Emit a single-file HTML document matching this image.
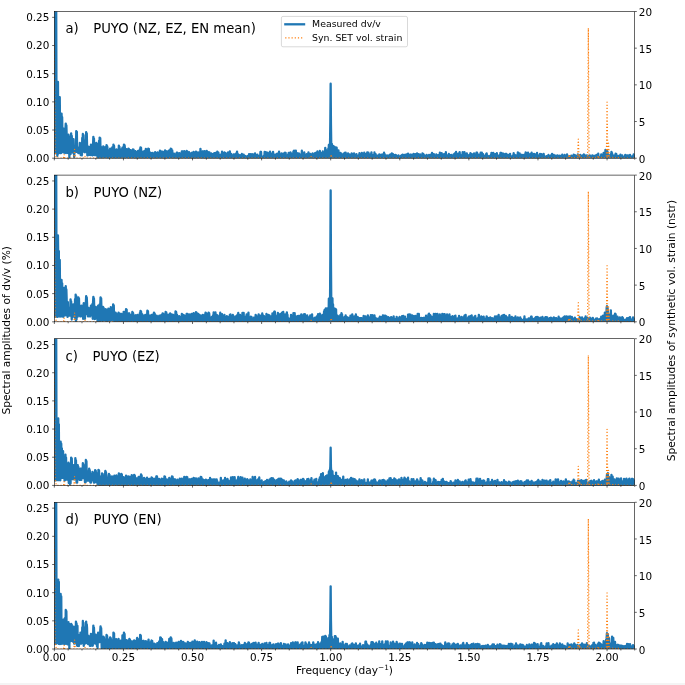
<!DOCTYPE html>
<html lang="en"><head><meta charset="utf-8"><title>PUYO dv/v spectra</title>
<style>html,body{margin:0;padding:0;background:#fff}body{width:685px;height:685px;overflow:hidden}svg{display:block}</style>
</head><body>
<svg width="685" height="685" viewBox="0 0 685 685" font-family="'DejaVu Sans', 'Liberation Sans', sans-serif" fill="#000">
<rect width="685" height="685" fill="#fff"/>
<rect x="0" y="683" width="685" height="2" fill="#f4f4f4"/>
<defs>
<clipPath id="c0"><rect x="54.35" y="11.5" width="580.35" height="146.7"/></clipPath>
<clipPath id="c1"><rect x="54.35" y="175.1" width="580.35" height="146.7"/></clipPath>
<clipPath id="c2"><rect x="54.35" y="338.7" width="580.35" height="146.7"/></clipPath>
<clipPath id="c3"><rect x="54.35" y="502.3" width="580.35" height="146.7"/></clipPath>
</defs>
<g id="panel0">
<path clip-path="url(#c0)" d="M54.35 -8.5L54.65 153.2L54.95 -8.5L55.25 118.2L55.55 -8.5L55.85 153.2L56.15 -8.5L56.45 98.2L56.75 133.4L57.05 95.7L57.35 155.9L57.65 95.4L57.95 82L58.25 127.9L58.55 153.6L58.85 97.8L59.15 153.1L59.45 126.9L59.75 97.2L60.05 130.1L60.35 153.1L60.65 139L60.95 153.2L61.25 132.2L61.55 113.6L61.85 124.4L62.15 117.2L62.45 139.7L62.75 152.2L63.05 139.1L63.35 152.4L63.65 128.7L63.95 152.6L64.25 137.2L64.55 152L64.85 130L65.15 153L65.45 129.9L65.75 123.6L66.05 141.4L66.35 125.3L66.65 134.6L66.95 153L67.25 139.3L67.55 152.9L67.85 145.9L68.15 153L68.45 134.6L68.75 153L69.05 136.3L69.35 157.4L69.65 149.1L69.95 153.8L70.25 147.3L70.55 154.1L70.85 144.1L71.15 133.4L71.45 146.8L71.75 135.9L72.05 143.6L72.35 152.5L72.65 145.8L72.95 152L73.25 149.1L73.55 139.2L73.85 149.6L74.15 157.1L74.45 149.2L74.75 151.8L75.05 146.3L75.35 152.1L75.65 146.3L75.95 151.9L76.25 131.1L76.55 151.5L76.85 131.8L77.15 151.8L77.45 147.5L77.75 152.3L78.05 148.6L78.35 153.1L78.65 151.4L78.95 153.1L79.25 147.5L79.55 153.1L79.85 142.8L80.15 153.1L80.45 143.6L80.75 155.2L81.05 151.4L81.35 155.1L81.65 147.1L81.95 155.4L82.25 137.9L82.55 151.4L82.85 133.9L83.15 151.8L83.45 135.1L83.75 151.7L84.05 148.3L84.35 140.4L84.65 149.8L84.95 152.3L85.25 146.5L85.55 151.6L85.85 144.4L86.15 132.2L86.45 144.8L86.75 133.3L87.05 145.5L87.35 155.4L87.65 150.2L87.95 155.3L88.25 147L88.55 146.6L88.85 147.2L89.15 147.4L89.45 148.4L89.75 154.9L90.05 152.3L90.35 155L90.65 150.9L90.95 144.6L91.25 149.9L91.55 144.9L91.85 150.6L92.15 155.3L92.45 149.8L92.75 155.3L93.05 145.6L93.35 136.9L93.65 140.5L93.95 138.6L94.25 147.8L94.55 155L94.85 150.1L95.15 155.2L95.45 147.6L95.75 155.1L96.05 146.1L96.35 142.8L96.65 150.6L96.95 143.8L97.25 148.2L97.55 157.6L97.85 152.4L98.15 156.3L98.45 151L98.75 158L99.05 140.8L99.35 156.3L99.65 137.6L99.95 157L100.25 138.2L100.55 156.9L100.85 146.6L101.15 157.8L101.45 153L101.75 157.8L102.05 148.4L102.35 156.8L102.65 149.8L102.95 157.2L103.25 146.3L103.55 157.5L103.85 147.2L104.15 156.9L104.45 148.8L104.75 157.2L105.05 147.5L105.35 156.7L105.65 150.3L105.95 157L106.25 149.6L106.55 145.1L106.85 151.5L107.15 146.2L107.45 147.8L107.75 158.2L108.05 150.1L108.35 157.9L108.65 154.1L108.95 158L109.25 150.6L109.55 157.6L109.85 153.2L110.15 148.6L110.45 152.2L110.75 149.4L111.05 153.1L111.35 157.4L111.65 154.3L111.95 157L112.25 147.4L112.55 157.4L112.85 150.5L113.15 158L113.45 144.6L113.75 157L114.05 145.8L114.35 157.2L114.65 153.1L114.95 158L115.25 154.2L115.55 157.2L115.85 154.9L116.15 158L116.45 149.3L116.75 157.5L117.05 150L117.35 157.8L117.65 154.9L117.95 157.5L118.25 152.7L118.55 157.6L118.85 145.6L119.15 157.9L119.45 146.8L119.75 157.1L120.05 150.8L120.35 157.8L120.65 154.6L120.95 157.6L121.25 149.3L121.55 157.2L121.85 150.2L122.15 157.3L122.45 147.6L122.75 157.4L123.05 150.9L123.35 157.4L123.65 149.8L123.95 144.6L124.25 152.4L124.55 145.2L124.85 147.3L125.15 157.8L125.45 153.5L125.75 157.2L126.05 151.7L126.35 149.1L126.65 151.8L126.95 149.5L127.25 150.9L127.55 157.4L127.85 153.9L128.15 158L128.45 148.6L128.75 157.8L129.05 149.2L129.35 157.7L129.65 153L129.95 158.2L130.25 151.4L130.55 150.2L130.85 153.6L131.15 150.5L131.45 152.3L131.75 157.4L132.05 152.8L132.35 157.7L132.65 151.6L132.95 149.3L133.25 152.7L133.55 149.7L133.85 153.5L134.15 157.4L134.45 154L134.75 158.1L135.05 152.1L135.35 151.3L135.65 152.9L135.95 151.5L136.25 152.7L136.55 158.1L136.85 155.2L137.15 158L137.45 154.1L137.75 157.8L138.05 150.9L138.35 158.2L138.65 151.3L138.95 157.6L139.25 152.1L139.55 157.5L139.85 149.4L140.15 157L140.45 147.4L140.75 158.1L141.05 147.7L141.35 157.2L141.65 155L141.95 158.1L142.25 152.8L142.55 157.7L142.85 152.8L143.15 151.6L143.45 155.3L143.75 152L144.05 152.8L144.35 158.1L144.65 151L144.95 158L145.25 150.7L145.55 158.1L145.85 148.9L146.15 157.7L146.45 149.3L146.75 157.2L147.05 153L147.35 157.7L147.65 151.4L147.95 157.5L148.25 148.6L148.55 157.4L148.85 148.8L149.15 157.2L149.45 155.1L149.75 157.9L150.05 155L150.35 152.6L150.65 156L150.95 152.8L151.25 155.1L151.55 158L151.85 155.3L152.15 157.6L152.45 154.9L152.75 153L153.05 154.8L153.35 157.7L153.65 155.1L153.95 157.6L154.25 155.4L154.55 158L154.85 155.2L155.15 152.1L155.45 153.8L155.75 157.9L156.05 155.7L156.35 157.8L156.65 154.6L156.95 157.8L157.25 153.9L157.55 152.3L157.85 154.6L158.15 152.7L158.45 153.1L158.75 157.6L159.05 154.8L159.35 157.3L159.65 154.8L159.95 150.7L160.25 155.3L160.55 151L160.85 152.7L161.15 158.1L161.45 152.5L161.75 157.8L162.05 152.4L162.35 158L162.65 151.7L162.95 157.5L163.25 151.9L163.55 157.8L163.85 155.2L164.15 157.5L164.45 154.1L164.75 157.5L165.05 150.5L165.35 158L165.65 151L165.95 157.8L166.25 154L166.55 157.6L166.85 151.7L167.15 157.6L167.45 154.6L167.75 151.3L168.05 155.1L168.35 151.5L168.65 155.2L168.95 158.1L169.25 150.3L169.55 158L169.85 153.2L170.15 157.1L170.45 152.3L170.75 148.6L171.05 153.5L171.35 148.8L171.65 154.1L171.95 157.8L172.25 150.5L172.55 157.4L172.85 154.9L173.15 157.9L173.45 154.1L173.75 157.9L174.05 153.6L174.35 157.8L174.65 154.6L174.95 157.9L175.25 154.5L175.55 158.1L175.85 154.1L176.15 158.1L176.45 153.9L176.75 152.6L177.05 153.6L177.35 152.8L177.65 154.4L177.95 158.2L178.25 155.4L178.55 158.1L178.85 154.3L179.15 158.1L179.45 153.2L179.75 158L180.05 153.5L180.35 157.6L180.65 155.5L180.95 158.1L181.25 154.2L181.55 158L181.85 151.3L182.15 157.7L182.45 151.4L182.75 157.5L183.05 154.5L183.35 157.4L183.65 154.7L183.95 157.5L184.25 151.2L184.55 157.4L184.85 151.9L185.15 157.8L185.45 154.2L185.75 157.9L186.05 155.1L186.35 157.6L186.65 150.9L186.95 157.4L187.25 151.5L187.55 157.8L187.85 153.5L188.15 157.6L188.45 153.3L188.75 157.8L189.05 152.2L189.35 157.6L189.65 154.3L189.95 157.8L190.25 154.7L190.55 157.6L190.85 155.4L191.15 157.6L191.45 152.8L191.75 157.9L192.05 152.8L192.35 157.4L192.65 152.7L192.95 158.1L193.25 154.3L193.55 151.9L193.85 155.9L194.15 158L194.45 154.4L194.75 158L195.05 154L195.35 157.8L195.65 153.1L195.95 151.6L196.25 153.4L196.55 152.1L196.85 152.7L197.15 157.5L197.45 155.8L197.75 157.9L198.05 155.1L198.35 152.5L198.65 152.6L198.95 152.9L199.25 155.7L199.55 157.4L199.85 154L200.15 157.7L200.45 148.8L200.75 157.2L201.05 153.3L201.35 157.5L201.65 155.5L201.95 158.1L202.25 154.1L202.55 151.3L202.85 154.6L203.15 151.5L203.45 154.5L203.75 158L204.05 153.1L204.35 157.6L204.65 151.2L204.95 158.1L205.25 151.9L205.55 157.5L205.85 154.6L206.15 157.4L206.45 153.6L206.75 150.9L207.05 155.6L207.35 157.7L207.65 152.5L207.95 157.3L208.25 154.3L208.55 158.1L208.85 152.1L209.15 157.8L209.45 152.5L209.75 157.8L210.05 154.1L210.35 158.2L210.65 157.1L210.95 157.7L211.25 153.3L211.55 158L211.85 157L212.15 157.8L212.45 154.2L212.75 158L213.05 154.4L213.35 158.1L213.65 154.7L213.95 157.7L214.25 153.1L214.55 158L214.85 156.1L215.15 157.9L215.45 152.9L215.75 158.2L216.05 156.2L216.35 157.6L216.65 157L216.95 158L217.25 151.7L217.55 157.9L217.85 155.4L218.15 157.7L218.45 152.7L218.75 158L219.05 156.1L219.35 157.8L219.65 155.4L219.95 158L220.25 154.8L220.55 158.2L220.85 155.4L221.15 157.7L221.45 154.3L221.75 157.8L222.05 151.6L222.35 158L222.65 153.1L222.95 157.9L223.25 156.3L223.55 157.7L223.85 152.9L224.15 158L224.45 152.5L224.75 157.8L225.05 156L225.35 157.8L225.65 153.1L225.95 158.2L226.25 154.7L226.55 158L226.85 156.9L227.15 157.8L227.45 154.4L227.75 157.6L228.05 152.5L228.35 157.9L228.65 154L228.95 158.2L229.25 156.6L229.55 157.8L229.85 151.5L230.15 158L230.45 154.2L230.75 157.7L231.05 153.8L231.35 158L231.65 155.6L231.95 157.8L232.25 155.9L232.55 158.1L232.85 156.7L233.15 158.1L233.45 154.5L233.75 157.7L234.05 154.6L234.35 157.6L234.65 154.3L234.95 157.8L235.25 155.7L235.55 158L235.85 154.2L236.15 158L236.45 153.1L236.75 158.1L237.05 151.6L237.35 157.6L237.65 155.5L237.95 158L238.25 154.3L238.55 157.8L238.85 154.8L239.15 157.7L239.45 155.2L239.75 158.1L240.05 155.3L240.35 157.8L240.65 156.3L240.95 157.6L241.25 154.9L241.55 157.8L241.85 154L242.15 158L242.45 157.4L242.75 158L243.05 157.6L243.35 158.1L243.65 154.6L243.95 158L244.25 156.2L244.55 157.7L244.85 156L245.15 158L245.45 156.6L245.75 157.8L246.05 156.3L246.35 157.8L246.65 156.7L246.95 157.7L247.25 156.8L247.55 157.9L247.85 155.9L248.15 158L248.45 155.6L248.75 158.1L249.05 154.2L249.35 157.9L249.65 154.8L249.95 157.7L250.25 154.1L250.55 157.9L250.85 155.3L251.15 158L251.45 156.5L251.75 157.8L252.05 154.2L252.35 157.9L252.65 156.3L252.95 157.9L253.25 156.4L253.55 158.2L253.85 154.5L254.15 158.2L254.45 155.8L254.75 157.8L255.05 153.3L255.35 157.9L255.65 156.1L255.95 158.1L256.25 155.4L256.55 158L256.85 155.6L257.15 158L257.45 154.7L257.75 157.9L258.05 155.9L258.35 158L258.65 157.1L258.95 157.7L259.25 156.1L259.55 157.6L259.85 155.7L260.15 157.8L260.45 152L260.75 157.9L261.05 152L261.35 158.1L261.65 157L261.95 158.1L262.25 157.1L262.55 157.6L262.85 156.6L263.15 157.8L263.45 157.1L263.75 157.8L264.05 155.6L264.35 157.8L264.65 151.9L264.95 157.8L265.25 155.5L265.55 157.7L265.85 152.2L266.15 157.6L266.45 153.2L266.75 157.9L267.05 157.4L267.35 158.1L267.65 152.7L267.95 157.6L268.25 156.7L268.55 157.8L268.85 155.8L269.15 157.6L269.45 153.2L269.75 158L270.05 151.7L270.35 157.9L270.65 156.8L270.95 157.9L271.25 153.6L271.55 157.8L271.85 156.8L272.15 158L272.45 155.4L272.75 158.1L273.05 151.8L273.35 158.2L273.65 155L273.95 158.1L274.25 154.6L274.55 157.6L274.85 157.5L275.15 158L275.45 156.1L275.75 157.7L276.05 154.5L276.35 157.6L276.65 157.4L276.95 157.6L277.25 153.6L277.55 157.8L277.85 156.6L278.15 157.6L278.45 154L278.75 158.1L279.05 151.7L279.35 158.1L279.65 157.4L279.95 157.8L280.25 155.8L280.55 158.1L280.85 155.5L281.15 157.9L281.45 153.5L281.75 157.9L282.05 155L282.35 158.2L282.65 153.8L282.95 157.8L283.25 155.1L283.55 157.7L283.85 154.3L284.15 157.8L284.45 152.9L284.75 157.7L285.05 153L285.35 157.8L285.65 152.8L285.95 157.8L286.25 156.3L286.55 158.1L286.85 156.9L287.15 157.5L287.45 156.8L287.75 157.9L288.05 154.6L288.35 157.8L288.65 153L288.95 157.7L289.25 155.6L289.55 157.7L289.85 154.4L290.15 157.9L290.45 152.3L290.75 157.9L291.05 154.5L291.35 157.5L291.65 153.7L291.95 158L292.25 154.6L292.55 158.2L292.85 154.7L293.15 157.9L293.45 151.3L293.75 158L294.05 150.7L294.35 157.5L294.65 156.1L294.95 157.7L295.25 155.3L295.55 158.1L295.85 150.7L296.15 158L296.45 154.2L296.75 158L297.05 153.2L297.35 157.8L297.65 155.7L297.95 157.5L298.25 156.4L298.55 157.8L298.85 153.5L299.15 158L299.45 154.1L299.75 157.8L300.05 156L300.35 157.6L300.65 155.4L300.95 157.7L301.25 155L301.55 157.7L301.85 150.7L302.15 157.7L302.45 154.9L302.75 158.2L303.05 156L303.35 158.1L303.65 156.2L303.95 158L304.25 152.3L304.55 157.9L304.85 158L305.15 158L305.45 157L305.75 157.9L306.05 155.1L306.35 157.8L306.65 154.1L306.95 158.1L307.25 155.2L307.55 157.8L307.85 156.5L308.15 157.7L308.45 152.4L308.75 157.5L309.05 154.5L309.35 157.7L309.65 156.9L309.95 158.1L310.25 154L310.55 158L310.85 156.7L311.15 157.6L311.45 154.6L311.75 158.2L312.05 155.9L312.35 157.5L312.65 153.4L312.95 157.8L313.25 157.4L313.55 158L313.85 156.5L314.15 157.9L314.45 154.1L314.75 157.7L315.05 153.1L315.35 158L315.65 153.7L315.95 158.2L316.25 152.6L316.55 157.9L316.85 154.2L317.15 157.7L317.45 151.5L317.75 157.6L318.05 153.7L318.35 157.8L318.65 155.1L318.95 158L319.25 155.4L319.55 158L319.85 151L320.15 157.8L320.45 155.5L320.75 157.9L321.05 154.5L321.35 158.2L321.65 152.8L321.95 157.8L322.25 156.5L322.55 157.6L322.85 151.5L323.15 157.8L323.45 155.1L323.75 158.1L324.05 153.4L324.35 158.1L324.65 153.9L324.95 158L325.25 147.9L325.55 157.3L325.85 149.7L326.15 158.2L326.45 152L326.75 157.6L327.05 154.1L327.35 157.2L327.65 153.7L327.95 158.1L328.25 148.7L328.55 157.7L328.85 145L329.15 158L329.45 144.5L329.75 157.4L330.05 143.9L330.35 120.5L330.65 83.7L330.95 124.2L331.25 144.9L331.55 157.8L331.85 143.8L332.15 157.7L332.45 145.8L332.75 157.2L333.05 146L333.35 158L333.65 155.3L333.95 157.6L334.25 146.6L334.55 157.8L334.85 151.1L335.15 157.5L335.45 147.7L335.75 158.1L336.05 147.7L336.35 157.6L336.65 147.7L336.95 157.7L337.25 154L337.55 158.1L337.85 154.8L338.15 157.7L338.45 150.4L338.75 158L339.05 156.5L339.35 157.9L339.65 155.6L339.95 157.9L340.25 152.9L340.55 158L340.85 154.8L341.15 158L341.45 153.6L341.75 157.7L342.05 154.4L342.35 157.9L342.65 155.9L342.95 158.2L343.25 156.1L343.55 158L343.85 153.8L344.15 157.8L344.45 153L344.75 157.9L345.05 154L345.35 157.9L345.65 152.6L345.95 157.6L346.25 155.3L346.55 157.9L346.85 154.9L347.15 157.7L347.45 156.3L347.75 157.8L348.05 153.4L348.35 157.9L348.65 157.4L348.95 157.8L349.25 154.3L349.55 157.9L349.85 156L350.15 157.6L350.45 155.9L350.75 158.2L351.05 154.6L351.35 157.8L351.65 153.3L351.95 157.8L352.25 155.1L352.55 158L352.85 154.5L353.15 158.1L353.45 154L353.75 157.9L354.05 153.3L354.35 158.1L354.65 155.4L354.95 158.2L355.25 155.4L355.55 158L355.85 155.8L356.15 158.2L356.45 154.1L356.75 158.1L357.05 156.4L357.35 158.1L357.65 156.1L357.95 157.8L358.25 157L358.55 158.2L358.85 155.1L359.15 158L359.45 153.2L359.75 157.9L360.05 154.4L360.35 158.1L360.65 154.3L360.95 157.8L361.25 155.9L361.55 158L361.85 152.8L362.15 158.2L362.45 155.2L362.75 157.8L363.05 153.9L363.35 157.9L363.65 155.6L363.95 158.1L364.25 152.6L364.55 158.1L364.85 156L365.15 158L365.45 154.1L365.75 157.9L366.05 156.8L366.35 157.7L366.65 154.9L366.95 158.1L367.25 152.4L367.55 158L367.85 155.6L368.15 157.8L368.45 152.7L368.75 157.7L369.05 156.3L369.35 158L369.65 156.4L369.95 157.7L370.25 154.3L370.55 157.7L370.85 155L371.15 158L371.45 152.4L371.75 157.7L372.05 156L372.35 157.9L372.65 157.2L372.95 157.9L373.25 155.2L373.55 157.8L373.85 157.1L374.15 158.2L374.45 152.5L374.75 158.1L375.05 154.3L375.35 157.7L375.65 154.1L375.95 158L376.25 156.3L376.55 158L376.85 157.8L377.15 157.9L377.45 155.6L377.75 158L378.05 157.1L378.35 158.1L378.65 155.4L378.95 157.7L379.25 154.5L379.55 158L379.85 154.6L380.15 157.7L380.45 155.7L380.75 158L381.05 155L381.35 158.1L381.65 154.6L381.95 157.8L382.25 156.8L382.55 158L382.85 158L383.15 158L383.45 154L383.75 158L384.05 152.7L384.35 158L384.65 154.2L384.95 157.7L385.25 155.4L385.55 157.9L385.85 156.6L386.15 157.9L386.45 156L386.75 158.1L387.05 155.5L387.35 157.9L387.65 155.9L387.95 157.9L388.25 157.1L388.55 157.8L388.85 157.4L389.15 157.7L389.45 155L389.75 157.9L390.05 156.4L390.35 158.2L390.65 154.5L390.95 158.1L391.25 156.1L391.55 158L391.85 153.3L392.15 157.7L392.45 154L392.75 157.9L393.05 154.2L393.35 157.8L393.65 154.9L393.95 158L394.25 155.7L394.55 157.8L394.85 155.4L395.15 158.1L395.45 154.9L395.75 158.1L396.05 155.1L396.35 157.9L396.65 156L396.95 157.7L397.25 156.9L397.55 158.1L397.85 156.1L398.15 158L398.45 155.3L398.75 157.9L399.05 157.3L399.35 158L399.65 156.6L399.95 157.8L400.25 156.5L400.55 157.8L400.85 155.8L401.15 158.2L401.45 155.5L401.75 158L402.05 156.5L402.35 157.9L402.65 154.6L402.95 157.7L403.25 155.9L403.55 158.1L403.85 156.2L404.15 158L404.45 154.9L404.75 158.1L405.05 157L405.35 157.7L405.65 157.1L405.95 157.8L406.25 154.5L406.55 158L406.85 155.5L407.15 158L407.45 154.7L407.75 158.2L408.05 153.6L408.35 158.2L408.65 157.4L408.95 157.8L409.25 154.9L409.55 158.1L409.85 157.9L410.15 157.8L410.45 154.6L410.75 157.9L411.05 154.6L411.35 158L411.65 154.8L411.95 158L412.25 157.3L412.55 157.8L412.85 155.3L413.15 158.2L413.45 153.9L413.75 158.1L414.05 157.2L414.35 157.9L414.65 156.5L414.95 158L415.25 154.1L415.55 158.2L415.85 156.6L416.15 157.8L416.45 157.7L416.75 157.8L417.05 153.5L417.35 158.2L417.65 156.5L417.95 158.1L418.25 154.2L418.55 158.1L418.85 157.1L419.15 158L419.45 154.9L419.75 157.8L420.05 154.5L420.35 158.2L420.65 156.8L420.95 158L421.25 156.5L421.55 157.8L421.85 156.4L422.15 157.7L422.45 153.3L422.75 158.2L423.05 153.9L423.35 158L423.65 154.4L423.95 157.8L424.25 155.5L424.55 157.9L424.85 156.9L425.15 158.2L425.45 155.9L425.75 157.7L426.05 155.6L426.35 157.8L426.65 154.9L426.95 157.7L427.25 156.3L427.55 157.9L427.85 156.4L428.15 158.1L428.45 155.6L428.75 157.9L429.05 154.8L429.35 157.9L429.65 156.6L429.95 158.1L430.25 156.5L430.55 157.9L430.85 154.8L431.15 158L431.45 154.2L431.75 158L432.05 152.9L432.35 158.1L432.65 157.2L432.95 157.7L433.25 156.4L433.55 158.2L433.85 154.1L434.15 157.9L434.45 155.8L434.75 158.1L435.05 156.4L435.35 157.7L435.65 156.2L435.95 158.1L436.25 154.5L436.55 158L436.85 155.8L437.15 158.1L437.45 155.4L437.75 157.7L438.05 155.2L438.35 157.9L438.65 155.3L438.95 158.2L439.25 155.6L439.55 157.7L439.85 152.7L440.15 158.1L440.45 155.2L440.75 157.9L441.05 157L441.35 157.9L441.65 153.2L441.95 157.7L442.25 156.2L442.55 157.7L442.85 155.6L443.15 158.1L443.45 154.3L443.75 158L444.05 154.2L444.35 158.1L444.65 154.7L444.95 158.1L445.25 155.4L445.55 158L445.85 152.2L446.15 157.7L446.45 154.8L446.75 158L447.05 157.1L447.35 157.9L447.65 156.7L447.95 157.9L448.25 156.4L448.55 158L448.85 154L449.15 157.7L449.45 154.8L449.75 158.1L450.05 156.1L450.35 158L450.65 156.2L450.95 157.9L451.25 155L451.55 157.7L451.85 155.3L452.15 158.2L452.45 156.8L452.75 157.8L453.05 155.5L453.35 157.7L453.65 154.4L453.95 157.9L454.25 155.3L454.55 158L454.85 153.3L455.15 157.8L455.45 156.6L455.75 157.7L456.05 152L456.35 158.1L456.65 153.7L456.95 158.2L457.25 155.8L457.55 157.6L457.85 156.8L458.15 158.2L458.45 153.6L458.75 157.9L459.05 154.7L459.35 157.8L459.65 152.1L459.95 157.9L460.25 154.6L460.55 158.1L460.85 155.8L461.15 157.9L461.45 157.2L461.75 158.1L462.05 157L462.35 157.8L462.65 152.1L462.95 157.7L463.25 152.8L463.55 157.7L463.85 157.4L464.15 157.9L464.45 152.2L464.75 158.2L465.05 154L465.35 158.1L465.65 154L465.95 157.9L466.25 155.8L466.55 158L466.85 153.5L467.15 158L467.45 158L467.75 157.9L468.05 155.6L468.35 158.1L468.65 156.8L468.95 158.1L469.25 154.8L469.55 157.9L469.85 156.8L470.15 158L470.45 153.1L470.75 157.8L471.05 155.5L471.35 157.8L471.65 154.2L471.95 157.6L472.25 155.4L472.55 158.2L472.85 156.2L473.15 157.9L473.45 154.1L473.75 158.1L474.05 153.5L474.35 157.9L474.65 155.5L474.95 157.8L475.25 157.1L475.55 157.7L475.85 154.9L476.15 157.9L476.45 152.6L476.75 158L477.05 152.6L477.35 158L477.65 157.2L477.95 157.8L478.25 155.9L478.55 157.7L478.85 154.7L479.15 157.7L479.45 155L479.75 158.2L480.05 154.7L480.35 157.9L480.65 152.7L480.95 157.9L481.25 156.6L481.55 157.7L481.85 152.7L482.15 157.9L482.45 156.8L482.75 158L483.05 154.2L483.35 158L483.65 157.5L483.95 158L484.25 156.5L484.55 157.8L484.85 156L485.15 158.1L485.45 155.8L485.75 158.1L486.05 154.1L486.35 157.8L486.65 153.4L486.95 157.7L487.25 155.3L487.55 157.7L487.85 156.5L488.15 158.1L488.45 156.4L488.75 158.2L489.05 156.1L489.35 157.7L489.65 157.7L489.95 158.2L490.25 156.3L490.55 158L490.85 154.9L491.15 157.8L491.45 152.8L491.75 157.7L492.05 155.9L492.35 158.1L492.65 156L492.95 158.1L493.25 152.8L493.55 158.1L493.85 153.9L494.15 157.8L494.45 154.3L494.75 157.7L495.05 154.5L495.35 157.8L495.65 154.2L495.95 157.7L496.25 155.1L496.55 157.8L496.85 153.2L497.15 157.9L497.45 156.2L497.75 158.1L498.05 156.7L498.35 157.9L498.65 155.7L498.95 158L499.25 155.4L499.55 158L499.85 155.6L500.15 157.9L500.45 152.8L500.75 157.7L501.05 153L501.35 157.9L501.65 157.6L501.95 157.7L502.25 154.7L502.55 158.2L502.85 153.3L503.15 158.1L503.45 155.1L503.75 157.7L504.05 156.7L504.35 157.7L504.65 154.1L504.95 158.1L505.25 153.9L505.55 157.7L505.85 155.1L506.15 157.7L506.45 154L506.75 157.8L507.05 155L507.35 158.1L507.65 156.2L507.95 157.7L508.25 154.8L508.55 158.1L508.85 157.6L509.15 157.9L509.45 156.4L509.75 158L510.05 153.9L510.35 157.8L510.65 156.7L510.95 157.8L511.25 156.5L511.55 158.1L511.85 156.5L512.15 158L512.45 156.5L512.75 157.9L513.05 155.4L513.35 158.1L513.65 153.2L513.95 158.1L514.25 156.7L514.55 157.7L514.85 154.8L515.15 157.7L515.45 156.5L515.75 157.8L516.05 156.7L516.35 157.9L516.65 155.3L516.95 158L517.25 157.1L517.55 158.1L517.85 152.4L518.15 157.8L518.45 154.6L518.75 157.7L519.05 154.2L519.35 157.9L519.65 153.4L519.95 157.8L520.25 155.5L520.55 157.8L520.85 156.2L521.15 158.1L521.45 155L521.75 157.9L522.05 154.9L522.35 157.6L522.65 157L522.95 157.7L523.25 155.5L523.55 157.8L523.85 156.6L524.15 158L524.45 154.7L524.75 158.1L525.05 156L525.35 157.9L525.65 152.5L525.95 157.8L526.25 153.3L526.55 157.8L526.85 153.3L527.15 157.7L527.45 153.5L527.75 157.8L528.05 152.6L528.35 158L528.65 157.2L528.95 158L529.25 156.5L529.55 157.8L529.85 154.3L530.15 157.8L530.45 153.9L530.75 158L531.05 155.1L531.35 157.8L531.65 152.7L531.95 157.7L532.25 154.1L532.55 157.8L532.85 155.5L533.15 157.9L533.45 154.6L533.75 157.9L534.05 153.8L534.35 157.8L534.65 155.2L534.95 158.1L535.25 154.4L535.55 158L535.85 155L536.15 157.8L536.45 156.3L536.75 158.2L537.05 153L537.35 158L537.65 155.2L537.95 158.2L538.25 156.3L538.55 158L538.85 157.4L539.15 158.1L539.45 155.5L539.75 158.2L540.05 153.8L540.35 157.8L540.65 156.3L540.95 157.9L541.25 154.1L541.55 158L541.85 156.6L542.15 157.9L542.45 154.8L542.75 158L543.05 155.7L543.35 158.2L543.65 153.8L543.95 158.1L544.25 155.7L544.55 157.8L544.85 157.8L545.15 157.7L545.45 157.2L545.75 157.7L546.05 157.7L546.35 157.8L546.65 156.2L546.95 158.2L547.25 156.9L547.55 158.2L547.85 157.1L548.15 158.1L548.45 155L548.75 158L549.05 155.9L549.35 158.1L549.65 156.7L549.95 158L550.25 157.4L550.55 157.9L550.85 155.5L551.15 157.9L551.45 155.2L551.75 157.9L552.05 153.9L552.35 158.1L552.65 157.1L552.95 157.9L553.25 156.6L553.55 158.1L553.85 155L554.15 157.9L554.45 155.8L554.75 158.1L555.05 155.8L555.35 158.1L555.65 155.7L555.95 157.8L556.25 156.7L556.55 158.2L556.85 156.9L557.15 158.1L557.45 155.4L557.75 157.9L558.05 155.7L558.35 158.2L558.65 157.3L558.95 158.1L559.25 156.1L559.55 158L559.85 155.6L560.15 158L560.45 155.8L560.75 158L561.05 157.2L561.35 158L561.65 156.5L561.95 157.8L562.25 154.6L562.55 158.1L562.85 157L563.15 158.1L563.45 156.2L563.75 157.9L564.05 155.8L564.35 157.9L564.65 155L564.95 158L565.25 155.6L565.55 158L565.85 157.4L566.15 158L566.45 157.7L566.75 158L567.05 154.3L567.35 157.8L567.65 157L567.95 158.2L568.25 156.7L568.55 158.1L568.85 156.5L569.15 158.2L569.45 157L569.75 158.1L570.05 156.2L570.35 158L570.65 156.1L570.95 157.9L571.25 155.6L571.55 157.8L571.85 157.8L572.15 158L572.45 156.4L572.75 157.8L573.05 156.4L573.35 157.8L573.65 154.6L573.95 157.9L574.25 156.2L574.55 158L574.85 155.1L575.15 157.9L575.45 156.7L575.75 157.8L576.05 155.8L576.35 157.8L576.65 157.1L576.95 157.9L577.25 156.4L577.55 157.8L577.85 154.5L578.15 158L578.45 155.8L578.75 158L579.05 155.6L579.35 158L579.65 155.2L579.95 158L580.25 154.9L580.55 157.8L580.85 155.9L581.15 158L581.45 156.3L581.75 157.9L582.05 155.7L582.35 157.9L582.65 155.5L582.95 158.1L583.25 155.7L583.55 157.8L583.85 154.5L584.15 158.1L584.45 156.3L584.75 157.9L585.05 155.4L585.35 158L585.65 158L585.95 158.1L586.25 158.1L586.55 158.1L586.85 155.4L587.15 158.1L587.45 157.5L587.75 157.8L588.05 155.9L588.35 157.8L588.65 157.4L588.95 157.8L589.25 157.6L589.55 158L589.85 155.5L590.15 157.9L590.45 156.4L590.75 157.9L591.05 157.5L591.35 158.2L591.65 157.7L591.95 157.9L592.25 155.4L592.55 158L592.85 156.9L593.15 158.1L593.45 155.9L593.75 158L594.05 157.1L594.35 158.1L594.65 155.8L594.95 158L595.25 156L595.55 158.1L595.85 156.5L596.15 157.9L596.45 154.8L596.75 157.9L597.05 157.1L597.35 158L597.65 155.7L597.95 158L598.25 153.7L598.55 157.9L598.85 156.6L599.15 157.8L599.45 158L599.75 157.9L600.05 157.9L600.35 158L600.65 156.8L600.95 158L601.25 154.4L601.55 157.7L601.85 157.7L602.15 157.8L602.45 155.6L602.75 158L603.05 154.6L603.35 158L603.65 152.9L603.95 158.2L604.25 156L604.55 157.7L604.85 154.2L605.15 158.1L605.45 149.8L605.75 157.9L606.05 153.2L606.35 158.1L606.65 152.8L606.95 150.8L607.25 153.1L607.55 151.7L607.85 156.4L608.15 158.1L608.45 155.1L608.75 158.1L609.05 156.2L609.35 157.5L609.65 155.4L609.95 157.7L610.25 156.3L610.55 158L610.85 154.2L611.15 157.6L611.45 151.8L611.75 158L612.05 153.1L612.35 157.9L612.65 155L612.95 158.1L613.25 156.8L613.55 158L613.85 156.2L614.15 158.1L614.45 155.6L614.75 157.7L615.05 155.1L615.35 158.1L615.65 153.7L615.95 158L616.25 154L616.55 158.1L616.85 156.1L617.15 158.1L617.45 156.2L617.75 157.7L618.05 155.8L618.35 157.7L618.65 156.2L618.95 158L619.25 155.8L619.55 158L619.85 156.7L620.15 158.1L620.45 154.6L620.75 158.1L621.05 155.4L621.35 158L621.65 155.8L621.95 158.1L622.25 155.4L622.55 158.1L622.85 157.5L623.15 157.8L623.45 156.8L623.75 158.1L624.05 157.8L624.35 157.9L624.65 157.5L624.95 158.1L625.25 154.9L625.55 157.8L625.85 155.1L626.15 157.8L626.45 157.5L626.75 158.2L627.05 157.5L627.35 158.1L627.65 155.3L627.95 158.1L628.25 156.1L628.55 157.8L628.85 157.3L629.15 157.9L629.45 155.1L629.75 157.8L630.05 154.8L630.35 157.8L630.65 156.8L630.95 157.8L631.25 156.5L631.55 158.2L631.85 157L632.15 157.9L632.45 156.5L632.75 157.9L633.05 155.9L633.35 157.8L633.65 154.4L633.95 157.9L634.25 156.3L634.55 158" fill="none" stroke="#1f77b4" stroke-width="2.3" stroke-linejoin="round" stroke-linecap="butt"/>
<path d="M54.35 158.2v2.2M68.17 158.2v1.5M81.99 158.2v1.5M95.8 158.2v1.5M109.62 158.2v1.5M123.44 158.2v2.2M137.26 158.2v1.5M151.08 158.2v1.5M164.89 158.2v1.5M178.71 158.2v1.5M192.53 158.2v2.2M206.35 158.2v1.5M220.16 158.2v1.5M233.98 158.2v1.5M247.8 158.2v1.5M261.62 158.2v2.2M275.44 158.2v1.5M289.25 158.2v1.5M303.07 158.2v1.5M316.89 158.2v1.5M330.71 158.2v2.2M344.53 158.2v1.5M358.34 158.2v1.5M372.16 158.2v1.5M385.98 158.2v1.5M399.8 158.2v2.2M413.61 158.2v1.5M427.43 158.2v1.5M441.25 158.2v1.5M455.07 158.2v1.5M468.89 158.2v2.2M482.7 158.2v1.5M496.52 158.2v1.5M510.34 158.2v1.5M524.16 158.2v1.5M537.98 158.2v2.2M551.79 158.2v1.5M565.61 158.2v1.5M579.43 158.2v1.5M593.25 158.2v1.5M607.06 158.2v2.2M620.88 158.2v1.5M634.7 158.2v1.5M54.35 158.2h-2.2M54.35 130.03h-2.2M54.35 101.86h-2.2M54.35 73.69h-2.2M54.35 45.52h-2.2M54.35 17.35h-2.2M634.7 158.2h2.1M634.7 121.52h2.1M634.7 84.85h2.1M634.7 48.17h2.1M634.7 11.5h2.1" stroke="#000" stroke-width="0.6" fill="none"/>
<text x="49.35" y="162.15" font-size="10.4" text-anchor="end">0.00</text>
<text x="49.35" y="133.98" font-size="10.4" text-anchor="end">0.05</text>
<text x="49.35" y="105.81" font-size="10.4" text-anchor="end">0.10</text>
<text x="49.35" y="77.64" font-size="10.4" text-anchor="end">0.15</text>
<text x="49.35" y="49.47" font-size="10.4" text-anchor="end">0.20</text>
<text x="49.35" y="21.3" font-size="10.4" text-anchor="end">0.25</text>
<text x="638.8" y="162.8" font-size="10.4">0</text>
<text x="638.8" y="126.12" font-size="10.4">5</text>
<text x="638.8" y="89.45" font-size="10.4">10</text>
<text x="638.8" y="52.77" font-size="10.4">15</text>
<text x="638.8" y="16.1" font-size="10.4">20</text>
<path clip-path="url(#c0)" d="M54.35 45.2L55 151.6L55.65 153.8L56.3 158.2L56.95 158.2L57.6 158.2L58.25 158.2L58.9 158.2L59.55 158.2L60.2 158.2L60.85 158.2L61.5 158.2L62.15 158.2L62.8 158.2L63.45 158.2L64.1 154.5L64.75 158.2L65.4 158.2L66.05 158.2L66.7 158.2L67.35 158.2L68 158.2L68.65 158.2L69.3 158.2L69.95 158.2L70.6 158.2L71.25 158.2L71.9 158.2L72.55 158.2L73.2 158.2L73.85 158.2L74.5 158.2L75.15 158.2L75.8 158.2L76.45 158.2L77.1 158.2L77.75 158.2L78.4 158.2L79.05 158.2L79.7 158.2L80.35 158.2L81 158.2L81.65 158.2L82.3 158.2L82.95 158.2L83.6 158.2L84.25 158.2L84.9 156.4L85.55 158.2L86.2 158.2L86.85 158.2L87.5 158.2L88.15 158.2L88.8 158.2L89.45 158.2L90.1 158.2L90.75 158.2L91.4 158.2L92.05 158.2L92.7 158.2L93.35 158.2L94 158.2L94.65 158.2L95.3 158.2L95.95 158.2L96.6 158.2L97.25 158.2L97.9 158.2L98.55 158.2L99.2 158.2L99.85 158.2L100.5 158.2L101.15 158.2L101.8 158.2L102.45 158.2L103.1 158.2L103.75 158.2L104.4 158.2L105.05 158.2L105.7 158.2L106.35 158.2L107 158.2L107.65 158.2L108.3 158.2L108.95 158.2L109.6 158.2L110.25 158.2L110.9 158.2L111.55 158.2L112.2 158.2L112.85 158.2L113.5 158.2L114.15 158.2L114.8 158.2L115.45 158.2L116.1 158.2L116.75 158.2L117.4 158.2L118.05 158.2L118.7 158.2L119.35 158.2L120 158.2L120.65 158.2L121.3 158.2L121.95 158.2L122.6 158.2L123.25 158.2L123.9 158.2L124.55 158.2L125.2 158.2L125.85 158.2L126.5 158.2L127.15 158.2L127.8 158.2L128.45 158.2L129.1 158.2L129.75 158.2L130.4 158.2L131.05 158.2L131.7 158.2L132.35 158.2L133 158.2L133.65 158.2L134.3 158.2L134.95 158.2L135.6 158.2L136.25 158.2L136.9 158.2L137.55 158.2L138.2 158.2L138.85 158.2L139.5 158.2L140.15 158.2L140.8 158.2L141.45 158.2L142.1 158.2L142.75 158.2L143.4 158.2L144.05 158.2L144.7 158.2L145.35 158.2L146 158.2L146.65 158.2L147.3 158.2L147.95 158.2L148.6 158.2L149.25 158.2L149.9 158.2L150.55 158.2L151.2 158.2L151.85 158.2L152.5 158.2L153.15 158.2L153.8 158.2L154.45 158.2L155.1 158.2L155.75 158.2L156.4 158.2L157.05 158.2L157.7 158.2L158.35 158.2L159 158.2L159.65 158.2L160.3 158.2L160.95 158.2L161.6 158.2L162.25 158.2L162.9 158.2L163.55 158.2L164.2 158.2L164.85 158.2L165.5 158.2L166.15 158.2L166.8 158.2L167.45 158.2L168.1 158.2L168.75 158.2L169.4 158.2L170.05 158.2L170.7 158.2L171.35 158.2L172 158.2L172.65 158.2L173.3 158.2L173.95 158.2L174.6 158.2L175.25 158.2L175.9 158.2L176.55 158.2L177.2 158.2L177.85 158.2L178.5 158.2L179.15 158.2L179.8 158.2L180.45 158.2L181.1 158.2L181.75 158.2L182.4 158.2L183.05 158.2L183.7 158.2L184.35 158.2L185 158.2L185.65 158.2L186.3 158.2L186.95 158.2L187.6 158.2L188.25 158.2L188.9 158.2L189.55 158.2L190.2 158.2L190.85 158.2L191.5 158.2L192.15 158.2L192.8 158.2L193.45 158.2L194.1 158.2L194.75 158.2L195.4 158.2L196.05 158.2L196.7 158.2L197.35 158.2L198 158.2L198.65 158.2L199.3 158.2L199.95 158.2L200.6 158.2L201.25 158.2L201.9 158.2L202.55 158.2L203.2 158.2L203.85 158.2L204.5 158.2L205.15 158.2L205.8 158.2L206.45 158.2L207.1 158.2L207.75 158.2L208.4 158.2L209.05 158.2L209.7 158.2L210.35 158.2L211 158.2L211.65 158.2L212.3 158.2L212.95 158.2L213.6 158.2L214.25 158.2L214.9 158.2L215.55 158.2L216.2 158.2L216.85 158.2L217.5 158.2L218.15 158.2L218.8 158.2L219.45 158.2L220.1 158.2L220.75 158.2L221.4 158.2L222.05 158.2L222.7 158.2L223.35 158.2L224 158.2L224.65 158.2L225.3 158.2L225.95 158.2L226.6 158.2L227.25 158.2L227.9 158.2L228.55 158.2L229.2 158.2L229.85 158.2L230.5 158.2L231.15 158.2L231.8 158.2L232.45 158.2L233.1 158.2L233.75 158.2L234.4 158.2L235.05 158.2L235.7 158.2L236.35 158.2L237 158.2L237.65 158.2L238.3 158.2L238.95 158.2L239.6 158.2L240.25 158.2L240.9 158.2L241.55 158.2L242.2 158.2L242.85 158.2L243.5 158.2L244.15 158.2L244.8 158.2L245.45 158.2L246.1 158.2L246.75 158.2L247.4 158.2L248.05 158.2L248.7 158.2L249.35 158.2L250 158.2L250.65 158.2L251.3 158.2L251.95 158.2L252.6 158.2L253.25 158.2L253.9 158.2L254.55 158.2L255.2 158.2L255.85 158.2L256.5 158.2L257.15 158.2L257.8 158.2L258.45 158.2L259.1 158.2L259.75 158.2L260.4 158.2L261.05 158.2L261.7 158.2L262.35 158.2L263 158.2L263.65 158.2L264.3 158.2L264.95 158.2L265.6 158.2L266.25 158.2L266.9 158.2L267.55 158.2L268.2 158.2L268.85 158.2L269.5 158.2L270.15 158.2L270.8 158.2L271.45 158.2L272.1 158.2L272.75 158.2L273.4 158.2L274.05 158.2L274.7 158.2L275.35 158.2L276 158.2L276.65 158.2L277.3 158.2L277.95 158.2L278.6 158.2L279.25 158.2L279.9 158.2L280.55 158.2L281.2 158.2L281.85 158.2L282.5 158.2L283.15 158.2L283.8 158.2L284.45 158.2L285.1 158.2L285.75 158.2L286.4 158.2L287.05 158.2L287.7 158.2L288.35 158.2L289 158.2L289.65 158.2L290.3 158.2L290.95 158.2L291.6 158.2L292.25 158.2L292.9 158.2L293.55 158.2L294.2 158.2L294.85 158.2L295.5 158.2L296.15 158.2L296.8 158.2L297.45 158.2L298.1 158.2L298.75 158.2L299.4 158.2L300.05 158.2L300.7 158.2L301.35 158.2L302 158.2L302.65 158.2L303.3 158.2L303.95 158.2L304.6 158.2L305.25 158.2L305.9 158.2L306.55 158.2L307.2 158.2L307.85 158.2L308.5 158.2L309.15 158.2L309.8 158.2L310.45 158.2L311.1 156.6L311.75 158.2L312.4 158.2L313.05 158.2L313.7 158.2L314.35 158.2L315 158.2L315.65 158.2L316.3 158.2L316.95 158.2L317.6 158.2L318.25 158.2L318.9 158.2L319.55 158.2L320.2 158.2L320.85 158.2L321.5 158.2L322.15 158.2L322.8 158.2L323.45 158.2L324.1 158.2L324.75 158.2L325.4 158.2L326.05 158.2L326.7 158.2L327.35 158.2L328 158.2L328.65 158.2L329.3 158.2L329.95 158.2L330.6 157.1L331.25 154.5L331.9 158.2L332.55 158.2L333.2 158.2L333.85 158.2L334.5 158.2L335.15 158.2L335.8 158.2L336.45 158.2L337.1 158.2L337.75 158.2L338.4 158.2L339.05 158.2L339.7 158.2L340.35 158.2L341 158.2L341.65 158.2L342.3 158.2L342.95 158.2L343.6 158.2L344.25 158.2L344.9 158.2L345.55 158.2L346.2 158.2L346.85 158.2L347.5 158.2L348.15 158.2L348.8 158.2L349.45 158.2L350.1 158.2L350.75 158.2L351.4 158.2L352.05 158.2L352.7 158.2L353.35 158.2L354 158.2L354.65 158.2L355.3 158.2L355.95 158.2L356.6 158.2L357.25 158.2L357.9 158.2L358.55 158.2L359.2 158.2L359.85 158.2L360.5 158.2L361.15 158.2L361.8 158.2L362.45 158.2L363.1 158.2L363.75 158.2L364.4 158.2L365.05 158.2L365.7 158.2L366.35 158.2L367 158.2L367.65 158.2L368.3 158.2L368.95 158.2L369.6 158.2L370.25 158.2L370.9 158.2L371.55 158.2L372.2 158.2L372.85 158.2L373.5 158.2L374.15 158.2L374.8 158.2L375.45 158.2L376.1 158.2L376.75 158.2L377.4 158.2L378.05 158.2L378.7 158.2L379.35 158.2L380 158.2L380.65 158.2L381.3 158.2L381.95 158.2L382.6 158.2L383.25 158.2L383.9 158.2L384.55 158.2L385.2 158.2L385.85 158.2L386.5 158.2L387.15 158.2L387.8 158.2L388.45 158.2L389.1 158.2L389.75 158.2L390.4 158.2L391.05 158.2L391.7 158.2L392.35 158.2L393 158.2L393.65 158.2L394.3 158.2L394.95 158.2L395.6 158.2L396.25 158.2L396.9 158.2L397.55 158.2L398.2 158.2L398.85 158.2L399.5 158.2L400.15 158.2L400.8 158.2L401.45 158.2L402.1 158.2L402.75 158.2L403.4 158.2L404.05 158.2L404.7 158.2L405.35 158.2L406 158.2L406.65 158.2L407.3 158.2L407.95 158.2L408.6 158.2L409.25 158.2L409.9 158.2L410.55 158.2L411.2 158.2L411.85 158.2L412.5 158.2L413.15 158.2L413.8 158.2L414.45 158.2L415.1 158.2L415.75 158.2L416.4 158.2L417.05 158.2L417.7 158.2L418.35 158.2L419 158.2L419.65 158.2L420.3 158.2L420.95 158.2L421.6 158.2L422.25 158.2L422.9 158.2L423.55 158.2L424.2 158.2L424.85 158.2L425.5 158.2L426.15 158.2L426.8 158.2L427.45 158.2L428.1 158.2L428.75 158.2L429.4 158.2L430.05 158.2L430.7 158.2L431.35 158.2L432 158.2L432.65 158.2L433.3 158.2L433.95 158.2L434.6 158.2L435.25 158.2L435.9 158.2L436.55 158.2L437.2 158.2L437.85 158.2L438.5 158.2L439.15 158.2L439.8 158.2L440.45 158.2L441.1 158.2L441.75 158.2L442.4 158.2L443.05 158.2L443.7 158.2L444.35 158.2L445 158.2L445.65 158.2L446.3 158.2L446.95 158.2L447.6 158.2L448.25 158.2L448.9 158.2L449.55 158.2L450.2 158.2L450.85 158.2L451.5 158.2L452.15 158.2L452.8 158.2L453.45 158.2L454.1 158.2L454.75 158.2L455.4 158.2L456.05 158.2L456.7 158.2L457.35 158.2L458 158.2L458.65 158.2L459.3 158.2L459.95 158.2L460.6 158.2L461.25 158.2L461.9 158.2L462.55 158.2L463.2 158.2L463.85 158.2L464.5 158.2L465.15 158.2L465.8 158.2L466.45 158.2L467.1 158.2L467.75 158.2L468.4 158.2L469.05 158.2L469.7 158.2L470.35 158.2L471 158.2L471.65 158.2L472.3 158.2L472.95 158.2L473.6 158.2L474.25 158.2L474.9 158.2L475.55 158.2L476.2 158.2L476.85 158.2L477.5 158.2L478.15 158.2L478.8 158.2L479.45 158.2L480.1 158.2L480.75 158.2L481.4 158.2L482.05 158.2L482.7 158.2L483.35 158.2L484 158.2L484.65 158.2L485.3 158.2L485.95 158.2L486.6 158.2L487.25 158.2L487.9 158.2L488.55 158.2L489.2 158.2L489.85 158.2L490.5 158.2L491.15 158.2L491.8 158.2L492.45 158.2L493.1 158.2L493.75 158.2L494.4 158.2L495.05 158.2L495.7 158.2L496.35 158.2L497 158.2L497.65 158.2L498.3 158.2L498.95 158.2L499.6 158.2L500.25 158.2L500.9 158.2L501.55 158.2L502.2 158.2L502.85 158.2L503.5 158.2L504.15 158.2L504.8 158.2L505.45 158.2L506.1 158.2L506.75 158.2L507.4 158.2L508.05 158.2L508.7 158.2L509.35 158.2L510 158.2L510.65 158.2L511.3 158.2L511.95 158.2L512.6 158.2L513.25 158.2L513.9 158.2L514.55 158.2L515.2 158.2L515.85 158.2L516.5 158.2L517.15 158.2L517.8 158.2L518.45 158.2L519.1 158.2L519.75 158.2L520.4 158.2L521.05 158.2L521.7 158.2L522.35 158.2L523 158.2L523.65 158.2L524.3 158.2L524.95 158.2L525.6 158.2L526.25 158.2L526.9 158.2L527.55 158.2L528.2 158.2L528.85 158.2L529.5 158.2L530.15 158.2L530.8 158.2L531.45 158.2L532.1 158.2L532.75 158.2L533.4 158.2L534.05 158.2L534.7 158.2L535.35 158.2L536 158.2L536.65 158.2L537.3 158.2L537.95 158.2L538.6 158.2L539.25 158.2L539.9 158.2L540.55 158.2L541.2 158.2L541.85 158.2L542.5 158.2L543.15 158.2L543.8 158.2L544.45 158.2L545.1 158.2L545.75 158.2L546.4 158.2L547.05 158.2L547.7 158.2L548.35 158.2L549 158.2L549.65 158.2L550.3 158.2L550.95 158.2L551.6 158.2L552.25 158.2L552.9 158.2L553.55 158.2L554.2 158.2L554.85 158.2L555.5 158.2L556.15 158.2L556.8 158.2L557.45 158.2L558.1 158.2L558.75 158.2L559.4 158.2L560.05 158.2L560.7 158.2L561.35 158.2L562 158.2L562.65 158.2L563.3 158.2L563.95 158.2L564.6 158.2L565.25 158.2L565.9 157.7L566.55 157.4L567.2 157.9L567.85 157.6L568.5 156L569.15 157.9L569.8 154.5L570.45 157.5L571.1 157.9L571.75 157.5L572.4 157.6L573.05 157.9L573.7 157.4L574.35 157.7L575 157.8L575.65 157.4L576.3 157.8L576.95 157.7L577.6 157.4L578.25 157.9L578.9 157.6L579.55 154.5L580.2 157.9L580.85 157.6L581.5 157.5L582.15 157.9L582.8 157.5L583.45 157.6L584.1 157.9L584.75 157.4L585.4 157.7L586.05 157.8L586.7 157.4L587.35 157.8L588 157.8L588.65 157.4L589.3 157.8L589.95 157.7L590.6 157.4L591.25 157.9L591.9 157.6L592.55 157.5L593.2 157.9L593.85 157.5L594.5 157.6L595.15 157.9L595.8 157.4L596.45 157.7L597.1 157.9L597.75 157.4L598.4 155.6L599.05 157.8L599.7 157.4L600.35 157.8L601 157.7L601.65 157.4L602.3 157.9L602.95 157.6L603.6 157.5L604.25 157.9L604.9 157.5L605.55 157.5L606.2 157.9L606.85 157.5L607.5 157.6L608.15 157.9L608.8 157.4L609.45 157.7L610.1 157.8L610.75 157.4L611.4 157.8L612.05 157.7L612.7 157.4L613.35 157.9L614 157.6L614.65 157.4L615.3 157.9L615.95 157.6L616.6 157.5L617.25 157.9L617.9 157.5L618.55 157.6L619.2 157.9L619.85 157.4L620.5 157.7L621.15 158.2L621.8 158.2L622.45 158.2L623.1 158.2L623.75 158.2L624.4 158.2L625.05 158.2L625.7 158.2L626.35 158.2L627 158.2L627.65 158.2L628.3 158.2L628.95 158.2L629.6 158.2L630.25 158.2L630.9 158.2L631.55 158.2L632.2 158.2L632.85 158.2L633.5 158.2L634.15 158.2" fill="none" stroke="#ff7f0e" stroke-width="1.2" stroke-dasharray="1.2 1.97" stroke-dashoffset="0.00" stroke-linejoin="round"/>
<path clip-path="url(#c0)" d="M577.62 157.9L578.32 139.1L579.02 157.9" fill="none" stroke="#ff7f0e" stroke-width="1.2" stroke-dasharray="1.2 1.97" stroke-dashoffset="0.84" stroke-linejoin="round"/>
<path clip-path="url(#c0)" d="M587.65 157.9L588.35 28.0L589.05 157.9" fill="none" stroke="#ff7f0e" stroke-width="1.2" stroke-dasharray="1.2 1.97" stroke-dashoffset="1.46" stroke-linejoin="round"/>
<path clip-path="url(#c0)" d="M606.36 157.9L607.06 102.1L607.76 157.9" fill="none" stroke="#ff7f0e" stroke-width="1.2" stroke-dasharray="1.2 1.97" stroke-dashoffset="1.84" stroke-linejoin="round"/>
<path clip-path="url(#c0)" d="M607.88 157.9L608.58 143.2L609.28 157.9" fill="none" stroke="#ff7f0e" stroke-width="1.2" stroke-dasharray="1.2 1.97" stroke-dashoffset="1.70" stroke-linejoin="round"/>
<path clip-path="url(#c0)" d="M73.88 157.9L74.58 149.4L75.28 157.9" fill="none" stroke="#ff7f0e" stroke-width="1.2" stroke-dasharray="1.2 1.97" stroke-dashoffset="1.58" stroke-linejoin="round"/>
<rect x="54.35" y="11.5" width="580.35" height="146.7" fill="none" stroke="#000" stroke-width="0.6"/>
<text x="65.4" y="33.4" font-size="13.2">a)<tspan dx="14.6">PUYO (NZ, EZ, EN mean)</tspan></text>
</g>
<g id="panel1">
<path clip-path="url(#c1)" d="M54.35 155.1L54.65 316.8L54.95 155.1L55.25 281.8L55.55 155.1L55.85 316.8L56.15 155.1L56.45 261.8L56.75 302.3L57.05 260.7L57.35 316.9L57.65 248.5L57.95 235.5L58.25 260.8L58.55 311.9L58.85 251.1L59.15 316.6L59.45 297.1L59.75 260L60.05 291.6L60.35 316.5L60.65 287.5L60.95 316.4L61.25 299.3L61.55 279.9L61.85 300.7L62.15 283.3L62.45 300.8L62.75 316.7L63.05 300.3L63.35 316.8L63.65 292.6L63.95 288L64.25 299.5L64.55 289.9L64.85 294.3L65.15 315.4L65.45 302.7L65.75 286.2L66.05 303.1L66.35 289.5L66.65 298.5L66.95 315.3L67.25 312L67.55 316.9L67.85 302.1L68.15 315.6L68.45 308.7L68.75 315.7L69.05 313.8L69.35 315.3L69.65 307.6L69.95 315.7L70.25 313.2L70.55 299.3L70.85 306.4L71.15 301.4L71.45 313.9L71.75 319.5L72.05 307.8L72.35 316.7L72.65 313.2L72.95 316.7L73.25 304.4L73.55 316.4L73.85 305.1L74.15 316.8L74.45 314.1L74.75 317L75.05 299.2L75.35 319.3L75.65 294.6L75.95 321.3L76.25 296.1L76.55 319.4L76.85 299L77.15 316.6L77.45 307L77.75 316.7L78.05 308.5L78.35 297.4L78.65 306.3L78.95 298.3L79.25 309L79.55 315.2L79.85 311.5L80.15 316.4L80.45 313.4L80.75 316.4L81.05 312.6L81.35 305.6L81.65 312L81.95 306.9L82.25 312L82.55 316.4L82.85 312.3L83.15 318.9L83.45 306.2L83.75 303.2L84.05 308.6L84.35 304.1L84.65 314.5L84.95 318.8L85.25 305.8L85.55 314.5L85.85 303.1L86.15 296.2L86.45 311.8L86.75 297.5L87.05 303.6L87.35 313.9L87.65 313L87.95 316.4L88.25 314.9L88.55 307.8L88.85 314.9L89.15 308.5L89.45 310.6L89.75 316.4L90.05 308.7L90.35 316.4L90.65 309.7L90.95 305.6L91.25 314.6L91.55 306.1L91.85 315.1L92.15 315.2L92.45 304L92.75 318.8L93.05 302.2L93.35 296.9L93.65 304.4L93.95 298.5L94.25 309.6L94.55 319L94.85 315.6L95.15 318.9L95.45 312.1L95.75 306.9L96.05 314.1L96.35 307.9L96.65 315.9L96.95 318.6L97.25 308.3L97.55 321L97.85 308.7L98.15 305.6L98.45 315.2L98.75 306.4L99.05 312.2L99.35 321.6L99.65 304.4L99.95 320.9L100.25 305.3L100.55 297.4L100.85 304.5L101.15 298.3L101.45 309.5L101.75 320L102.05 311.2L102.35 320.9L102.65 311.5L102.95 306.8L103.25 314.9L103.55 307.6L103.85 313.2L104.15 320.3L104.45 315.3L104.75 320.3L105.05 315.4L105.35 320.3L105.65 309.1L105.95 320.8L106.25 309.6L106.55 321.5L106.85 316.8L107.15 321.8L107.45 315.7L107.75 320.8L108.05 316.4L108.35 308.6L108.65 312.3L108.95 309L109.25 315.2L109.55 320.3L109.85 315.8L110.15 320.5L110.45 315L110.75 307.2L111.05 310.7L111.35 308.5L111.65 313.4L111.95 320L112.25 309.1L112.55 319.8L112.85 311.2L113.15 304.4L113.45 314.6L113.75 305.3L114.05 315.2L114.35 321.7L114.65 317.6L114.95 321.1L115.25 315.8L115.55 312.7L115.85 318L116.15 313.4L116.45 316.3L116.75 321.1L117.05 318L117.35 321.7L117.65 316L117.95 320.8L118.25 316.1L118.55 312.6L118.85 315.6L119.15 313.4L119.45 314.7L119.75 321.6L120.05 316.7L120.35 321.3L120.65 314L120.95 320.8L121.25 313.8L121.55 321.7L121.85 314.4L122.15 321.7L122.45 314.5L122.75 321L123.05 316.8L123.35 321.6L123.65 311.9L123.95 320.7L124.25 312.4L124.55 321L124.85 311.8L125.15 320.9L125.45 311.8L125.75 321.7L126.05 309.1L126.35 321.4L126.65 309.6L126.95 321L127.25 315.7L127.55 321.3L127.85 316.2L128.15 321.1L128.45 315.7L128.75 313.3L129.05 316L129.35 313.5L129.65 318.4L129.95 321.3L130.25 316.1L130.55 321L130.85 315.2L131.15 321.4L131.45 317.1L131.75 321L132.05 316.8L132.35 311.9L132.65 315.6L132.95 312.8L133.25 314.3L133.55 320.6L133.85 315.8L134.15 321.7L134.45 317.7L134.75 321L135.05 316.4L135.35 315.3L135.65 318.8L135.95 315.4L136.25 316.1L136.55 321.4L136.85 317.1L137.15 321.4L137.45 314.9L137.75 321.1L138.05 315.1L138.35 321.6L138.65 317.5L138.95 321L139.25 315.4L139.55 321.6L139.85 313.1L140.15 321.3L140.45 311L140.75 321.7L141.05 311.3L141.35 321L141.65 313.6L141.95 320.7L142.25 314.5L142.55 321.7L142.85 317.8L143.15 315.3L143.45 318L143.75 315.9L144.05 319L144.35 321.6L144.65 317.6L144.95 321.1L145.25 314.9L145.55 321L145.85 315.5L146.15 321.2L146.45 315.9L146.75 321.3L147.05 317.6L147.35 310.7L147.65 313.5L147.95 311.1L148.25 317.3L148.55 320.6L148.85 317.1L149.15 321.5L149.45 317.6L149.75 315.6L150.05 316.5L150.35 315.7L150.65 319.3L150.95 321.7L151.25 318.8L151.55 321L151.85 314.9L152.15 321.2L152.45 315.5L152.75 321.5L153.05 314.7L153.35 320.9L153.65 314.8L153.95 312.6L154.25 317.5L154.55 313.3L154.85 314.8L155.15 321.5L155.45 319.1L155.75 321.6L156.05 318.9L156.35 321.5L156.65 315.7L156.95 321.4L157.25 316.2L157.55 321.5L157.85 317.9L158.15 321.1L158.45 317.9L158.75 321.5L159.05 319.2L159.35 315.6L159.65 317.2L159.95 315.8L160.25 319L160.55 321.5L160.85 318L161.15 321.2L161.45 314.9L161.75 321.8L162.05 315.4L162.35 321.8L162.65 313.3L162.95 320.8L163.25 313.6L163.55 321.1L163.85 316.5L164.15 321.6L164.45 316.9L164.75 320.8L165.05 317.6L165.35 321.3L165.65 311.9L165.95 321.4L166.25 312.3L166.55 321.1L166.85 315.1L167.15 321.1L167.45 315.6L167.75 321.7L168.05 314.7L168.35 321.4L168.65 315.2L168.95 320.8L169.25 316.4L169.55 321.3L169.85 316.1L170.15 313.3L170.45 317.3L170.75 314L171.05 315.9L171.35 321.7L171.65 318.4L171.95 321.4L172.25 317.7L172.55 314.6L172.85 316.4L173.15 314.8L173.45 318.7L173.75 321.5L174.05 315.9L174.35 321.6L174.65 315.6L174.95 321L175.25 316.8L175.55 311.4L175.85 317.2L176.15 312L176.45 314.9L176.75 320.7L177.05 315L177.35 321.3L177.65 317.6L177.95 321.3L178.25 319.4L178.55 321.5L178.85 318.6L179.15 316.1L179.45 317.7L179.75 316.5L180.05 317.7L180.35 321.5L180.65 317.9L180.95 321L181.25 319L181.55 321.8L181.85 313.9L182.15 321.3L182.45 314.5L182.75 321L183.05 316.7L183.35 320.9L183.65 315.1L183.95 321.7L184.25 315.3L184.55 321.6L184.85 317.9L185.15 321.1L185.45 316.3L185.75 321.2L186.05 317.8L186.35 321L186.65 313.8L186.95 321L187.25 314L187.55 321.2L187.85 318.1L188.15 321.2L188.45 316L188.75 320.9L189.05 314.4L189.35 321.3L189.65 315.1L189.95 320.9L190.25 314.8L190.55 321.3L190.85 317.1L191.15 321L191.45 313.9L191.75 321.3L192.05 318L192.35 320.8L192.65 317.4L192.95 320.7L193.25 316L193.55 313.2L193.85 316.4L194.15 313.6L194.45 316.4L194.75 320.8L195.05 317.2L195.35 321.3L195.65 314.7L195.95 312.1L196.25 314.2L196.55 312.6L196.85 313.7L197.15 321.5L197.45 316.5L197.75 321.2L198.05 316.7L198.35 314L198.65 315L198.95 314.6L199.25 317.3L199.55 321.4L199.85 319.2L200.15 321.7L200.45 319.2L200.75 315.3L201.05 317.7L201.35 315.6L201.65 318.8L201.95 321.5L202.25 317.6L202.55 321.4L202.85 314.9L203.15 321L203.45 315.2L203.75 321.5L204.05 316.1L204.35 321.6L204.65 315.1L204.95 321.4L205.25 314.7L205.55 312.6L205.85 317.1L206.15 313.1L206.45 316.1L206.75 320.9L207.05 316.7L207.35 320.9L207.65 317.1L207.95 320.7L208.25 314.2L208.55 312.6L208.85 317.6L209.15 313.2L209.45 316.1L209.75 320.9L210.05 317.6L210.35 321.3L210.65 320.8L210.95 321.2L211.25 319L211.55 321L211.85 316.8L212.15 321.1L212.45 316.8L212.75 321.3L213.05 315.3L213.35 321.5L213.65 312.5L213.95 321.7L214.25 314.8L214.55 321.2L214.85 319L215.15 321.1L215.45 312.5L215.75 321.3L216.05 316.1L216.35 321.1L216.65 315L216.95 321.2L217.25 318.5L217.55 321.3L217.85 315.7L218.15 321.8L218.45 320.7L218.75 321.8L219.05 321.2L219.35 321.3L219.65 319.3L219.95 321.3L220.25 312.7L220.55 321.7L220.85 317.4L221.15 321.2L221.45 316.6L221.75 321.4L222.05 314.1L222.35 321.4L222.65 317.2L222.95 321.2L223.25 318.9L223.55 321.2L223.85 316.4L224.15 321.6L224.45 315L224.75 321.3L225.05 317.1L225.35 321.6L225.65 317.8L225.95 321.6L226.25 319.5L226.55 321L226.85 316.2L227.15 321.7L227.45 318.4L227.75 321.1L228.05 318.2L228.35 321.4L228.65 317L228.95 321.8L229.25 318.4L229.55 321.7L229.85 314.9L230.15 321.1L230.45 314.4L230.75 321.2L231.05 320.4L231.35 321.1L231.65 317.3L231.95 321.4L232.25 316.2L232.55 321.8L232.85 315L233.15 321.6L233.45 317.9L233.75 321.3L234.05 317.6L234.35 321.4L234.65 320L234.95 321.7L235.25 316.3L235.55 321.5L235.85 318.9L236.15 321.7L236.45 318.8L236.75 321.1L237.05 315.5L237.35 321L237.65 314.7L237.95 321.1L238.25 313L238.55 321.7L238.85 319.4L239.15 321.1L239.45 316.1L239.75 321.3L240.05 314.8L240.35 321.1L240.65 319.9L240.95 321L241.25 318.4L241.55 321.2L241.85 317.3L242.15 321.7L242.45 312.9L242.75 321.5L243.05 315.9L243.35 321.7L243.65 312.8L243.95 321.5L244.25 318.8L244.55 321.3L244.85 319L245.15 321L245.45 319.9L245.75 321.6L246.05 316.3L246.35 321L246.65 314.4L246.95 321L247.25 319.8L247.55 321L247.85 314.8L248.15 321.3L248.45 312.6L248.75 321.5L249.05 318.7L249.35 321.1L249.65 319.9L249.95 321.6L250.25 317.1L250.55 321.8L250.85 316.7L251.15 321.3L251.45 316.8L251.75 321.1L252.05 320.1L252.35 321.4L252.65 319.2L252.95 321.6L253.25 319.4L253.55 321.1L253.85 317.6L254.15 321.5L254.45 318.5L254.75 321L255.05 318.2L255.35 321.5L255.65 314.8L255.95 321.6L256.25 315.7L256.55 321.1L256.85 318.3L257.15 321.2L257.45 317.3L257.75 321.4L258.05 318.7L258.35 321.8L258.65 314.4L258.95 320.9L259.25 319L259.55 321.3L259.85 317L260.15 321.6L260.45 315.7L260.75 320.9L261.05 317L261.35 321.3L261.65 320.9L261.95 320.9L262.25 313.5L262.55 320.9L262.85 315.2L263.15 321.4L263.45 316.4L263.75 321.6L264.05 316.1L264.35 321.1L264.65 319L264.95 321.1L265.25 321.2L265.55 321.6L265.85 317L266.15 321.2L266.45 313.9L266.75 321.5L267.05 314.9L267.35 321.3L267.65 315.9L267.95 321.5L268.25 314.8L268.55 321.4L268.85 315.5L269.15 321.2L269.45 315.3L269.75 321.8L270.05 319.5L270.35 321.8L270.65 317L270.95 321.1L271.25 316.3L271.55 321.7L271.85 320.1L272.15 321L272.45 313.3L272.75 321.6L273.05 319L273.35 321.2L273.65 313.3L273.95 321.3L274.25 311.7L274.55 321.5L274.85 311.7L275.15 321.3L275.45 317.1L275.75 321.3L276.05 319.2L276.35 321.1L276.65 318.3L276.95 320.9L277.25 315.5L277.55 321.7L277.85 312.9L278.15 321.3L278.45 316.3L278.75 321.5L279.05 315.5L279.35 321.7L279.65 315.9L279.95 320.9L280.25 313.8L280.55 321.6L280.85 316.8L281.15 321.7L281.45 319.7L281.75 321.6L282.05 312.6L282.35 321.5L282.65 315.2L282.95 321.6L283.25 312L283.55 321.6L283.85 314.1L284.15 321.2L284.45 314.3L284.75 321.4L285.05 320.7L285.35 321.6L285.65 314.4L285.95 321.1L286.25 317L286.55 321L286.85 312.3L287.15 321L287.45 314.7L287.75 321.2L288.05 320.4L288.35 321.4L288.65 318.4L288.95 321.1L289.25 319.5L289.55 321.7L289.85 319L290.15 321.6L290.45 319.8L290.75 321L291.05 314.8L291.35 321.3L291.65 320L291.95 321.1L292.25 320L292.55 321.4L292.85 317.6L293.15 321.7L293.45 313.1L293.75 321.5L294.05 318.1L294.35 321.6L294.65 313.1L294.95 321.7L295.25 316.2L295.55 321.3L295.85 316.3L296.15 321.4L296.45 320.3L296.75 321L297.05 316.5L297.35 321.6L297.65 319.5L297.95 321.3L298.25 315.8L298.55 321.7L298.85 320.6L299.15 321.7L299.45 316L299.75 321.2L300.05 320L300.35 321.5L300.65 317.1L300.95 321.6L301.25 314.4L301.55 321.5L301.85 317.6L302.15 321.1L302.45 319.3L302.75 321.3L303.05 316.8L303.35 321.7L303.65 314.5L303.95 321.5L304.25 320.4L304.55 321.6L304.85 314.1L305.15 321.5L305.45 317.9L305.75 321.2L306.05 315.8L306.35 321.4L306.65 319L306.95 321.2L307.25 315.5L307.55 321.4L307.85 318.2L308.15 321.7L308.45 318.9L308.75 321.6L309.05 317.5L309.35 321.6L309.65 316.9L309.95 321.3L310.25 315.4L310.55 321.1L310.85 318.5L311.15 321.3L311.45 316.8L311.75 321.5L312.05 314.3L312.35 321.4L312.65 320.3L312.95 321.4L313.25 318.8L313.55 321.5L313.85 318.3L314.15 321.5L314.45 319.4L314.75 321.5L315.05 317.6L315.35 321.7L315.65 320.8L315.95 321.5L316.25 320.8L316.55 321.8L316.85 316.4L317.15 321.5L317.45 320.9L317.75 321.6L318.05 314.1L318.35 321.1L318.65 317.8L318.95 321.6L319.25 319.3L319.55 321.7L319.85 313.6L320.15 321.7L320.45 314.6L320.75 321.1L321.05 318.8L321.35 321.5L321.65 320.4L321.95 321.8L322.25 320.3L322.55 321.1L322.85 314.8L323.15 321.5L323.45 320.5L323.75 320.8L324.05 311.5L324.35 321.6L324.65 309.9L324.95 320.9L325.25 315.8L325.55 320.9L325.85 308.4L326.15 320.8L326.45 310L326.75 321.2L327.05 308.3L327.35 321.6L327.65 309.3L327.95 321.1L328.25 309.9L328.55 321.2L328.85 298.6L329.15 321.8L329.45 300.6L329.75 320.8L330.05 300.4L330.35 255.6L330.65 190.4L330.95 262.2L331.25 299.5L331.55 320.8L331.85 299.8L332.15 321.5L332.45 298.3L332.75 321.8L333.05 304.4L333.35 320.5L333.65 309.9L333.95 321.1L334.25 308.6L334.55 321.7L334.85 308.6L335.15 321.2L335.45 310.2L335.75 321.1L336.05 309.4L336.35 321.1L336.65 316.5L336.95 321.6L337.25 315.5L337.55 321.5L337.85 316L338.15 321L338.45 318.5L338.75 321.5L339.05 318.5L339.35 321L339.65 319.3L339.95 321.3L340.25 315.2L340.55 321.3L340.85 316L341.15 321.3L341.45 313.2L341.75 321.1L342.05 314.4L342.35 321.6L342.65 319.7L342.95 321.4L343.25 318.8L343.55 321.4L343.85 320.7L344.15 321.2L344.45 317.2L344.75 321.2L345.05 317.9L345.35 321.8L345.65 315.4L345.95 321.4L346.25 319.7L346.55 321.2L346.85 317.1L347.15 321.1L347.45 317.8L347.75 321.5L348.05 317.9L348.35 321.8L348.65 317.9L348.95 321.2L349.25 318.3L349.55 321.7L349.85 319.6L350.15 321.4L350.45 315.7L350.75 321.6L351.05 318.2L351.35 321.4L351.65 321.1L351.95 321.1L352.25 314.3L352.55 321.7L352.85 318.9L353.15 321.5L353.45 316.6L353.75 321.4L354.05 318.8L354.35 321.5L354.65 316.4L354.95 321.7L355.25 321.1L355.55 321.6L355.85 314.5L356.15 321.2L356.45 318.6L356.75 321.3L357.05 319.3L357.35 321.7L357.65 316.9L357.95 321.4L358.25 319L358.55 321.5L358.85 319.2L359.15 321.1L359.45 318.2L359.75 321.3L360.05 318.3L360.35 321.5L360.65 318.2L360.95 321.5L361.25 318.1L361.55 321.6L361.85 320.5L362.15 321.8L362.45 318.4L362.75 321.7L363.05 318.2L363.35 321.8L363.65 315.9L363.95 321.7L364.25 319.4L364.55 321.8L364.85 320L365.15 321.5L365.45 316.3L365.75 321.3L366.05 320.8L366.35 321.6L366.65 319.8L366.95 321.7L367.25 318.1L367.55 321.2L367.85 315.5L368.15 321.1L368.45 321.3L368.75 321.6L369.05 319.8L369.35 321.4L369.65 317.4L369.95 321.3L370.25 318.7L370.55 321.6L370.85 315.1L371.15 321.4L371.45 316.8L371.75 321.8L372.05 315.2L372.35 321.6L372.65 319.6L372.95 321.2L373.25 315.6L373.55 321.4L373.85 319.8L374.15 321.5L374.45 315.3L374.75 321.7L375.05 317.9L375.35 321.7L375.65 317.9L375.95 321.3L376.25 321.5L376.55 321.2L376.85 320.6L377.15 321.4L377.45 318.8L377.75 321.7L378.05 318.6L378.35 321.8L378.65 318.7L378.95 321.8L379.25 319.4L379.55 321.5L379.85 316.7L380.15 321.5L380.45 319.5L380.75 321.6L381.05 317.2L381.35 321.3L381.65 319.1L381.95 321.6L382.25 316.8L382.55 321.6L382.85 315.5L383.15 321.2L383.45 318L383.75 321.3L384.05 315.6L384.35 321.3L384.65 318.4L384.95 321.6L385.25 315.6L385.55 321.3L385.85 318.2L386.15 321.2L386.45 316.5L386.75 321.4L387.05 319.2L387.35 321.6L387.65 318.7L387.95 321.6L388.25 317.2L388.55 321.6L388.85 319.3L389.15 321.6L389.45 318.6L389.75 321.2L390.05 317.9L390.35 321.3L390.65 319.9L390.95 321.6L391.25 317.2L391.55 321.8L391.85 319.4L392.15 321.7L392.45 318.2L392.75 321.4L393.05 320.6L393.35 321.7L393.65 316.3L393.95 321.5L394.25 320.4L394.55 321.5L394.85 319.1L395.15 321.8L395.45 321.1L395.75 321.2L396.05 319L396.35 321.8L396.65 316.9L396.95 321.7L397.25 318.6L397.55 321.3L397.85 320.6L398.15 321.4L398.45 318.4L398.75 321.6L399.05 318L399.35 321.5L399.65 316.8L399.95 321.2L400.25 318.5L400.55 321.6L400.85 318.7L401.15 321.7L401.45 320.4L401.75 321.2L402.05 316.1L402.35 321.6L402.65 319.5L402.95 321.6L403.25 315.9L403.55 321.3L403.85 319.5L404.15 321.6L404.45 319.6L404.75 321.4L405.05 316.7L405.35 321.3L405.65 320L405.95 321.4L406.25 319.2L406.55 321.4L406.85 319.2L407.15 321.6L407.45 320.6L407.75 321.6L408.05 314.6L408.35 321.3L408.65 320.6L408.95 321.2L409.25 314.5L409.55 321.3L409.85 318.1L410.15 321.5L410.45 314.7L410.75 321.3L411.05 318.5L411.35 321.5L411.65 321L411.95 321.2L412.25 315.5L412.55 321.4L412.85 320.5L413.15 321.5L413.45 316.2L413.75 321.8L414.05 321.5L414.35 321.5L414.65 319.3L414.95 321.2L415.25 315.9L415.55 321.3L415.85 319.8L416.15 321.5L416.45 316.4L416.75 321.3L417.05 318.2L417.35 321.7L417.65 314L417.95 321.6L418.25 319.9L418.55 321.6L418.85 314L419.15 321.4L419.45 317.9L419.75 321.4L420.05 320.1L420.35 321.5L420.65 320.3L420.95 321.3L421.25 317.9L421.55 321.6L421.85 319.6L422.15 321.6L422.45 318.2L422.75 321.5L423.05 318.8L423.35 321.1L423.65 317.8L423.95 321.4L424.25 317.9L424.55 321.2L424.85 320.6L425.15 321.8L425.45 319L425.75 321.5L426.05 315.6L426.35 321.7L426.65 319.9L426.95 321.2L427.25 318.3L427.55 321.6L427.85 318.4L428.15 321.5L428.45 314.3L428.75 321.4L429.05 313.7L429.35 321.6L429.65 318.6L429.95 321.6L430.25 315.1L430.55 321.7L430.85 316.3L431.15 321.6L431.45 318.4L431.75 321.1L432.05 317L432.35 321.1L432.65 319.3L432.95 321.4L433.25 316.8L433.55 321.3L433.85 313.8L434.15 321.2L434.45 317.3L434.75 321.7L435.05 318L435.35 321.5L435.65 313.8L435.95 321.6L436.25 319.7L436.55 321.5L436.85 318.1L437.15 321.5L437.45 313.8L437.75 321.2L438.05 316.8L438.35 321.8L438.65 319.6L438.95 321.1L439.25 319.1L439.55 321.3L439.85 314.5L440.15 321.5L440.45 316.3L440.75 321.4L441.05 317.1L441.35 321.4L441.65 318.5L441.95 321.1L442.25 314L442.55 321.8L442.85 316.3L443.15 321.5L443.45 317.9L443.75 321.2L444.05 314.1L444.35 321.7L444.65 314.1L444.95 321.4L445.25 315.8L445.55 321.6L445.85 320.2L446.15 321.6L446.45 318.4L446.75 321.6L447.05 314.3L447.35 321.1L447.65 318.8L447.95 321.2L448.25 318.3L448.55 321.6L448.85 317.3L449.15 321.5L449.45 314.4L449.75 321.2L450.05 316.7L450.35 321.3L450.65 320L450.95 321.4L451.25 317.1L451.55 321.8L451.85 320.3L452.15 321.6L452.45 316.1L452.75 321.7L453.05 317.9L453.35 321.4L453.65 317.2L453.95 321.3L454.25 320.5L454.55 321.1L454.85 315.9L455.15 321.8L455.45 315.7L455.75 321.6L456.05 319.9L456.35 321.8L456.65 318.6L456.95 321.4L457.25 319.4L457.55 321.3L457.85 318.3L458.15 321.6L458.45 321.5L458.75 321.3L459.05 315.9L459.35 321.6L459.65 318.4L459.95 321.7L460.25 320.3L460.55 321.4L460.85 319.3L461.15 321.5L461.45 316.9L461.75 321.4L462.05 319L462.35 321.4L462.65 320.6L462.95 321.3L463.25 317.3L463.55 321.6L463.85 320.9L464.15 321.6L464.45 315.7L464.75 321.5L465.05 317L465.35 321.3L465.65 314.9L465.95 321.6L466.25 320.7L466.55 321.4L466.85 320.4L467.15 321.4L467.45 320.1L467.75 321.2L468.05 318L468.35 321.5L468.65 316.6L468.95 321.5L469.25 319.7L469.55 321.3L469.85 316.5L470.15 321.2L470.45 316.2L470.75 321.5L471.05 317.8L471.35 321.2L471.65 315.3L471.95 321.3L472.25 319.9L472.55 321.2L472.85 317.8L473.15 321.4L473.45 317.6L473.75 321.7L474.05 318.1L474.35 321.2L474.65 316.7L474.95 321.3L475.25 315.8L475.55 321.2L475.85 320.1L476.15 321.3L476.45 318.7L476.75 321.5L477.05 320.8L477.35 321.5L477.65 319.4L477.95 321.3L478.25 317.7L478.55 321.3L478.85 314.9L479.15 321.4L479.45 319.5L479.75 321.3L480.05 320.4L480.35 321.8L480.65 318.4L480.95 321.5L481.25 316.5L481.55 321.7L481.85 316.9L482.15 321.4L482.45 318.8L482.75 321.6L483.05 319.1L483.35 321.3L483.65 316.6L483.95 321.1L484.25 319.9L484.55 321.6L484.85 318.8L485.15 321.4L485.45 318.9L485.75 321.5L486.05 320.9L486.35 321.4L486.65 316.3L486.95 321.4L487.25 317.4L487.55 321.6L487.85 318L488.15 321.4L488.45 320.5L488.75 321.5L489.05 318.1L489.35 321.7L489.65 320.3L489.95 321.3L490.25 317.3L490.55 321.2L490.85 318.4L491.15 321.4L491.45 319.4L491.75 321.7L492.05 318.1L492.35 321.7L492.65 320.4L492.95 321.3L493.25 319.8L493.55 321.6L493.85 319.7L494.15 321.5L494.45 317.7L494.75 321.2L495.05 316.3L495.35 321.3L495.65 316.6L495.95 321.4L496.25 318.7L496.55 321.6L496.85 316.5L497.15 321.5L497.45 316.9L497.75 321.2L498.05 319.5L498.35 321.8L498.65 314.8L498.95 321.6L499.25 317.7L499.55 321.6L499.85 317.4L500.15 321.2L500.45 320.8L500.75 321.3L501.05 317.7L501.35 321.4L501.65 315.9L501.95 321.8L502.25 320.2L502.55 321.5L502.85 315.5L503.15 321.8L503.45 319.6L503.75 321.8L504.05 314.9L504.35 321.2L504.65 319.4L504.95 321.5L505.25 319L505.55 321.4L505.85 316L506.15 321.8L506.45 317L506.75 321.5L507.05 318.9L507.35 321.3L507.65 317.9L507.95 321.4L508.25 317.8L508.55 321.8L508.85 319L509.15 321.2L509.45 315.2L509.75 321.6L510.05 318.7L510.35 321.3L510.65 319.8L510.95 321.8L511.25 317.5L511.55 321.5L511.85 317L512.15 321.4L512.45 320.2L512.75 321.3L513.05 318.1L513.35 321.5L513.65 317.8L513.95 321.7L514.25 318.6L514.55 321.5L514.85 318.5L515.15 321.4L515.45 316.5L515.75 321.6L516.05 320L516.35 321.8L516.65 319.8L516.95 321.2L517.25 320.5L517.55 321.7L517.85 317.4L518.15 321.6L518.45 320.8L518.75 321.3L519.05 318.5L519.35 321.8L519.65 320.5L519.95 321.7L520.25 317.4L520.55 321.4L520.85 319L521.15 321.8L521.45 320.1L521.75 321.8L522.05 320L522.35 321.6L522.65 320.9L522.95 321.6L523.25 319.8L523.55 321.4L523.85 319.1L524.15 321.7L524.45 316.5L524.75 321.7L525.05 319.2L525.35 321.3L525.65 320.3L525.95 321.5L526.25 320.7L526.55 321.4L526.85 319.5L527.15 321.7L527.45 320.2L527.75 321.7L528.05 319.7L528.35 321.5L528.65 318.4L528.95 321.8L529.25 319.7L529.55 321.6L529.85 318.5L530.15 321.5L530.45 318.3L530.75 321.6L531.05 316.7L531.35 321.5L531.65 316.7L531.95 321.6L532.25 320.1L532.55 321.7L532.85 318.9L533.15 321.7L533.45 319.2L533.75 321.7L534.05 319L534.35 321.4L534.65 320.2L534.95 321.4L535.25 317.9L535.55 321.8L535.85 317.1L536.15 321.3L536.45 320.2L536.75 321.6L537.05 316.9L537.35 321.4L537.65 317.8L537.95 321.3L538.25 317.4L538.55 321.3L538.85 318.8L539.15 321.3L539.45 319L539.75 321.7L540.05 318.1L540.35 321.7L540.65 317.6L540.95 321.8L541.25 320.8L541.55 321.4L541.85 319.3L542.15 321.4L542.45 317L542.75 321.7L543.05 320.8L543.35 321.7L543.65 319.9L543.95 321.5L544.25 318.5L544.55 321.8L544.85 318.4L545.15 321.7L545.45 317.1L545.75 321.4L546.05 317.1L546.35 321.7L546.65 320.3L546.95 321.8L547.25 317.5L547.55 321.6L547.85 320.1L548.15 321.5L548.45 319.2L548.75 321.7L549.05 320.3L549.35 321.3L549.65 318.2L549.95 321.7L550.25 320.9L550.55 321.7L550.85 317.6L551.15 321.4L551.45 317.9L551.75 321.4L552.05 320.3L552.35 321.7L552.65 319.7L552.95 321.3L553.25 318.3L553.55 321.6L553.85 317.5L554.15 321.3L554.45 319.3L554.75 321.3L555.05 318.1L555.35 321.5L555.65 319.4L555.95 321.7L556.25 318.2L556.55 321.4L556.85 319.8L557.15 321.8L557.45 320.8L557.75 321.5L558.05 320.2L558.35 321.6L558.65 316.7L558.95 321.3L559.25 320.7L559.55 321.7L559.85 318.4L560.15 321.7L560.45 320.6L560.75 321.7L561.05 320.4L561.35 321.6L561.65 318.6L561.95 321.8L562.25 319.4L562.55 321.6L562.85 318.2L563.15 321.5L563.45 317.4L563.75 321.6L564.05 318.9L564.35 321.7L564.65 316.5L564.95 321.6L565.25 320.6L565.55 321.8L565.85 319.8L566.15 321.5L566.45 316.5L566.75 321.7L567.05 319.5L567.35 321.6L567.65 317.8L567.95 321.7L568.25 316.7L568.55 321.5L568.85 318.1L569.15 321.5L569.45 319.1L569.75 321.3L570.05 316.4L570.35 321.4L570.65 318.2L570.95 321.6L571.25 319.3L571.55 321.3L571.85 316.8L572.15 321.3L572.45 318.2L572.75 321.3L573.05 319.5L573.35 321.7L573.65 319.2L573.95 321.4L574.25 319.8L574.55 321.3L574.85 317.6L575.15 321.3L575.45 320.1L575.75 321.7L576.05 319.1L576.35 321.7L576.65 321.4L576.95 321.5L577.25 320.3L577.55 321.4L577.85 320.8L578.15 321.5L578.45 319.6L578.75 321.5L579.05 320.1L579.35 321.8L579.65 317.1L579.95 321.3L580.25 320.3L580.55 321.4L580.85 318.1L581.15 321.4L581.45 321.2L581.75 321.5L582.05 317.3L582.35 321.6L582.65 319.8L582.95 321.3L583.25 319.9L583.55 321.5L583.85 319L584.15 321.7L584.45 319.4L584.75 321.5L585.05 318.2L585.35 321.4L585.65 316.3L585.95 321.8L586.25 318.8L586.55 321.8L586.85 320.7L587.15 321.6L587.45 317.8L587.75 321.4L588.05 321.3L588.35 321.7L588.65 319.5L588.95 321.7L589.25 319.2L589.55 321.8L589.85 317.7L590.15 321.4L590.45 319.5L590.75 321.4L591.05 318.9L591.35 321.8L591.65 320.9L591.95 321.8L592.25 318.4L592.55 321.8L592.85 318L593.15 321.7L593.45 319.9L593.75 321.6L594.05 320.2L594.35 321.6L594.65 319.9L594.95 321.7L595.25 320.7L595.55 321.7L595.85 318.7L596.15 321.5L596.45 320.7L596.75 321.7L597.05 318.5L597.35 321.7L597.65 318.9L597.95 321.6L598.25 319.3L598.55 321.6L598.85 320.7L599.15 321.4L599.45 319.8L599.75 321.3L600.05 318.9L600.35 321.6L600.65 320L600.95 321.4L601.25 316.6L601.55 321.6L601.85 320.5L602.15 321.5L602.45 318.9L602.75 321.7L603.05 315.7L603.35 321.3L603.65 316.4L603.95 321.7L604.25 317.3L604.55 321.1L604.85 312.6L605.15 320.9L605.45 316.2L605.75 321.5L606.05 313.2L606.35 321.4L606.65 308L606.95 306.2L607.25 311.8L607.55 307.8L607.85 310.9L608.15 320.8L608.45 316.9L608.75 321.5L609.05 314.6L609.35 321L609.65 320.6L609.95 321L610.25 314.9L610.55 321.2L610.85 310.5L611.15 321.2L611.45 316.8L611.75 321L612.05 318.3L612.35 321.1L612.65 316.4L612.95 321.1L613.25 315.6L613.55 321L613.85 319.5L614.15 321.6L614.45 318.7L614.75 321.2L615.05 313.6L615.35 321.3L615.65 314.1L615.95 321.6L616.25 320.8L616.55 321.7L616.85 316.9L617.15 321.4L617.45 316.6L617.75 321.8L618.05 318.4L618.35 321.7L618.65 320.1L618.95 321.3L619.25 319.9L619.55 321.5L619.85 317.3L620.15 321.3L620.45 319.5L620.75 321.7L621.05 320.1L621.35 321.7L621.65 318.4L621.95 321.3L622.25 317.1L622.55 321.4L622.85 317.8L623.15 321.4L623.45 319.8L623.75 321.8L624.05 320.2L624.35 321.6L624.65 319.8L624.95 321.3L625.25 320.6L625.55 321.5L625.85 319.6L626.15 321.4L626.45 320.4L626.75 321.4L627.05 318.1L627.35 321.6L627.65 319.2L627.95 321.5L628.25 321.1L628.55 321.6L628.85 317.9L629.15 321.3L629.45 318.3L629.75 321.5L630.05 317.1L630.35 321.3L630.65 319.6L630.95 321.3L631.25 319.7L631.55 321.7L631.85 320.6L632.15 321.4L632.45 319.5L632.75 321.4L633.05 317.5L633.35 321.6L633.65 318.3L633.95 321.6L634.25 321.8L634.55 321.6" fill="none" stroke="#1f77b4" stroke-width="2.3" stroke-linejoin="round" stroke-linecap="butt"/>
<path d="M54.35 321.8v2.2M68.17 321.8v1.5M81.99 321.8v1.5M95.8 321.8v1.5M109.62 321.8v1.5M123.44 321.8v2.2M137.26 321.8v1.5M151.08 321.8v1.5M164.89 321.8v1.5M178.71 321.8v1.5M192.53 321.8v2.2M206.35 321.8v1.5M220.16 321.8v1.5M233.98 321.8v1.5M247.8 321.8v1.5M261.62 321.8v2.2M275.44 321.8v1.5M289.25 321.8v1.5M303.07 321.8v1.5M316.89 321.8v1.5M330.71 321.8v2.2M344.53 321.8v1.5M358.34 321.8v1.5M372.16 321.8v1.5M385.98 321.8v1.5M399.8 321.8v2.2M413.61 321.8v1.5M427.43 321.8v1.5M441.25 321.8v1.5M455.07 321.8v1.5M468.89 321.8v2.2M482.7 321.8v1.5M496.52 321.8v1.5M510.34 321.8v1.5M524.16 321.8v1.5M537.98 321.8v2.2M551.79 321.8v1.5M565.61 321.8v1.5M579.43 321.8v1.5M593.25 321.8v1.5M607.06 321.8v2.2M620.88 321.8v1.5M634.7 321.8v1.5M54.35 321.8h-2.2M54.35 293.63h-2.2M54.35 265.46h-2.2M54.35 237.29h-2.2M54.35 209.12h-2.2M54.35 180.95h-2.2M634.7 321.8h2.1M634.7 285.12h2.1M634.7 248.45h2.1M634.7 211.77h2.1M634.7 175.1h2.1" stroke="#000" stroke-width="0.6" fill="none"/>
<text x="49.35" y="325.75" font-size="10.4" text-anchor="end">0.00</text>
<text x="49.35" y="297.58" font-size="10.4" text-anchor="end">0.05</text>
<text x="49.35" y="269.41" font-size="10.4" text-anchor="end">0.10</text>
<text x="49.35" y="241.24" font-size="10.4" text-anchor="end">0.15</text>
<text x="49.35" y="213.07" font-size="10.4" text-anchor="end">0.20</text>
<text x="49.35" y="184.9" font-size="10.4" text-anchor="end">0.25</text>
<text x="638.8" y="326.4" font-size="10.4">0</text>
<text x="638.8" y="289.72" font-size="10.4">5</text>
<text x="638.8" y="253.05" font-size="10.4">10</text>
<text x="638.8" y="216.37" font-size="10.4">15</text>
<text x="638.8" y="179.7" font-size="10.4">20</text>
<path clip-path="url(#c1)" d="M54.35 208.8L55 315.2L55.65 317.4L56.3 321.8L56.95 321.8L57.6 321.8L58.25 321.8L58.9 321.8L59.55 321.8L60.2 321.8L60.85 321.8L61.5 321.8L62.15 321.8L62.8 321.8L63.45 321.8L64.1 318.1L64.75 321.8L65.4 321.8L66.05 321.8L66.7 321.8L67.35 321.8L68 321.8L68.65 321.8L69.3 321.8L69.95 321.8L70.6 321.8L71.25 321.8L71.9 321.8L72.55 321.8L73.2 321.8L73.85 321.8L74.5 321.8L75.15 321.8L75.8 321.8L76.45 321.8L77.1 321.8L77.75 321.8L78.4 321.8L79.05 321.8L79.7 321.8L80.35 321.8L81 321.8L81.65 321.8L82.3 321.8L82.95 321.8L83.6 321.8L84.25 321.8L84.9 320L85.55 321.8L86.2 321.8L86.85 321.8L87.5 321.8L88.15 321.8L88.8 321.8L89.45 321.8L90.1 321.8L90.75 321.8L91.4 321.8L92.05 321.8L92.7 321.8L93.35 321.8L94 321.8L94.65 321.8L95.3 321.8L95.95 321.8L96.6 321.8L97.25 321.8L97.9 321.8L98.55 321.8L99.2 321.8L99.85 321.8L100.5 321.8L101.15 321.8L101.8 321.8L102.45 321.8L103.1 321.8L103.75 321.8L104.4 321.8L105.05 321.8L105.7 321.8L106.35 321.8L107 321.8L107.65 321.8L108.3 321.8L108.95 321.8L109.6 321.8L110.25 321.8L110.9 321.8L111.55 321.8L112.2 321.8L112.85 321.8L113.5 321.8L114.15 321.8L114.8 321.8L115.45 321.8L116.1 321.8L116.75 321.8L117.4 321.8L118.05 321.8L118.7 321.8L119.35 321.8L120 321.8L120.65 321.8L121.3 321.8L121.95 321.8L122.6 321.8L123.25 321.8L123.9 321.8L124.55 321.8L125.2 321.8L125.85 321.8L126.5 321.8L127.15 321.8L127.8 321.8L128.45 321.8L129.1 321.8L129.75 321.8L130.4 321.8L131.05 321.8L131.7 321.8L132.35 321.8L133 321.8L133.65 321.8L134.3 321.8L134.95 321.8L135.6 321.8L136.25 321.8L136.9 321.8L137.55 321.8L138.2 321.8L138.85 321.8L139.5 321.8L140.15 321.8L140.8 321.8L141.45 321.8L142.1 321.8L142.75 321.8L143.4 321.8L144.05 321.8L144.7 321.8L145.35 321.8L146 321.8L146.65 321.8L147.3 321.8L147.95 321.8L148.6 321.8L149.25 321.8L149.9 321.8L150.55 321.8L151.2 321.8L151.85 321.8L152.5 321.8L153.15 321.8L153.8 321.8L154.45 321.8L155.1 321.8L155.75 321.8L156.4 321.8L157.05 321.8L157.7 321.8L158.35 321.8L159 321.8L159.65 321.8L160.3 321.8L160.95 321.8L161.6 321.8L162.25 321.8L162.9 321.8L163.55 321.8L164.2 321.8L164.85 321.8L165.5 321.8L166.15 321.8L166.8 321.8L167.45 321.8L168.1 321.8L168.75 321.8L169.4 321.8L170.05 321.8L170.7 321.8L171.35 321.8L172 321.8L172.65 321.8L173.3 321.8L173.95 321.8L174.6 321.8L175.25 321.8L175.9 321.8L176.55 321.8L177.2 321.8L177.85 321.8L178.5 321.8L179.15 321.8L179.8 321.8L180.45 321.8L181.1 321.8L181.75 321.8L182.4 321.8L183.05 321.8L183.7 321.8L184.35 321.8L185 321.8L185.65 321.8L186.3 321.8L186.95 321.8L187.6 321.8L188.25 321.8L188.9 321.8L189.55 321.8L190.2 321.8L190.85 321.8L191.5 321.8L192.15 321.8L192.8 321.8L193.45 321.8L194.1 321.8L194.75 321.8L195.4 321.8L196.05 321.8L196.7 321.8L197.35 321.8L198 321.8L198.65 321.8L199.3 321.8L199.95 321.8L200.6 321.8L201.25 321.8L201.9 321.8L202.55 321.8L203.2 321.8L203.85 321.8L204.5 321.8L205.15 321.8L205.8 321.8L206.45 321.8L207.1 321.8L207.75 321.8L208.4 321.8L209.05 321.8L209.7 321.8L210.35 321.8L211 321.8L211.65 321.8L212.3 321.8L212.95 321.8L213.6 321.8L214.25 321.8L214.9 321.8L215.55 321.8L216.2 321.8L216.85 321.8L217.5 321.8L218.15 321.8L218.8 321.8L219.45 321.8L220.1 321.8L220.75 321.8L221.4 321.8L222.05 321.8L222.7 321.8L223.35 321.8L224 321.8L224.65 321.8L225.3 321.8L225.95 321.8L226.6 321.8L227.25 321.8L227.9 321.8L228.55 321.8L229.2 321.8L229.85 321.8L230.5 321.8L231.15 321.8L231.8 321.8L232.45 321.8L233.1 321.8L233.75 321.8L234.4 321.8L235.05 321.8L235.7 321.8L236.35 321.8L237 321.8L237.65 321.8L238.3 321.8L238.95 321.8L239.6 321.8L240.25 321.8L240.9 321.8L241.55 321.8L242.2 321.8L242.85 321.8L243.5 321.8L244.15 321.8L244.8 321.8L245.45 321.8L246.1 321.8L246.75 321.8L247.4 321.8L248.05 321.8L248.7 321.8L249.35 321.8L250 321.8L250.65 321.8L251.3 321.8L251.95 321.8L252.6 321.8L253.25 321.8L253.9 321.8L254.55 321.8L255.2 321.8L255.85 321.8L256.5 321.8L257.15 321.8L257.8 321.8L258.45 321.8L259.1 321.8L259.75 321.8L260.4 321.8L261.05 321.8L261.7 321.8L262.35 321.8L263 321.8L263.65 321.8L264.3 321.8L264.95 321.8L265.6 321.8L266.25 321.8L266.9 321.8L267.55 321.8L268.2 321.8L268.85 321.8L269.5 321.8L270.15 321.8L270.8 321.8L271.45 321.8L272.1 321.8L272.75 321.8L273.4 321.8L274.05 321.8L274.7 321.8L275.35 321.8L276 321.8L276.65 321.8L277.3 321.8L277.95 321.8L278.6 321.8L279.25 321.8L279.9 321.8L280.55 321.8L281.2 321.8L281.85 321.8L282.5 321.8L283.15 321.8L283.8 321.8L284.45 321.8L285.1 321.8L285.75 321.8L286.4 321.8L287.05 321.8L287.7 321.8L288.35 321.8L289 321.8L289.65 321.8L290.3 321.8L290.95 321.8L291.6 321.8L292.25 321.8L292.9 321.8L293.55 321.8L294.2 321.8L294.85 321.8L295.5 321.8L296.15 321.8L296.8 321.8L297.45 321.8L298.1 321.8L298.75 321.8L299.4 321.8L300.05 321.8L300.7 321.8L301.35 321.8L302 321.8L302.65 321.8L303.3 321.8L303.95 321.8L304.6 321.8L305.25 321.8L305.9 321.8L306.55 321.8L307.2 321.8L307.85 321.8L308.5 321.8L309.15 321.8L309.8 321.8L310.45 321.8L311.1 320.2L311.75 321.8L312.4 321.8L313.05 321.8L313.7 321.8L314.35 321.8L315 321.8L315.65 321.8L316.3 321.8L316.95 321.8L317.6 321.8L318.25 321.8L318.9 321.8L319.55 321.8L320.2 321.8L320.85 321.8L321.5 321.8L322.15 321.8L322.8 321.8L323.45 321.8L324.1 321.8L324.75 321.8L325.4 321.8L326.05 321.8L326.7 321.8L327.35 321.8L328 321.8L328.65 321.8L329.3 321.8L329.95 321.8L330.6 320.7L331.25 318.1L331.9 321.8L332.55 321.8L333.2 321.8L333.85 321.8L334.5 321.8L335.15 321.8L335.8 321.8L336.45 321.8L337.1 321.8L337.75 321.8L338.4 321.8L339.05 321.8L339.7 321.8L340.35 321.8L341 321.8L341.65 321.8L342.3 321.8L342.95 321.8L343.6 321.8L344.25 321.8L344.9 321.8L345.55 321.8L346.2 321.8L346.85 321.8L347.5 321.8L348.15 321.8L348.8 321.8L349.45 321.8L350.1 321.8L350.75 321.8L351.4 321.8L352.05 321.8L352.7 321.8L353.35 321.8L354 321.8L354.65 321.8L355.3 321.8L355.95 321.8L356.6 321.8L357.25 321.8L357.9 321.8L358.55 321.8L359.2 321.8L359.85 321.8L360.5 321.8L361.15 321.8L361.8 321.8L362.45 321.8L363.1 321.8L363.75 321.8L364.4 321.8L365.05 321.8L365.7 321.8L366.35 321.8L367 321.8L367.65 321.8L368.3 321.8L368.95 321.8L369.6 321.8L370.25 321.8L370.9 321.8L371.55 321.8L372.2 321.8L372.85 321.8L373.5 321.8L374.15 321.8L374.8 321.8L375.45 321.8L376.1 321.8L376.75 321.8L377.4 321.8L378.05 321.8L378.7 321.8L379.35 321.8L380 321.8L380.65 321.8L381.3 321.8L381.95 321.8L382.6 321.8L383.25 321.8L383.9 321.8L384.55 321.8L385.2 321.8L385.85 321.8L386.5 321.8L387.15 321.8L387.8 321.8L388.45 321.8L389.1 321.8L389.75 321.8L390.4 321.8L391.05 321.8L391.7 321.8L392.35 321.8L393 321.8L393.65 321.8L394.3 321.8L394.95 321.8L395.6 321.8L396.25 321.8L396.9 321.8L397.55 321.8L398.2 321.8L398.85 321.8L399.5 321.8L400.15 321.8L400.8 321.8L401.45 321.8L402.1 321.8L402.75 321.8L403.4 321.8L404.05 321.8L404.7 321.8L405.35 321.8L406 321.8L406.65 321.8L407.3 321.8L407.95 321.8L408.6 321.8L409.25 321.8L409.9 321.8L410.55 321.8L411.2 321.8L411.85 321.8L412.5 321.8L413.15 321.8L413.8 321.8L414.45 321.8L415.1 321.8L415.75 321.8L416.4 321.8L417.05 321.8L417.7 321.8L418.35 321.8L419 321.8L419.65 321.8L420.3 321.8L420.95 321.8L421.6 321.8L422.25 321.8L422.9 321.8L423.55 321.8L424.2 321.8L424.85 321.8L425.5 321.8L426.15 321.8L426.8 321.8L427.45 321.8L428.1 321.8L428.75 321.8L429.4 321.8L430.05 321.8L430.7 321.8L431.35 321.8L432 321.8L432.65 321.8L433.3 321.8L433.95 321.8L434.6 321.8L435.25 321.8L435.9 321.8L436.55 321.8L437.2 321.8L437.85 321.8L438.5 321.8L439.15 321.8L439.8 321.8L440.45 321.8L441.1 321.8L441.75 321.8L442.4 321.8L443.05 321.8L443.7 321.8L444.35 321.8L445 321.8L445.65 321.8L446.3 321.8L446.95 321.8L447.6 321.8L448.25 321.8L448.9 321.8L449.55 321.8L450.2 321.8L450.85 321.8L451.5 321.8L452.15 321.8L452.8 321.8L453.45 321.8L454.1 321.8L454.75 321.8L455.4 321.8L456.05 321.8L456.7 321.8L457.35 321.8L458 321.8L458.65 321.8L459.3 321.8L459.95 321.8L460.6 321.8L461.25 321.8L461.9 321.8L462.55 321.8L463.2 321.8L463.85 321.8L464.5 321.8L465.15 321.8L465.8 321.8L466.45 321.8L467.1 321.8L467.75 321.8L468.4 321.8L469.05 321.8L469.7 321.8L470.35 321.8L471 321.8L471.65 321.8L472.3 321.8L472.95 321.8L473.6 321.8L474.25 321.8L474.9 321.8L475.55 321.8L476.2 321.8L476.85 321.8L477.5 321.8L478.15 321.8L478.8 321.8L479.45 321.8L480.1 321.8L480.75 321.8L481.4 321.8L482.05 321.8L482.7 321.8L483.35 321.8L484 321.8L484.65 321.8L485.3 321.8L485.95 321.8L486.6 321.8L487.25 321.8L487.9 321.8L488.55 321.8L489.2 321.8L489.85 321.8L490.5 321.8L491.15 321.8L491.8 321.8L492.45 321.8L493.1 321.8L493.75 321.8L494.4 321.8L495.05 321.8L495.7 321.8L496.35 321.8L497 321.8L497.65 321.8L498.3 321.8L498.95 321.8L499.6 321.8L500.25 321.8L500.9 321.8L501.55 321.8L502.2 321.8L502.85 321.8L503.5 321.8L504.15 321.8L504.8 321.8L505.45 321.8L506.1 321.8L506.75 321.8L507.4 321.8L508.05 321.8L508.7 321.8L509.35 321.8L510 321.8L510.65 321.8L511.3 321.8L511.95 321.8L512.6 321.8L513.25 321.8L513.9 321.8L514.55 321.8L515.2 321.8L515.85 321.8L516.5 321.8L517.15 321.8L517.8 321.8L518.45 321.8L519.1 321.8L519.75 321.8L520.4 321.8L521.05 321.8L521.7 321.8L522.35 321.8L523 321.8L523.65 321.8L524.3 321.8L524.95 321.8L525.6 321.8L526.25 321.8L526.9 321.8L527.55 321.8L528.2 321.8L528.85 321.8L529.5 321.8L530.15 321.8L530.8 321.8L531.45 321.8L532.1 321.8L532.75 321.8L533.4 321.8L534.05 321.8L534.7 321.8L535.35 321.8L536 321.8L536.65 321.8L537.3 321.8L537.95 321.8L538.6 321.8L539.25 321.8L539.9 321.8L540.55 321.8L541.2 321.8L541.85 321.8L542.5 321.8L543.15 321.8L543.8 321.8L544.45 321.8L545.1 321.8L545.75 321.8L546.4 321.8L547.05 321.8L547.7 321.8L548.35 321.8L549 321.8L549.65 321.8L550.3 321.8L550.95 321.8L551.6 321.8L552.25 321.8L552.9 321.8L553.55 321.8L554.2 321.8L554.85 321.8L555.5 321.8L556.15 321.8L556.8 321.8L557.45 321.8L558.1 321.8L558.75 321.8L559.4 321.8L560.05 321.8L560.7 321.8L561.35 321.8L562 321.8L562.65 321.8L563.3 321.8L563.95 321.8L564.6 321.8L565.25 321.8L565.9 321.3L566.55 321L567.2 321.5L567.85 321.2L568.5 319.6L569.15 321.5L569.8 318.1L570.45 321.1L571.1 321.5L571.75 321.1L572.4 321.2L573.05 321.5L573.7 321L574.35 321.3L575 321.4L575.65 321L576.3 321.4L576.95 321.3L577.6 321L578.25 321.5L578.9 321.2L579.55 318.1L580.2 321.5L580.85 321.2L581.5 321.1L582.15 321.5L582.8 321.1L583.45 321.2L584.1 321.5L584.75 321L585.4 321.3L586.05 321.4L586.7 321L587.35 321.4L588 321.4L588.65 321L589.3 321.4L589.95 321.3L590.6 321L591.25 321.5L591.9 321.2L592.55 321.1L593.2 321.5L593.85 321.1L594.5 321.2L595.15 321.5L595.8 321L596.45 321.3L597.1 321.5L597.75 321L598.4 319.2L599.05 321.4L599.7 321L600.35 321.4L601 321.3L601.65 321L602.3 321.5L602.95 321.2L603.6 321.1L604.25 321.5L604.9 321.1L605.55 321.1L606.2 321.5L606.85 321.1L607.5 321.2L608.15 321.5L608.8 321L609.45 321.3L610.1 321.4L610.75 321L611.4 321.4L612.05 321.3L612.7 321L613.35 321.5L614 321.2L614.65 321L615.3 321.5L615.95 321.2L616.6 321.1L617.25 321.5L617.9 321.1L618.55 321.2L619.2 321.5L619.85 321L620.5 321.3L621.15 321.8L621.8 321.8L622.45 321.8L623.1 321.8L623.75 321.8L624.4 321.8L625.05 321.8L625.7 321.8L626.35 321.8L627 321.8L627.65 321.8L628.3 321.8L628.95 321.8L629.6 321.8L630.25 321.8L630.9 321.8L631.55 321.8L632.2 321.8L632.85 321.8L633.5 321.8L634.15 321.8" fill="none" stroke="#ff7f0e" stroke-width="1.2" stroke-dasharray="1.2 1.97" stroke-dashoffset="0.00" stroke-linejoin="round"/>
<path clip-path="url(#c1)" d="M577.62 321.5L578.32 302.7L579.02 321.5" fill="none" stroke="#ff7f0e" stroke-width="1.2" stroke-dasharray="1.2 1.97" stroke-dashoffset="0.84" stroke-linejoin="round"/>
<path clip-path="url(#c1)" d="M587.65 321.5L588.35 191.6L589.05 321.5" fill="none" stroke="#ff7f0e" stroke-width="1.2" stroke-dasharray="1.2 1.97" stroke-dashoffset="1.46" stroke-linejoin="round"/>
<path clip-path="url(#c1)" d="M606.36 321.5L607.06 265.7L607.76 321.5" fill="none" stroke="#ff7f0e" stroke-width="1.2" stroke-dasharray="1.2 1.97" stroke-dashoffset="1.84" stroke-linejoin="round"/>
<path clip-path="url(#c1)" d="M607.88 321.5L608.58 306.8L609.28 321.5" fill="none" stroke="#ff7f0e" stroke-width="1.2" stroke-dasharray="1.2 1.97" stroke-dashoffset="1.70" stroke-linejoin="round"/>
<path clip-path="url(#c1)" d="M73.88 321.5L74.58 313.0L75.28 321.5" fill="none" stroke="#ff7f0e" stroke-width="1.2" stroke-dasharray="1.2 1.97" stroke-dashoffset="1.58" stroke-linejoin="round"/>
<rect x="54.35" y="175.1" width="580.35" height="146.7" fill="none" stroke="#000" stroke-width="0.6"/>
<text x="65.4" y="197" font-size="13.2">b)<tspan dx="14.6">PUYO (NZ)</tspan></text>
</g>
<g id="panel2">
<path clip-path="url(#c2)" d="M54.35 318.7L54.65 480.4L54.95 318.7L55.25 445.4L55.55 318.7L55.85 480.4L56.15 318.7L56.45 425.4L56.75 468.1L57.05 444.9L57.35 480.1L57.65 446.3L57.95 479.7L58.25 418.4L58.55 480.2L58.85 424.3L59.15 480.2L59.45 460.9L59.75 480.2L60.05 463.5L60.35 480.3L60.65 441.7L60.95 477.9L61.25 443.7L61.55 477.4L61.85 448.3L62.15 477.8L62.45 457.2L62.75 477.9L63.05 451.1L63.35 477.9L63.65 464.7L63.95 477.6L64.25 463L64.55 480.7L64.85 469.3L65.15 480L65.45 454.6L65.75 479.5L66.05 457.6L66.35 479.3L66.65 469.2L66.95 479.7L67.25 470.6L67.55 479.5L67.85 468.3L68.15 480L68.45 462.7L68.75 483.1L69.05 463.6L69.35 483.1L69.65 474.1L69.95 484.3L70.25 470.4L70.55 483.5L70.85 470.8L71.15 457.6L71.45 462.7L71.75 458.4L72.05 470.3L72.35 479L72.65 467.8L72.95 479.3L73.25 465.1L73.55 479L73.85 468.9L74.15 479.3L74.45 472.8L74.75 479.2L75.05 475.8L75.35 458.1L75.65 463.8L75.95 460.4L76.25 472.4L76.55 482.5L76.85 468.9L77.15 482.6L77.45 468.8L77.75 465.1L78.05 472.8L78.35 467L78.65 478.1L78.95 478.7L79.25 474.7L79.55 479.9L79.85 475.7L80.15 479.9L80.45 468.6L80.75 479.9L81.05 469.6L81.35 479.9L81.65 468.4L81.95 478.1L82.25 476.8L82.55 478.1L82.85 463.2L83.15 478.2L83.45 464.5L83.75 478.1L84.05 476.1L84.35 477.4L84.65 475.2L84.95 482.1L85.25 467.1L85.55 482.4L85.85 459.9L86.15 480.6L86.45 461.2L86.75 480.5L87.05 473L87.35 480.5L87.65 471.1L87.95 479.9L88.25 477.7L88.55 480.6L88.85 471.8L89.15 468.6L89.45 477.8L89.75 470.1L90.05 479.1L90.35 482.5L90.65 476.9L90.95 482.6L91.25 474L91.55 480.4L91.85 475.2L92.15 480.4L92.45 471.9L92.75 480.4L93.05 473L93.35 480.4L93.65 477.9L93.95 482.6L94.25 477.3L94.55 482.5L94.85 473.6L95.15 470.2L95.45 477.2L95.75 470.7L96.05 476.1L96.35 482.2L96.65 475.5L96.95 482.4L97.25 478.4L97.55 484.1L97.85 473.1L98.15 483.5L98.45 469.8L98.75 484.5L99.05 470.4L99.35 485.2L99.65 476.1L99.95 484.5L100.25 476.5L100.55 485L100.85 478.6L101.15 484.8L101.45 480.7L101.75 484.2L102.05 473.3L102.35 485.2L102.65 474L102.95 485L103.25 475.9L103.55 485L103.85 479L104.15 484.7L104.45 479.9L104.75 485.3L105.05 474.5L105.35 470.9L105.65 479L105.95 472.1L106.25 475.1L106.55 484.5L106.85 478.6L107.15 484.4L107.45 479.7L107.75 484.6L108.05 478.1L108.35 485.3L108.65 476.8L108.95 474L109.25 478.3L109.55 474.9L109.85 476.9L110.15 484.8L110.45 477.5L110.75 484.3L111.05 481.4L111.35 484.4L111.65 480.2L111.95 476.3L112.25 481.4L112.55 476.6L112.85 478.4L113.15 484.4L113.45 481.7L113.75 484.8L114.05 478.2L114.35 475.6L114.65 481.3L114.95 476.3L115.25 478.7L115.55 484.6L115.85 479.9L116.15 484.4L116.45 475.5L116.75 484.1L117.05 479.5L117.35 484.1L117.65 479.8L117.95 485L118.25 480.5L118.55 484.6L118.85 473.3L119.15 485.3L119.45 474.3L119.75 485.1L120.05 476.3L120.35 485.2L120.65 479.9L120.95 484.7L121.25 474L121.55 485.1L121.85 474.5L122.15 484.1L122.45 479.4L122.75 484.7L123.05 480.7L123.35 485L123.65 477.1L123.95 484.6L124.25 477.8L124.55 485.3L124.85 478.1L125.15 485.1L125.45 480.4L125.75 485.2L126.05 475.6L126.35 485.1L126.65 476.1L126.95 484.8L127.25 478.6L127.55 485.3L127.85 481.8L128.15 484.6L128.45 481.8L128.75 476.3L129.05 478.6L129.35 477L129.65 480.4L129.95 484.5L130.25 480.4L130.55 484.3L130.85 481.3L131.15 484.7L131.45 476.6L131.75 475.1L132.05 476.9L132.35 476L132.65 477.8L132.95 485L133.25 479.1L133.55 485.1L133.85 478.8L134.15 474.9L134.45 479.9L134.75 475.5L135.05 477.5L135.35 484.7L135.65 481.4L135.95 484.7L136.25 480.9L136.55 478.4L136.85 481.6L137.15 478.7L137.45 478.7L137.75 484.9L138.05 479L138.35 484.5L138.65 476.8L138.95 484.4L139.25 477.3L139.55 485L139.85 479.4L140.15 485.4L140.45 476.3L140.75 484.2L141.05 474.4L141.35 484.3L141.65 475.5L141.95 484.4L142.25 479L142.55 484.8L142.85 479.6L143.15 485.2L143.45 480.7L143.75 485L144.05 477.9L144.35 484.5L144.65 478.3L144.95 484.7L145.25 479.5L145.55 485.2L145.85 481L146.15 485.1L146.45 480.4L146.75 484.6L147.05 477.7L147.35 485.1L147.65 481.3L147.95 485.3L148.25 481.1L148.55 484.5L148.85 480.3L149.15 478.8L149.45 480.8L149.75 479.4L150.05 478.9L150.35 485L150.65 482.1L150.95 485.1L151.25 481.2L151.55 477.5L151.85 480.1L152.15 477.8L152.45 481.2L152.75 484.5L153.05 480L153.35 484.5L153.65 480.9L153.95 478.9L154.25 481.7L154.55 479L154.85 481.7L155.15 485.2L155.45 481.3L155.75 485.3L156.05 480.5L156.35 476.3L156.65 478.7L156.95 476.5L157.25 479L157.55 485.1L157.85 482.9L158.15 484.7L158.45 479.8L158.75 485.4L159.05 478.9L159.35 485.2L159.65 479.4L159.95 485.4L160.25 480L160.55 485.3L160.85 480L161.15 484.9L161.45 482.4L161.75 478.6L162.05 482.2L162.35 479L162.65 482.8L162.95 484.8L163.25 481.9L163.55 484.4L163.85 481.5L164.15 484.8L164.45 476.3L164.75 485.1L165.05 476.7L165.35 484.4L165.65 480.3L165.95 485.4L166.25 482.2L166.55 484.9L166.85 479.4L167.15 485L167.45 479.6L167.75 485.4L168.05 481.6L168.35 485.1L168.65 480.1L168.95 485.1L169.25 477.9L169.55 485.2L169.85 478.7L170.15 484.9L170.45 479.5L170.75 484.5L171.05 481L171.35 485.1L171.65 480.6L171.95 476.3L172.25 481L172.55 476.7L172.85 479L173.15 484.4L173.45 480.4L173.75 484.4L174.05 481.2L174.35 484.8L174.65 479.7L174.95 479.2L175.25 482.8L175.55 484.9L175.85 482.7L176.15 484.9L176.45 483L176.75 485.1L177.05 482.9L177.35 479.7L177.65 480.4L177.95 485.2L178.25 482.1L178.55 485L178.85 482.8L179.15 485.2L179.45 481.5L179.75 478.6L180.05 481L180.35 484.9L180.65 482.1L180.95 485.1L181.25 479.9L181.55 484.8L181.85 478.6L182.15 485L182.45 479.1L182.75 485.1L183.05 479.9L183.35 485.3L183.65 481.5L183.95 484.6L184.25 476.8L184.55 484.4L184.85 477.2L185.15 484.4L185.45 479.9L185.75 484.7L186.05 480.7L186.35 484.8L186.65 476.8L186.95 484.6L187.25 477.2L187.55 484.4L187.85 481.5L188.15 485.1L188.45 480.3L188.75 484.7L189.05 479.3L189.35 484.6L189.65 479.5L189.95 485L190.25 482.3L190.55 485.1L190.85 481.3L191.15 484.7L191.45 479L191.75 484.8L192.05 480.5L192.35 484.9L192.65 480.4L192.95 485.3L193.25 482.1L193.55 477.9L193.85 481.1L194.15 478.2L194.45 481.4L194.75 485.4L195.05 482L195.35 484.8L195.65 479.6L195.95 478.3L196.25 480.9L196.55 484.5L196.85 479.6L197.15 484.6L197.45 481.6L197.75 485.1L198.05 481.2L198.35 478.4L198.65 480.1L198.95 484.7L199.25 480.9L199.55 484.8L199.85 479L200.15 485.2L200.45 478.2L200.75 476.8L201.05 478.5L201.35 477.2L201.65 478.5L201.95 485.1L202.25 480.7L202.55 485.3L202.85 481.8L203.15 479.7L203.45 482.3L203.75 479.9L204.05 481.8L204.35 484.8L204.65 482.4L204.95 485.2L205.25 481.5L205.55 485.1L205.85 479.6L206.15 485.3L206.45 479.9L206.75 484.9L207.05 483.3L207.35 484.8L207.65 481.5L207.95 484.9L208.25 481.7L208.55 480.1L208.85 483.1L209.15 480.5L209.45 483.3L209.75 485.2L210.05 478L210.35 485.2L210.65 484.3L210.95 484.9L211.25 484.3L211.55 485.3L211.85 479.4L212.15 485L212.45 482.8L212.75 484.8L213.05 483L213.35 484.9L213.65 479.4L213.95 485.2L214.25 480L214.55 484.8L214.85 479.3L215.15 484.8L215.45 482.7L215.75 485L216.05 483.3L216.35 485L216.65 479.3L216.95 485.2L217.25 481.2L217.55 485L217.85 483L218.15 485L218.45 484L218.75 484.8L219.05 483.2L219.35 484.7L219.65 482.4L219.95 485L220.25 483.2L220.55 484.7L220.85 477.9L221.15 485.2L221.45 481.4L221.75 484.8L222.05 482.9L222.35 485.3L222.65 482.6L222.95 485.4L223.25 480.3L223.55 485.4L223.85 482.4L224.15 485.4L224.45 481L224.75 485L225.05 478L225.35 485.1L225.65 480.2L225.95 485.3L226.25 484.1L226.55 485.3L226.85 483.9L227.15 484.9L227.45 478.8L227.75 485.4L228.05 483.7L228.35 485.3L228.65 480.7L228.95 485L229.25 483.3L229.55 484.8L229.85 483.1L230.15 485.1L230.45 483.5L230.75 485.1L231.05 477.4L231.35 484.9L231.65 480.9L231.95 485.1L232.25 483.8L232.55 485.2L232.85 477.2L233.15 485.3L233.45 483.2L233.75 484.8L234.05 482.8L234.35 484.9L234.65 477.2L234.95 484.7L235.25 483.3L235.55 485.3L235.85 482.2L236.15 485.4L236.45 480.6L236.75 484.9L237.05 480.8L237.35 485.2L237.65 479.3L237.95 485.2L238.25 477L238.55 485.1L238.85 482.3L239.15 484.9L239.45 481.4L239.75 485.1L240.05 481L240.35 485.2L240.65 477.2L240.95 485.3L241.25 478.1L241.55 484.9L241.85 480.7L242.15 484.8L242.45 477.6L242.75 484.9L243.05 479.9L243.35 485.2L243.65 484.3L243.95 484.6L244.25 480.7L244.55 484.8L244.85 478.7L245.15 485.1L245.45 484.3L245.75 484.6L246.05 482.3L246.35 485.3L246.65 479.8L246.95 485.3L247.25 479.1L247.55 484.8L247.85 480L248.15 484.7L248.45 482.2L248.75 484.9L249.05 481.6L249.35 485.2L249.65 481.4L249.95 484.9L250.25 479.5L250.55 485L250.85 480.1L251.15 485L251.45 480.8L251.75 485.4L252.05 481.4L252.35 484.8L252.65 476.9L252.95 484.9L253.25 482.4L253.55 485.2L253.85 478.9L254.15 484.8L254.45 482L254.75 484.7L255.05 477L255.35 484.7L255.65 479.8L255.95 485.3L256.25 480.4L256.55 485.2L256.85 482L257.15 485.1L257.45 483.4L257.75 484.9L258.05 479.4L258.35 484.7L258.65 480.3L258.95 485L259.25 477.5L259.55 485L259.85 481.5L260.15 484.7L260.45 483L260.75 485.3L261.05 484.2L261.35 484.9L261.65 480.4L261.95 485L262.25 483.5L262.55 485.3L262.85 484.2L263.15 485.2L263.45 482.8L263.75 485.2L264.05 482L264.35 484.7L264.65 481.7L264.95 484.7L265.25 483L265.55 485.3L265.85 481.2L266.15 484.7L266.45 481.8L266.75 485L267.05 479.8L267.35 485.4L267.65 481.4L267.95 485L268.25 484.3L268.55 485L268.85 482.5L269.15 485.3L269.45 479.6L269.75 484.9L270.05 481.1L270.35 484.8L270.65 478.6L270.95 484.9L271.25 481.6L271.55 485L271.85 478.1L272.15 484.9L272.45 480.2L272.75 485.2L273.05 478.3L273.35 485.3L273.65 481.1L273.95 484.8L274.25 479.8L274.55 484.9L274.85 481.2L275.15 485L275.45 481.7L275.75 484.7L276.05 482.3L276.35 485.3L276.65 480.2L276.95 484.8L277.25 480L277.55 484.8L277.85 479.4L278.15 485.3L278.45 482.3L278.75 484.9L279.05 478.6L279.35 484.8L279.65 482.2L279.95 485.4L280.25 480.4L280.55 485L280.85 478.7L281.15 484.8L281.45 482.5L281.75 484.9L282.05 479.7L282.35 485.3L282.65 480.1L282.95 484.9L283.25 481.5L283.55 485.2L283.85 480.5L284.15 484.8L284.45 482.7L284.75 485.4L285.05 482.4L285.35 485.1L285.65 482.5L285.95 485.3L286.25 481.3L286.55 485.4L286.85 482.7L287.15 484.9L287.45 484.1L287.75 485.2L288.05 483L288.35 484.9L288.65 483.4L288.95 485.1L289.25 481.7L289.55 485L289.85 484.5L290.15 485.4L290.45 483.9L290.75 485L291.05 480.5L291.35 485.3L291.65 480.8L291.95 485.1L292.25 481.8L292.55 485.3L292.85 483.5L293.15 485.1L293.45 482.8L293.75 485L294.05 482.4L294.35 485.1L294.65 481L294.95 485.2L295.25 483.3L295.55 485.2L295.85 480.3L296.15 484.9L296.45 480.7L296.75 485.3L297.05 481L297.35 484.9L297.65 479.1L297.95 485.2L298.25 480.1L298.55 484.8L298.85 483.2L299.15 485.3L299.45 482.8L299.75 484.9L300.05 483.4L300.35 484.8L300.65 479.9L300.95 484.8L301.25 479.8L301.55 485.4L301.85 482.3L302.15 485.3L302.45 482.5L302.75 485.3L303.05 478.8L303.35 485.3L303.65 479.3L303.95 485.3L304.25 481.2L304.55 484.8L304.85 482.5L305.15 484.7L305.45 484.8L305.75 484.9L306.05 481.1L306.35 484.9L306.65 481.9L306.95 485.2L307.25 479.1L307.55 484.9L307.85 481.5L308.15 485L308.45 479L308.75 485.3L309.05 482L309.35 485.2L309.65 482.6L309.95 485L310.25 482L310.55 484.8L310.85 479.9L311.15 485L311.45 478.1L311.75 484.7L312.05 484.1L312.35 485.4L312.65 483.3L312.95 485L313.25 481.6L313.55 484.7L313.85 484.1L314.15 484.9L314.45 479.6L314.75 485.1L315.05 481.2L315.35 485L315.65 480.8L315.95 484.7L316.25 478.9L316.55 485L316.85 483L317.15 484.9L317.45 482.6L317.75 484.5L318.05 482.5L318.35 485.3L318.65 482.5L318.95 485.2L319.25 479.3L319.55 485.3L319.85 477.5L320.15 484.8L320.45 481.8L320.75 485.1L321.05 474.2L321.35 484.6L321.65 474.1L321.95 485.2L322.25 475.1L322.55 484.7L322.85 473.2L323.15 484.7L323.45 477.8L323.75 485L324.05 479.4L324.35 484.7L324.65 477.5L324.95 484.5L325.25 476.8L325.55 485.3L325.85 476.1L326.15 484.6L326.45 476.1L326.75 485L327.05 475.4L327.35 485.4L327.65 476.6L327.95 484.5L328.25 476.1L328.55 484.3L328.85 471.9L329.15 484.6L329.45 470.3L329.75 484.8L330.05 470.6L330.35 466L330.65 447.7L330.95 468L331.25 470.4L331.55 484.9L331.85 471L332.15 485.2L332.45 471.3L332.75 484.8L333.05 475.5L333.35 484.2L333.65 475.8L333.95 484.5L334.25 476.4L334.55 485.1L334.85 476.7L335.15 485.4L335.45 475.8L335.75 485.2L336.05 472.6L336.35 485.2L336.65 475.9L336.95 484.8L337.25 481.2L337.55 485.1L337.85 476.1L338.15 485.1L338.45 478.7L338.75 484.8L339.05 482.9L339.35 484.5L339.65 477.8L339.95 485L340.25 478.8L340.55 485.1L340.85 482.1L341.15 485.3L341.45 480.1L341.75 485L342.05 483.1L342.35 484.5L342.65 481.6L342.95 485L343.25 476.6L343.55 485.1L343.85 480.5L344.15 484.9L344.45 483.3L344.75 484.7L345.05 482.4L345.35 484.7L345.65 479.8L345.95 485L346.25 481.7L346.55 485.1L346.85 481.6L347.15 484.9L347.45 479.4L347.75 485L348.05 481.1L348.35 484.7L348.65 484.5L348.95 484.7L349.25 480.7L349.55 484.8L349.85 479.5L350.15 485.3L350.45 483.9L350.75 485.3L351.05 477.9L351.35 485.2L351.65 481.8L351.95 484.8L352.25 482.8L352.55 485.3L352.85 478.6L353.15 484.9L353.45 482.4L353.75 485.1L354.05 481.3L354.35 485L354.65 479.1L354.95 484.9L355.25 480.7L355.55 484.9L355.85 480.5L356.15 485.3L356.45 481.7L356.75 484.9L357.05 483.3L357.35 485.1L357.65 481.3L357.95 484.9L358.25 484.3L358.55 484.8L358.85 482.1L359.15 484.9L359.45 479.3L359.75 485L360.05 482.6L360.35 485.3L360.65 481.1L360.95 485.1L361.25 481.6L361.55 485L361.85 480.1L362.15 485L362.45 483L362.75 484.9L363.05 483.6L363.35 485.2L363.65 482.1L363.95 485.1L364.25 479.5L364.55 485.3L364.85 483.7L365.15 485.2L365.45 484L365.75 485.1L366.05 482.9L366.35 484.9L366.65 484.4L366.95 484.9L367.25 484L367.55 484.9L367.85 479.5L368.15 485.3L368.45 481.8L368.75 485L369.05 483.4L369.35 485.3L369.65 482.9L369.95 485.3L370.25 484.3L370.55 485.3L370.85 482.5L371.15 485.1L371.45 480.6L371.75 485.2L372.05 480.7L372.35 485.2L372.65 481.5L372.95 485.2L373.25 483.2L373.55 485.3L373.85 479.6L374.15 485.1L374.45 479.5L374.75 484.9L375.05 479.7L375.35 485.3L375.65 481.4L375.95 484.9L376.25 484.5L376.55 484.9L376.85 483.4L377.15 485.4L377.45 482.6L377.75 485.3L378.05 482.4L378.35 485.4L378.65 483.1L378.95 485.2L379.25 480.7L379.55 485L379.85 480.3L380.15 485.3L380.45 482.2L380.75 485.1L381.05 482.6L381.35 485.1L381.65 483.4L381.95 485L382.25 480.2L382.55 485.2L382.85 482.4L383.15 485.1L383.45 480L383.75 485.1L384.05 483.3L384.35 485.2L384.65 480.7L384.95 485.3L385.25 482.6L385.55 485.3L385.85 481.8L386.15 484.8L386.45 482L386.75 485.2L387.05 481.6L387.35 484.8L387.65 480.5L387.95 485.1L388.25 482.5L388.55 484.8L388.85 481.8L389.15 485.4L389.45 478.3L389.75 485.3L390.05 482.9L390.35 485.4L390.65 478.2L390.95 485.1L391.25 484.1L391.55 485.3L391.85 480L392.15 484.8L392.45 480.6L392.75 485.3L393.05 480.5L393.35 485.4L393.65 481.9L393.95 485.3L394.25 478.5L394.55 485.3L394.85 482.5L395.15 485.2L395.45 479.3L395.75 485.3L396.05 481.6L396.35 485.1L396.65 480.7L396.95 485.4L397.25 480.5L397.55 485L397.85 483.8L398.15 485.1L398.45 481.8L398.75 485.2L399.05 479.3L399.35 485L399.65 481.6L399.95 484.8L400.25 481.6L400.55 485.2L400.85 481.3L401.15 484.8L401.45 477.8L401.75 485.4L402.05 482.8L402.35 484.8L402.65 480.3L402.95 484.9L403.25 483.6L403.55 485.4L403.85 479.3L404.15 484.7L404.45 477.7L404.75 484.7L405.05 480.3L405.35 485.1L405.65 478.9L405.95 485.1L406.25 482.4L406.55 485.3L406.85 480.4L407.15 485.3L407.45 482.3L407.75 485.1L408.05 477.7L408.35 485.1L408.65 484.3L408.95 485L409.25 481.5L409.55 484.9L409.85 482.8L410.15 485.2L410.45 483.5L410.75 485.3L411.05 483.6L411.35 485.2L411.65 479.1L411.95 484.8L412.25 482.1L412.55 485.3L412.85 484.2L413.15 484.8L413.45 479.2L413.75 485L414.05 483.1L414.35 485L414.65 483.3L414.95 484.7L415.25 481.4L415.55 485.1L415.85 483.6L416.15 485L416.45 483.3L416.75 485L417.05 479.3L417.35 485.2L417.65 480.5L417.95 484.8L418.25 484.9L418.55 485.3L418.85 482.1L419.15 485.1L419.45 482.6L419.75 485.2L420.05 481.3L420.35 484.9L420.65 478.1L420.95 484.9L421.25 479.8L421.55 485L421.85 481.8L422.15 484.8L422.45 480.7L422.75 485.3L423.05 485L423.35 485.1L423.65 483.4L423.95 485.2L424.25 482.7L424.55 484.8L424.85 481.8L425.15 485.1L425.45 482.2L425.75 484.9L426.05 483L426.35 484.9L426.65 484.7L426.95 485.3L427.25 483.9L427.55 485.1L427.85 482.7L428.15 485L428.45 478.5L428.75 484.9L429.05 483.5L429.35 485.3L429.65 478.5L429.95 485.2L430.25 479.3L430.55 485L430.85 484.2L431.15 484.8L431.45 484.3L431.75 484.9L432.05 484L432.35 484.8L432.65 484.2L432.95 484.8L433.25 481.6L433.55 484.9L433.85 478.7L434.15 485L434.45 480.1L434.75 485.2L435.05 480L435.35 485L435.65 480.2L435.95 485L436.25 483L436.55 485L436.85 484.9L437.15 485.2L437.45 482.7L437.75 485L438.05 481.8L438.35 485.1L438.65 485.2L438.95 485.2L439.25 482.2L439.55 485.1L439.85 483.8L440.15 485.2L440.45 483L440.75 485.1L441.05 481.9L441.35 484.9L441.65 479.9L441.95 485.1L442.25 483.6L442.55 485L442.85 478.9L443.15 485.3L443.45 480.8L443.75 485.1L444.05 482.6L444.35 484.9L444.65 481.8L444.95 484.9L445.25 483.3L445.55 485L445.85 484.1L446.15 484.9L446.45 482L446.75 485.2L447.05 483.1L447.35 485.1L447.65 483L447.95 484.8L448.25 484.1L448.55 485L448.85 483.2L449.15 485.3L449.45 483.8L449.75 485.3L450.05 484.8L450.35 485.4L450.65 481.1L450.95 484.8L451.25 482.1L451.55 485.4L451.85 483.4L452.15 484.8L452.45 484.1L452.75 485.2L453.05 484.3L453.35 485.3L453.65 482.6L453.95 485.1L454.25 485.2L454.55 485.2L454.85 483L455.15 484.8L455.45 480.5L455.75 484.8L456.05 480.8L456.35 485.1L456.65 483.5L456.95 484.8L457.25 482L457.55 485.3L457.85 479.9L458.15 485.2L458.45 481.7L458.75 485.1L459.05 482.5L459.35 485.1L459.65 481.5L459.95 485L460.25 482.7L460.55 485.3L460.85 484L461.15 485L461.45 482.3L461.75 485.3L462.05 482.2L462.35 484.8L462.65 481.8L462.95 484.9L463.25 483.3L463.55 485.2L463.85 483L464.15 484.8L464.45 483.9L464.75 485.1L465.05 481.1L465.35 485.3L465.65 480.4L465.95 485.1L466.25 482.7L466.55 485.2L466.85 482.3L467.15 485.1L467.45 484.1L467.75 485.3L468.05 482.1L468.35 484.8L468.65 479.7L468.95 484.9L469.25 480L469.55 484.8L469.85 481.5L470.15 485.1L470.45 479.1L470.75 484.9L471.05 481.5L471.35 485.2L471.65 482.6L471.95 485.1L472.25 484.2L472.55 484.8L472.85 482.4L473.15 485.3L473.45 483.9L473.75 484.8L474.05 482.8L474.35 485L474.65 483.6L474.95 485.3L475.25 484.9L475.55 484.8L475.85 482.1L476.15 485.2L476.45 478.7L476.75 485L477.05 481.4L477.35 485.2L477.65 478.7L477.95 485L478.25 482.8L478.55 484.8L478.85 483.3L479.15 485.1L479.45 480.6L479.75 484.8L480.05 478.8L480.35 485.3L480.65 481L480.95 484.9L481.25 481L481.55 485.3L481.85 483.5L482.15 485L482.45 481L482.75 485.1L483.05 483.6L483.35 484.9L483.65 480.4L483.95 485.2L484.25 480.8L484.55 485L484.85 482.8L485.15 484.8L485.45 483.4L485.75 484.9L486.05 483.8L486.35 485.1L486.65 482.5L486.95 484.8L487.25 484.1L487.55 485.3L487.85 479.2L488.15 485.3L488.45 479.2L488.75 485.4L489.05 483.3L489.35 485.1L489.65 482.6L489.95 485.1L490.25 482.9L490.55 484.9L490.85 482.1L491.15 485.2L491.45 483.8L491.75 484.8L492.05 480L492.35 485.2L492.65 481L492.95 485.1L493.25 481.9L493.55 485.3L493.85 482.5L494.15 484.9L494.45 483.9L494.75 485.3L495.05 480.8L495.35 485.1L495.65 484.5L495.95 484.9L496.25 482.6L496.55 485.2L496.85 483.2L497.15 485.1L497.45 479.8L497.75 485.1L498.05 484.8L498.35 484.9L498.65 484.1L498.95 484.9L499.25 482.5L499.55 485.2L499.85 483L500.15 485.3L500.45 483.7L500.75 485.4L501.05 482.6L501.35 485L501.65 482.2L501.95 485L502.25 482.9L502.55 484.9L502.85 483.5L503.15 484.9L503.45 483.7L503.75 485.4L504.05 480.2L504.35 485.2L504.65 483.5L504.95 485.2L505.25 483.8L505.55 484.9L505.85 481.9L506.15 485.1L506.45 482.8L506.75 485.1L507.05 482.9L507.35 485.1L507.65 484.2L507.95 485.2L508.25 483.3L508.55 485L508.85 481.7L509.15 485.4L509.45 482.4L509.75 485.2L510.05 482.5L510.35 484.9L510.65 485.2L510.95 484.9L511.25 484.2L511.55 485.2L511.85 483.9L512.15 485.3L512.45 482.4L512.75 485.3L513.05 483.5L513.35 485.3L513.65 482L513.95 485.4L514.25 481.6L514.55 485L514.85 483.5L515.15 485.4L515.45 482.9L515.75 485.3L516.05 481.2L516.35 485.3L516.65 482.4L516.95 485.4L517.25 484.4L517.55 485.2L517.85 480.6L518.15 485L518.45 483.9L518.75 484.9L519.05 481.6L519.35 485.3L519.65 482.4L519.95 485L520.25 482L520.55 485.2L520.85 481.1L521.15 485.3L521.45 481.4L521.75 485.4L522.05 482.9L522.35 485.1L522.65 483.2L522.95 485L523.25 483.8L523.55 484.9L523.85 485.2L524.15 485.1L524.45 482.2L524.75 485.4L525.05 483.9L525.35 485L525.65 481.6L525.95 485.1L526.25 483.3L526.55 485L526.85 480.4L527.15 485.2L527.45 480.9L527.75 485.3L528.05 480.4L528.35 485.1L528.65 484.8L528.95 485L529.25 481.9L529.55 485.4L529.85 483.1L530.15 485.1L530.45 484.3L530.75 485L531.05 481.7L531.35 485.4L531.65 480.8L531.95 484.9L532.25 482.5L532.55 485.3L532.85 483.1L533.15 485.2L533.45 482.7L533.75 485.1L534.05 482.7L534.35 485.2L534.65 484.4L534.95 485.2L535.25 482.3L535.55 485.2L535.85 482.2L536.15 485.2L536.45 482.5L536.75 485L537.05 481.5L537.35 485.2L537.65 482.9L537.95 485.3L538.25 480L538.55 485.2L538.85 482.5L539.15 485.3L539.45 483.1L539.75 485.1L540.05 481.4L540.35 485.3L540.65 483.4L540.95 485.1L541.25 482.8L541.55 485.4L541.85 483.9L542.15 485.2L542.45 479.8L542.75 484.9L543.05 482.3L543.35 485L543.65 484L543.95 485.4L544.25 480.7L544.55 485.3L544.85 482.1L545.15 485.1L545.45 481L545.75 485.4L546.05 481.3L546.35 485L546.65 480.7L546.95 485.2L547.25 481.9L547.55 485L547.85 482.5L548.15 484.8L548.45 482.1L548.75 484.9L549.05 481.3L549.35 485.4L549.65 480.9L549.95 485L550.25 480.1L550.55 485.4L550.85 483.2L551.15 485L551.45 482.9L551.75 485.2L552.05 484.5L552.35 485.2L552.65 484.6L552.95 485.3L553.25 481.7L553.55 485L553.85 483.7L554.15 484.8L554.45 484.3L554.75 485.3L555.05 482.4L555.35 485.3L555.65 479.4L555.95 485.2L556.25 479.6L556.55 485L556.85 482.9L557.15 485.2L557.45 482.3L557.75 484.8L558.05 479.4L558.35 485.1L558.65 481.7L558.95 484.9L559.25 483.9L559.55 485.3L559.85 483.4L560.15 485.2L560.45 482.3L560.75 485.4L561.05 480.8L561.35 484.9L561.65 483.4L561.95 485.2L562.25 482.7L562.55 485.3L562.85 481.6L563.15 484.8L563.45 481.5L563.75 485.3L564.05 481.9L564.35 485.3L564.65 483.4L564.95 485.4L565.25 481.7L565.55 485.3L565.85 479.4L566.15 484.9L566.45 482.5L566.75 485.1L567.05 481.5L567.35 485.3L567.65 482.5L567.95 485.3L568.25 483.9L568.55 485.2L568.85 481.5L569.15 485L569.45 482.8L569.75 485.2L570.05 482.3L570.35 485.3L570.65 482.5L570.95 485.2L571.25 482.9L571.55 485.2L571.85 482.7L572.15 485L572.45 481.3L572.75 485.1L573.05 484.3L573.35 484.9L573.65 479.7L573.95 485L574.25 480.4L574.55 485.1L574.85 484.8L575.15 485L575.45 483.5L575.75 484.9L576.05 483.2L576.35 485.3L576.65 483.1L576.95 484.9L577.25 483.4L577.55 485.3L577.85 481L578.15 485.2L578.45 481.8L578.75 485.2L579.05 484.8L579.35 485.3L579.65 481L579.95 485L580.25 481L580.55 485.1L580.85 481.4L581.15 485L581.45 480.2L581.75 485.4L582.05 481.9L582.35 485.1L582.65 481.2L582.95 485.2L583.25 481.4L583.55 485.3L583.85 481L584.15 485.2L584.45 481.5L584.75 485.3L585.05 480.7L585.35 484.9L585.65 482.2L585.95 484.9L586.25 479.8L586.55 485L586.85 484.2L587.15 485.2L587.45 483L587.75 485L588.05 483.9L588.35 485L588.65 483.1L588.95 485.2L589.25 482L589.55 485.1L589.85 481.3L590.15 485L590.45 482.9L590.75 485L591.05 480.8L591.35 485.1L591.65 481L591.95 485L592.25 484.6L592.55 484.9L592.85 483.2L593.15 485.3L593.45 483.4L593.75 485L594.05 480.2L594.35 485L594.65 481.6L594.95 485.2L595.25 483.7L595.55 484.9L595.85 482.4L596.15 485.4L596.45 481.5L596.75 485.3L597.05 481.5L597.35 485.2L597.65 484L597.95 485.1L598.25 482.6L598.55 484.9L598.85 479.6L599.15 485.2L599.45 483.8L599.75 484.9L600.05 482L600.35 485.3L600.65 483.4L600.95 484.9L601.25 482.5L601.55 485.4L601.85 481.5L602.15 485L602.45 480.9L602.75 485L603.05 483.2L603.35 485.1L603.65 482.6L603.95 484.7L604.25 481.1L604.55 485.2L604.85 479.6L605.15 484.6L605.45 480.2L605.75 484.9L606.05 483.9L606.35 484.9L606.65 480.3L606.95 474.7L607.25 478.3L607.55 475.9L607.85 473.1L608.15 485.2L608.45 476.7L608.75 484.8L609.05 477.2L609.35 484.8L609.65 483.4L609.95 485.3L610.25 481.1L610.55 484.8L610.85 477.3L611.15 484.5L611.45 474.8L611.75 485L612.05 479.5L612.35 484.6L612.65 476.6L612.95 484.9L613.25 480.4L613.55 485.3L613.85 480.4L614.15 485.3L614.45 479.4L614.75 485.2L615.05 482L615.35 485.4L615.65 481L615.95 484.9L616.25 481.1L616.55 485.1L616.85 478.4L617.15 484.8L617.45 484.4L617.75 484.9L618.05 481.9L618.35 485.4L618.65 478.6L618.95 484.9L619.25 481.6L619.55 485L619.85 480.6L620.15 485L620.45 481.4L620.75 485.1L621.05 478.4L621.35 484.9L621.65 482.5L621.95 485.1L622.25 482.5L622.55 485L622.85 481.4L623.15 485.1L623.45 482.3L623.75 485.2L624.05 478.9L624.35 485.4L624.65 479.1L624.95 484.9L625.25 482.4L625.55 484.8L625.85 479.2L626.15 485L626.45 478.7L626.75 484.9L627.05 481.8L627.35 484.8L627.65 481.4L627.95 485.1L628.25 481.6L628.55 484.8L628.85 479.1L629.15 485.4L629.45 478.7L629.75 485.3L630.05 482.4L630.35 484.8L630.65 484.9L630.95 485.1L631.25 482.8L631.55 485.2L631.85 478.8L632.15 485.3L632.45 478.8L632.75 485L633.05 479.1L633.35 485.2L633.65 481.9L633.95 485.1L634.25 480.6L634.55 485.3" fill="none" stroke="#1f77b4" stroke-width="2.3" stroke-linejoin="round" stroke-linecap="butt"/>
<path d="M54.35 485.4v2.2M68.17 485.4v1.5M81.99 485.4v1.5M95.8 485.4v1.5M109.62 485.4v1.5M123.44 485.4v2.2M137.26 485.4v1.5M151.08 485.4v1.5M164.89 485.4v1.5M178.71 485.4v1.5M192.53 485.4v2.2M206.35 485.4v1.5M220.16 485.4v1.5M233.98 485.4v1.5M247.8 485.4v1.5M261.62 485.4v2.2M275.44 485.4v1.5M289.25 485.4v1.5M303.07 485.4v1.5M316.89 485.4v1.5M330.71 485.4v2.2M344.53 485.4v1.5M358.34 485.4v1.5M372.16 485.4v1.5M385.98 485.4v1.5M399.8 485.4v2.2M413.61 485.4v1.5M427.43 485.4v1.5M441.25 485.4v1.5M455.07 485.4v1.5M468.89 485.4v2.2M482.7 485.4v1.5M496.52 485.4v1.5M510.34 485.4v1.5M524.16 485.4v1.5M537.98 485.4v2.2M551.79 485.4v1.5M565.61 485.4v1.5M579.43 485.4v1.5M593.25 485.4v1.5M607.06 485.4v2.2M620.88 485.4v1.5M634.7 485.4v1.5M54.35 485.4h-2.2M54.35 457.23h-2.2M54.35 429.06h-2.2M54.35 400.89h-2.2M54.35 372.72h-2.2M54.35 344.55h-2.2M634.7 485.4h2.1M634.7 448.72h2.1M634.7 412.05h2.1M634.7 375.38h2.1M634.7 338.7h2.1" stroke="#000" stroke-width="0.6" fill="none"/>
<text x="49.35" y="489.35" font-size="10.4" text-anchor="end">0.00</text>
<text x="49.35" y="461.18" font-size="10.4" text-anchor="end">0.05</text>
<text x="49.35" y="433.01" font-size="10.4" text-anchor="end">0.10</text>
<text x="49.35" y="404.84" font-size="10.4" text-anchor="end">0.15</text>
<text x="49.35" y="376.67" font-size="10.4" text-anchor="end">0.20</text>
<text x="49.35" y="348.5" font-size="10.4" text-anchor="end">0.25</text>
<text x="638.8" y="490" font-size="10.4">0</text>
<text x="638.8" y="453.32" font-size="10.4">5</text>
<text x="638.8" y="416.65" font-size="10.4">10</text>
<text x="638.8" y="379.98" font-size="10.4">15</text>
<text x="638.8" y="343.3" font-size="10.4">20</text>
<path clip-path="url(#c2)" d="M54.35 372.4L55 478.8L55.65 481L56.3 485.4L56.95 485.4L57.6 485.4L58.25 485.4L58.9 485.4L59.55 485.4L60.2 485.4L60.85 485.4L61.5 485.4L62.15 485.4L62.8 485.4L63.45 485.4L64.1 481.7L64.75 485.4L65.4 485.4L66.05 485.4L66.7 485.4L67.35 485.4L68 485.4L68.65 485.4L69.3 485.4L69.95 485.4L70.6 485.4L71.25 485.4L71.9 485.4L72.55 485.4L73.2 485.4L73.85 485.4L74.5 485.4L75.15 485.4L75.8 485.4L76.45 485.4L77.1 485.4L77.75 485.4L78.4 485.4L79.05 485.4L79.7 485.4L80.35 485.4L81 485.4L81.65 485.4L82.3 485.4L82.95 485.4L83.6 485.4L84.25 485.4L84.9 483.6L85.55 485.4L86.2 485.4L86.85 485.4L87.5 485.4L88.15 485.4L88.8 485.4L89.45 485.4L90.1 485.4L90.75 485.4L91.4 485.4L92.05 485.4L92.7 485.4L93.35 485.4L94 485.4L94.65 485.4L95.3 485.4L95.95 485.4L96.6 485.4L97.25 485.4L97.9 485.4L98.55 485.4L99.2 485.4L99.85 485.4L100.5 485.4L101.15 485.4L101.8 485.4L102.45 485.4L103.1 485.4L103.75 485.4L104.4 485.4L105.05 485.4L105.7 485.4L106.35 485.4L107 485.4L107.65 485.4L108.3 485.4L108.95 485.4L109.6 485.4L110.25 485.4L110.9 485.4L111.55 485.4L112.2 485.4L112.85 485.4L113.5 485.4L114.15 485.4L114.8 485.4L115.45 485.4L116.1 485.4L116.75 485.4L117.4 485.4L118.05 485.4L118.7 485.4L119.35 485.4L120 485.4L120.65 485.4L121.3 485.4L121.95 485.4L122.6 485.4L123.25 485.4L123.9 485.4L124.55 485.4L125.2 485.4L125.85 485.4L126.5 485.4L127.15 485.4L127.8 485.4L128.45 485.4L129.1 485.4L129.75 485.4L130.4 485.4L131.05 485.4L131.7 485.4L132.35 485.4L133 485.4L133.65 485.4L134.3 485.4L134.95 485.4L135.6 485.4L136.25 485.4L136.9 485.4L137.55 485.4L138.2 485.4L138.85 485.4L139.5 485.4L140.15 485.4L140.8 485.4L141.45 485.4L142.1 485.4L142.75 485.4L143.4 485.4L144.05 485.4L144.7 485.4L145.35 485.4L146 485.4L146.65 485.4L147.3 485.4L147.95 485.4L148.6 485.4L149.25 485.4L149.9 485.4L150.55 485.4L151.2 485.4L151.85 485.4L152.5 485.4L153.15 485.4L153.8 485.4L154.45 485.4L155.1 485.4L155.75 485.4L156.4 485.4L157.05 485.4L157.7 485.4L158.35 485.4L159 485.4L159.65 485.4L160.3 485.4L160.95 485.4L161.6 485.4L162.25 485.4L162.9 485.4L163.55 485.4L164.2 485.4L164.85 485.4L165.5 485.4L166.15 485.4L166.8 485.4L167.45 485.4L168.1 485.4L168.75 485.4L169.4 485.4L170.05 485.4L170.7 485.4L171.35 485.4L172 485.4L172.65 485.4L173.3 485.4L173.95 485.4L174.6 485.4L175.25 485.4L175.9 485.4L176.55 485.4L177.2 485.4L177.85 485.4L178.5 485.4L179.15 485.4L179.8 485.4L180.45 485.4L181.1 485.4L181.75 485.4L182.4 485.4L183.05 485.4L183.7 485.4L184.35 485.4L185 485.4L185.65 485.4L186.3 485.4L186.95 485.4L187.6 485.4L188.25 485.4L188.9 485.4L189.55 485.4L190.2 485.4L190.85 485.4L191.5 485.4L192.15 485.4L192.8 485.4L193.45 485.4L194.1 485.4L194.75 485.4L195.4 485.4L196.05 485.4L196.7 485.4L197.35 485.4L198 485.4L198.65 485.4L199.3 485.4L199.95 485.4L200.6 485.4L201.25 485.4L201.9 485.4L202.55 485.4L203.2 485.4L203.85 485.4L204.5 485.4L205.15 485.4L205.8 485.4L206.45 485.4L207.1 485.4L207.75 485.4L208.4 485.4L209.05 485.4L209.7 485.4L210.35 485.4L211 485.4L211.65 485.4L212.3 485.4L212.95 485.4L213.6 485.4L214.25 485.4L214.9 485.4L215.55 485.4L216.2 485.4L216.85 485.4L217.5 485.4L218.15 485.4L218.8 485.4L219.45 485.4L220.1 485.4L220.75 485.4L221.4 485.4L222.05 485.4L222.7 485.4L223.35 485.4L224 485.4L224.65 485.4L225.3 485.4L225.95 485.4L226.6 485.4L227.25 485.4L227.9 485.4L228.55 485.4L229.2 485.4L229.85 485.4L230.5 485.4L231.15 485.4L231.8 485.4L232.45 485.4L233.1 485.4L233.75 485.4L234.4 485.4L235.05 485.4L235.7 485.4L236.35 485.4L237 485.4L237.65 485.4L238.3 485.4L238.95 485.4L239.6 485.4L240.25 485.4L240.9 485.4L241.55 485.4L242.2 485.4L242.85 485.4L243.5 485.4L244.15 485.4L244.8 485.4L245.45 485.4L246.1 485.4L246.75 485.4L247.4 485.4L248.05 485.4L248.7 485.4L249.35 485.4L250 485.4L250.65 485.4L251.3 485.4L251.95 485.4L252.6 485.4L253.25 485.4L253.9 485.4L254.55 485.4L255.2 485.4L255.85 485.4L256.5 485.4L257.15 485.4L257.8 485.4L258.45 485.4L259.1 485.4L259.75 485.4L260.4 485.4L261.05 485.4L261.7 485.4L262.35 485.4L263 485.4L263.65 485.4L264.3 485.4L264.95 485.4L265.6 485.4L266.25 485.4L266.9 485.4L267.55 485.4L268.2 485.4L268.85 485.4L269.5 485.4L270.15 485.4L270.8 485.4L271.45 485.4L272.1 485.4L272.75 485.4L273.4 485.4L274.05 485.4L274.7 485.4L275.35 485.4L276 485.4L276.65 485.4L277.3 485.4L277.95 485.4L278.6 485.4L279.25 485.4L279.9 485.4L280.55 485.4L281.2 485.4L281.85 485.4L282.5 485.4L283.15 485.4L283.8 485.4L284.45 485.4L285.1 485.4L285.75 485.4L286.4 485.4L287.05 485.4L287.7 485.4L288.35 485.4L289 485.4L289.65 485.4L290.3 485.4L290.95 485.4L291.6 485.4L292.25 485.4L292.9 485.4L293.55 485.4L294.2 485.4L294.85 485.4L295.5 485.4L296.15 485.4L296.8 485.4L297.45 485.4L298.1 485.4L298.75 485.4L299.4 485.4L300.05 485.4L300.7 485.4L301.35 485.4L302 485.4L302.65 485.4L303.3 485.4L303.95 485.4L304.6 485.4L305.25 485.4L305.9 485.4L306.55 485.4L307.2 485.4L307.85 485.4L308.5 485.4L309.15 485.4L309.8 485.4L310.45 485.4L311.1 483.8L311.75 485.4L312.4 485.4L313.05 485.4L313.7 485.4L314.35 485.4L315 485.4L315.65 485.4L316.3 485.4L316.95 485.4L317.6 485.4L318.25 485.4L318.9 485.4L319.55 485.4L320.2 485.4L320.85 485.4L321.5 485.4L322.15 485.4L322.8 485.4L323.45 485.4L324.1 485.4L324.75 485.4L325.4 485.4L326.05 485.4L326.7 485.4L327.35 485.4L328 485.4L328.65 485.4L329.3 485.4L329.95 485.4L330.6 484.3L331.25 481.7L331.9 485.4L332.55 485.4L333.2 485.4L333.85 485.4L334.5 485.4L335.15 485.4L335.8 485.4L336.45 485.4L337.1 485.4L337.75 485.4L338.4 485.4L339.05 485.4L339.7 485.4L340.35 485.4L341 485.4L341.65 485.4L342.3 485.4L342.95 485.4L343.6 485.4L344.25 485.4L344.9 485.4L345.55 485.4L346.2 485.4L346.85 485.4L347.5 485.4L348.15 485.4L348.8 485.4L349.45 485.4L350.1 485.4L350.75 485.4L351.4 485.4L352.05 485.4L352.7 485.4L353.35 485.4L354 485.4L354.65 485.4L355.3 485.4L355.95 485.4L356.6 485.4L357.25 485.4L357.9 485.4L358.55 485.4L359.2 485.4L359.85 485.4L360.5 485.4L361.15 485.4L361.8 485.4L362.45 485.4L363.1 485.4L363.75 485.4L364.4 485.4L365.05 485.4L365.7 485.4L366.35 485.4L367 485.4L367.65 485.4L368.3 485.4L368.95 485.4L369.6 485.4L370.25 485.4L370.9 485.4L371.55 485.4L372.2 485.4L372.85 485.4L373.5 485.4L374.15 485.4L374.8 485.4L375.45 485.4L376.1 485.4L376.75 485.4L377.4 485.4L378.05 485.4L378.7 485.4L379.35 485.4L380 485.4L380.65 485.4L381.3 485.4L381.95 485.4L382.6 485.4L383.25 485.4L383.9 485.4L384.55 485.4L385.2 485.4L385.85 485.4L386.5 485.4L387.15 485.4L387.8 485.4L388.45 485.4L389.1 485.4L389.75 485.4L390.4 485.4L391.05 485.4L391.7 485.4L392.35 485.4L393 485.4L393.65 485.4L394.3 485.4L394.95 485.4L395.6 485.4L396.25 485.4L396.9 485.4L397.55 485.4L398.2 485.4L398.85 485.4L399.5 485.4L400.15 485.4L400.8 485.4L401.45 485.4L402.1 485.4L402.75 485.4L403.4 485.4L404.05 485.4L404.7 485.4L405.35 485.4L406 485.4L406.65 485.4L407.3 485.4L407.95 485.4L408.6 485.4L409.25 485.4L409.9 485.4L410.55 485.4L411.2 485.4L411.85 485.4L412.5 485.4L413.15 485.4L413.8 485.4L414.45 485.4L415.1 485.4L415.75 485.4L416.4 485.4L417.05 485.4L417.7 485.4L418.35 485.4L419 485.4L419.65 485.4L420.3 485.4L420.95 485.4L421.6 485.4L422.25 485.4L422.9 485.4L423.55 485.4L424.2 485.4L424.85 485.4L425.5 485.4L426.15 485.4L426.8 485.4L427.45 485.4L428.1 485.4L428.75 485.4L429.4 485.4L430.05 485.4L430.7 485.4L431.35 485.4L432 485.4L432.65 485.4L433.3 485.4L433.95 485.4L434.6 485.4L435.25 485.4L435.9 485.4L436.55 485.4L437.2 485.4L437.85 485.4L438.5 485.4L439.15 485.4L439.8 485.4L440.45 485.4L441.1 485.4L441.75 485.4L442.4 485.4L443.05 485.4L443.7 485.4L444.35 485.4L445 485.4L445.65 485.4L446.3 485.4L446.95 485.4L447.6 485.4L448.25 485.4L448.9 485.4L449.55 485.4L450.2 485.4L450.85 485.4L451.5 485.4L452.15 485.4L452.8 485.4L453.45 485.4L454.1 485.4L454.75 485.4L455.4 485.4L456.05 485.4L456.7 485.4L457.35 485.4L458 485.4L458.65 485.4L459.3 485.4L459.95 485.4L460.6 485.4L461.25 485.4L461.9 485.4L462.55 485.4L463.2 485.4L463.85 485.4L464.5 485.4L465.15 485.4L465.8 485.4L466.45 485.4L467.1 485.4L467.75 485.4L468.4 485.4L469.05 485.4L469.7 485.4L470.35 485.4L471 485.4L471.65 485.4L472.3 485.4L472.95 485.4L473.6 485.4L474.25 485.4L474.9 485.4L475.55 485.4L476.2 485.4L476.85 485.4L477.5 485.4L478.15 485.4L478.8 485.4L479.45 485.4L480.1 485.4L480.75 485.4L481.4 485.4L482.05 485.4L482.7 485.4L483.35 485.4L484 485.4L484.65 485.4L485.3 485.4L485.95 485.4L486.6 485.4L487.25 485.4L487.9 485.4L488.55 485.4L489.2 485.4L489.85 485.4L490.5 485.4L491.15 485.4L491.8 485.4L492.45 485.4L493.1 485.4L493.75 485.4L494.4 485.4L495.05 485.4L495.7 485.4L496.35 485.4L497 485.4L497.65 485.4L498.3 485.4L498.95 485.4L499.6 485.4L500.25 485.4L500.9 485.4L501.55 485.4L502.2 485.4L502.85 485.4L503.5 485.4L504.15 485.4L504.8 485.4L505.45 485.4L506.1 485.4L506.75 485.4L507.4 485.4L508.05 485.4L508.7 485.4L509.35 485.4L510 485.4L510.65 485.4L511.3 485.4L511.95 485.4L512.6 485.4L513.25 485.4L513.9 485.4L514.55 485.4L515.2 485.4L515.85 485.4L516.5 485.4L517.15 485.4L517.8 485.4L518.45 485.4L519.1 485.4L519.75 485.4L520.4 485.4L521.05 485.4L521.7 485.4L522.35 485.4L523 485.4L523.65 485.4L524.3 485.4L524.95 485.4L525.6 485.4L526.25 485.4L526.9 485.4L527.55 485.4L528.2 485.4L528.85 485.4L529.5 485.4L530.15 485.4L530.8 485.4L531.45 485.4L532.1 485.4L532.75 485.4L533.4 485.4L534.05 485.4L534.7 485.4L535.35 485.4L536 485.4L536.65 485.4L537.3 485.4L537.95 485.4L538.6 485.4L539.25 485.4L539.9 485.4L540.55 485.4L541.2 485.4L541.85 485.4L542.5 485.4L543.15 485.4L543.8 485.4L544.45 485.4L545.1 485.4L545.75 485.4L546.4 485.4L547.05 485.4L547.7 485.4L548.35 485.4L549 485.4L549.65 485.4L550.3 485.4L550.95 485.4L551.6 485.4L552.25 485.4L552.9 485.4L553.55 485.4L554.2 485.4L554.85 485.4L555.5 485.4L556.15 485.4L556.8 485.4L557.45 485.4L558.1 485.4L558.75 485.4L559.4 485.4L560.05 485.4L560.7 485.4L561.35 485.4L562 485.4L562.65 485.4L563.3 485.4L563.95 485.4L564.6 485.4L565.25 485.4L565.9 484.9L566.55 484.6L567.2 485.1L567.85 484.8L568.5 483.2L569.15 485.1L569.8 481.7L570.45 484.7L571.1 485.1L571.75 484.7L572.4 484.8L573.05 485.1L573.7 484.6L574.35 484.9L575 485L575.65 484.6L576.3 485L576.95 484.9L577.6 484.6L578.25 485.1L578.9 484.8L579.55 481.7L580.2 485.1L580.85 484.8L581.5 484.7L582.15 485.1L582.8 484.7L583.45 484.8L584.1 485.1L584.75 484.6L585.4 484.9L586.05 485L586.7 484.6L587.35 485L588 485L588.65 484.6L589.3 485L589.95 484.9L590.6 484.6L591.25 485.1L591.9 484.8L592.55 484.7L593.2 485.1L593.85 484.7L594.5 484.8L595.15 485.1L595.8 484.6L596.45 484.9L597.1 485.1L597.75 484.6L598.4 482.8L599.05 485L599.7 484.6L600.35 485L601 484.9L601.65 484.6L602.3 485.1L602.95 484.8L603.6 484.7L604.25 485.1L604.9 484.7L605.55 484.7L606.2 485.1L606.85 484.7L607.5 484.8L608.15 485.1L608.8 484.6L609.45 484.9L610.1 485L610.75 484.6L611.4 485L612.05 484.9L612.7 484.6L613.35 485.1L614 484.8L614.65 484.6L615.3 485.1L615.95 484.8L616.6 484.7L617.25 485.1L617.9 484.7L618.55 484.8L619.2 485.1L619.85 484.6L620.5 484.9L621.15 485.4L621.8 485.4L622.45 485.4L623.1 485.4L623.75 485.4L624.4 485.4L625.05 485.4L625.7 485.4L626.35 485.4L627 485.4L627.65 485.4L628.3 485.4L628.95 485.4L629.6 485.4L630.25 485.4L630.9 485.4L631.55 485.4L632.2 485.4L632.85 485.4L633.5 485.4L634.15 485.4" fill="none" stroke="#ff7f0e" stroke-width="1.2" stroke-dasharray="1.2 1.97" stroke-dashoffset="0.00" stroke-linejoin="round"/>
<path clip-path="url(#c2)" d="M577.62 485.1L578.32 466.3L579.02 485.1" fill="none" stroke="#ff7f0e" stroke-width="1.2" stroke-dasharray="1.2 1.97" stroke-dashoffset="0.84" stroke-linejoin="round"/>
<path clip-path="url(#c2)" d="M587.65 485.1L588.35 355.2L589.05 485.1" fill="none" stroke="#ff7f0e" stroke-width="1.2" stroke-dasharray="1.2 1.97" stroke-dashoffset="1.46" stroke-linejoin="round"/>
<path clip-path="url(#c2)" d="M606.36 485.1L607.06 429.3L607.76 485.1" fill="none" stroke="#ff7f0e" stroke-width="1.2" stroke-dasharray="1.2 1.97" stroke-dashoffset="1.84" stroke-linejoin="round"/>
<path clip-path="url(#c2)" d="M607.88 485.1L608.58 470.4L609.28 485.1" fill="none" stroke="#ff7f0e" stroke-width="1.2" stroke-dasharray="1.2 1.97" stroke-dashoffset="1.70" stroke-linejoin="round"/>
<path clip-path="url(#c2)" d="M73.88 485.1L74.58 476.6L75.28 485.1" fill="none" stroke="#ff7f0e" stroke-width="1.2" stroke-dasharray="1.2 1.97" stroke-dashoffset="1.58" stroke-linejoin="round"/>
<rect x="54.35" y="338.7" width="580.35" height="146.7" fill="none" stroke="#000" stroke-width="0.6"/>
<text x="65.4" y="360.6" font-size="13.2">c)<tspan dx="14.6">PUYO (EZ)</tspan></text>
</g>
<g id="panel3">
<path clip-path="url(#c3)" d="M54.35 482.3L54.65 644L54.95 482.3L55.25 609L55.55 482.3L55.85 644L56.15 482.3L56.45 589L56.75 631.1L57.05 610L57.35 642.7L57.65 609.8L57.95 643.2L58.25 579.6L58.55 643.9L58.85 582L59.15 643.7L59.45 607L59.75 644.1L60.05 614.4L60.35 643.2L60.65 594L60.95 644L61.25 596.4L61.55 643.2L61.85 624.8L62.15 643.7L62.45 628.2L62.75 643.7L63.05 627.9L63.35 619.7L63.65 627L63.95 622.6L64.25 638.5L64.55 644.2L64.85 618.2L65.15 643.9L65.45 634.7L65.75 609.9L66.05 630.6L66.35 611.2L66.65 630.2L66.95 644L67.25 639.4L67.55 644.4L67.85 631.6L68.15 644L68.45 622.1L68.75 644.1L69.05 623.8L69.35 648.5L69.65 627.5L69.95 641L70.25 633.2L70.55 641.1L70.85 637.7L71.15 623.9L71.45 631.6L71.75 624.7L72.05 630.8L72.35 641.1L72.65 632.3L72.95 641.7L73.25 634.3L73.55 626.7L73.85 638.4L74.15 643.7L74.45 634.9L74.75 643.5L75.05 626.6L75.35 643.4L75.65 638.6L75.95 621.6L76.25 629.7L76.55 623.5L76.85 629.3L77.15 645.8L77.45 625.8L77.75 645.9L78.05 641.4L78.35 645.8L78.65 634.8L78.95 646L79.25 635.4L79.55 643.6L79.85 638.5L80.15 643.6L80.45 632.6L80.75 643.6L81.05 633.5L81.35 643.6L81.65 636.4L81.95 642.8L82.25 627.4L82.55 642.9L82.85 620.9L83.15 642.4L83.45 622.8L83.75 645.9L84.05 634L84.35 629.1L84.65 639.6L84.95 643.5L85.25 627.5L85.55 643.4L85.85 630.2L86.15 621.6L86.45 635.6L86.75 624.3L87.05 628.2L87.35 643.1L87.65 637.6L87.95 644L88.25 639.9L88.55 636L88.85 640.2L89.15 636.7L89.45 639L89.75 645.8L90.05 642.7L90.35 645.9L90.65 638L90.95 633.8L91.25 639.8L91.55 634.6L91.85 641.2L92.15 645.7L92.45 634.1L92.75 645.8L93.05 639L93.35 625.6L93.65 637.4L93.95 627.7L94.25 636.5L94.55 641.3L94.85 639.1L95.15 643.6L95.45 638.5L95.75 634.6L96.05 641L96.35 635.7L96.65 635.4L96.95 646.1L97.25 636L97.55 647.9L97.85 637.7L98.15 632.6L98.45 637.9L98.75 633.7L99.05 636.6L99.35 642.2L99.65 640.9L99.95 641.5L100.25 630.8L100.55 626.3L100.85 637.7L101.15 628.1L101.45 639.6L101.75 648.7L102.05 643.2L102.35 648.4L102.65 639.6L102.95 648.9L103.25 636.6L103.55 648.7L103.85 637.2L104.15 647.7L104.45 639.3L104.75 648.7L105.05 640.3L105.35 647.9L105.65 641.9L105.95 647.8L106.25 640.2L106.55 634.9L106.85 643.1L107.15 636L107.45 643.6L107.75 648.8L108.05 639.4L108.35 648.1L108.65 640.9L108.95 648.3L109.25 639.6L109.55 647.9L109.85 640.7L110.15 637.3L110.45 640.7L110.75 638.1L111.05 644L111.35 648.9L111.65 640.2L111.95 649L112.25 642.6L112.55 648.7L112.85 641.3L113.15 648.5L113.45 632.6L113.75 647.4L114.05 633.3L114.35 648.4L114.65 641.6L114.95 648.8L115.25 643.3L115.55 648.6L115.85 642.6L116.15 639.1L116.45 644.6L116.75 648.4L117.05 645.2L117.35 648.3L117.65 643.4L117.95 647.9L118.25 643.7L118.55 638.9L118.85 645.2L119.15 647.9L119.45 643.6L119.75 648.4L120.05 642.5L120.35 648.8L120.65 640.7L120.95 648.9L121.25 640.7L121.55 648.3L121.85 641.4L122.15 648.4L122.45 635.4L122.75 647.3L123.05 640L123.35 648.6L123.65 638.7L123.95 632.6L124.25 639.1L124.55 634L124.85 641.8L125.15 647.2L125.45 641.3L125.75 648.4L126.05 640.9L126.35 648.1L126.65 640.2L126.95 648.1L127.25 640.7L127.55 648.3L127.85 645.3L128.15 648.8L128.45 644.4L128.75 648.4L129.05 640.5L129.35 638.9L129.65 645L129.95 639.6L130.25 641.5L130.55 648.8L130.85 644.2L131.15 648.7L131.45 642.5L131.75 641.3L132.05 642.4L132.35 641.5L132.65 645.7L132.95 649L133.25 643.4L133.55 648.7L133.85 645.5L134.15 640.3L134.45 643L134.75 640.8L135.05 643.8L135.35 648.1L135.65 643L135.95 647.8L136.25 644L136.55 648.8L136.85 639.7L137.15 638L137.45 644.1L137.75 638.9L138.05 642.9L138.35 647.8L138.65 642.3L138.95 648.5L139.25 641.8L139.55 649L139.85 643.7L140.15 634.9L140.45 642.2L140.75 635.4L141.05 640.2L141.35 647.5L141.65 643.3L141.95 648.7L142.25 643.7L142.55 648.8L142.85 644.7L143.15 640.8L143.45 643.5L143.75 640.9L144.05 642.6L144.35 648.4L144.65 644.4L144.95 647.9L145.25 642.3L145.55 648.8L145.85 641.2L146.15 648.1L146.45 641.6L146.75 648.2L147.05 644.1L147.35 648.8L147.65 643.5L147.95 648.4L148.25 644L148.55 639.6L148.85 643.8L149.15 648.1L149.45 642.4L149.75 647.9L150.05 644L150.35 648.3L150.65 645.3L150.95 649L151.25 641.4L151.55 640.5L151.85 641.3L152.15 640.9L152.45 643.7L152.75 648.5L153.05 645.1L153.35 648.8L153.65 644.9L153.95 648.6L154.25 643.6L154.55 648.4L154.85 644L155.15 648.4L155.45 646.6L155.75 648.6L156.05 646.2L156.35 648.5L156.65 645.7L156.95 648.6L157.25 643.1L157.55 648.3L157.85 643.4L158.15 648.8L158.45 645.6L158.75 647.8L159.05 641.8L159.35 648.4L159.65 640.8L159.95 648.6L160.25 637.3L160.55 648.8L160.85 637.6L161.15 647.6L161.45 642.7L161.75 648.7L162.05 639.1L162.35 648.2L162.65 643.6L162.95 648.6L163.25 642.2L163.55 648.8L163.85 644.4L164.15 648.7L164.45 645.6L164.75 648.3L165.05 643.7L165.35 648.6L165.65 641.9L165.95 648.5L166.25 642.5L166.55 648.2L166.85 643.6L167.15 648.8L167.45 644.6L167.75 648.6L168.05 642.7L168.35 648.2L168.65 643L168.95 648.4L169.25 639L169.55 648.5L169.85 640.8L170.15 648.8L170.45 639.9L170.75 637.3L171.05 641.2L171.35 638.3L171.65 643L171.95 648.6L172.25 643.1L172.55 647.9L172.85 645.1L173.15 648.4L173.45 645.7L173.75 643L174.05 645.5L174.35 643.3L174.65 644.3L174.95 648.6L175.25 644.8L175.55 648.3L175.85 646.1L176.15 642.6L176.45 644.1L176.75 643.2L177.05 645.9L177.35 648.7L177.65 642.9L177.95 648.3L178.25 645.4L178.55 641.9L178.85 645.1L179.15 642.1L179.45 645L179.75 648.1L180.05 645.9L180.35 648.5L180.65 642.3L180.95 640.8L181.25 642L181.55 648.7L181.85 643.1L182.15 648.4L182.45 642.7L182.75 648.1L183.05 642L183.35 648.9L183.65 642.3L183.95 648.4L184.25 643.7L184.55 648.5L184.85 646.1L185.15 648.5L185.45 643.3L185.75 648.9L186.05 644.7L186.35 648.7L186.65 646L186.95 648.4L187.25 643.5L187.55 648.2L187.85 641.9L188.15 648.4L188.45 642.6L188.75 648.6L189.05 644.1L189.35 648.4L189.65 644.1L189.95 648.7L190.25 642.9L190.55 648.7L190.85 645.6L191.15 648.8L191.45 644.1L191.75 648L192.05 645.2L192.35 641.6L192.65 644.4L192.95 642.3L193.25 645.1L193.55 648.2L193.85 643.2L194.15 648.5L194.45 642L194.75 640.3L195.05 643.3L195.35 648.8L195.65 644.7L195.95 648.9L196.25 643.6L196.55 648.9L196.85 644.5L197.15 641.6L197.45 644L197.75 642.1L198.05 642.3L198.35 648.3L198.65 644.9L198.95 648.6L199.25 644.1L199.55 642.2L199.85 644.2L200.15 648.2L200.45 643.8L200.75 648.6L201.05 645L201.35 648.6L201.65 644.1L201.95 642L202.25 645.3L202.55 648.6L202.85 643.4L203.15 648.8L203.45 644.1L203.75 648.2L204.05 641.9L204.35 648.4L204.65 643.7L204.95 648.5L205.25 646.1L205.55 649L205.85 645.9L206.15 648.9L206.45 642.2L206.75 648.9L207.05 642.8L207.35 648.5L207.65 645.3L207.95 648.4L208.25 645.9L208.55 648.8L208.85 643.1L209.15 648.9L209.45 643.3L209.75 648.6L210.05 646.5L210.35 648.8L210.65 645.7L210.95 648.9L211.25 645.8L211.55 648.8L211.85 645.3L212.15 648.4L212.45 646.2L212.75 648.5L213.05 645.1L213.35 648.6L213.65 640.6L213.95 648.9L214.25 645.3L214.55 648.8L214.85 644.2L215.15 648.9L215.45 648.2L215.75 648.7L216.05 642.7L216.35 648.4L216.65 646.3L216.95 648.6L217.25 645.9L217.55 649L217.85 648.1L218.15 648.3L218.45 646.8L218.75 648.8L219.05 644.9L219.35 648.9L219.65 646.2L219.95 648.4L220.25 647L220.55 648.9L220.85 644.5L221.15 648.6L221.45 645.7L221.75 649L222.05 645.9L222.35 648.5L222.65 647.6L222.95 648.6L223.25 646.5L223.55 648.9L223.85 647.9L224.15 648.6L224.45 643.6L224.75 648.7L225.05 643.6L225.35 648.4L225.65 640.4L225.95 649L226.25 643.4L226.55 648.4L226.85 648.4L227.15 648.9L227.45 643.1L227.75 648.2L228.05 645.9L228.35 648.9L228.65 645.3L228.95 648.4L229.25 644.5L229.55 648.6L229.85 642.2L230.15 648.7L230.45 642.8L230.75 648.2L231.05 644.1L231.35 648.3L231.65 646.6L231.95 648.7L232.25 645.1L232.55 648.6L232.85 643.2L233.15 648.9L233.45 646.1L233.75 648.2L234.05 643.2L234.35 648.3L234.65 645.7L234.95 648.3L235.25 644.2L235.55 648.3L235.85 647.5L236.15 648.3L236.45 647.3L236.75 648.6L237.05 645.4L237.35 648.3L237.65 645.8L237.95 648.4L238.25 647.5L238.55 649L238.85 642.3L239.15 648.7L239.45 644.1L239.75 648.5L240.05 646.4L240.35 648.6L240.65 647.5L240.95 649L241.25 645.7L241.55 649L241.85 645.1L242.15 648.6L242.45 646.3L242.75 648.5L243.05 647.5L243.35 648.6L243.65 644.8L243.95 648.8L244.25 647.4L244.55 648.5L244.85 643L245.15 648.6L245.45 648.9L245.75 648.4L246.05 647.7L246.35 649L246.65 646.8L246.95 648.7L247.25 643.9L247.55 648.7L247.85 643.9L248.15 648.6L248.45 642.4L248.75 648.6L249.05 642.7L249.35 648.7L249.65 648.4L249.95 648.8L250.25 648L250.55 648.6L250.85 645.3L251.15 648.7L251.45 644.2L251.75 648.7L252.05 646.8L252.35 648.7L252.65 643.4L252.95 648.5L253.25 643.2L253.55 648.9L253.85 642.9L254.15 649L254.45 647.5L254.75 648.8L255.05 648.2L255.35 648.4L255.65 642.7L255.95 648.9L256.25 647.4L256.55 648.4L256.85 645.9L257.15 648.8L257.45 644.6L257.75 648.7L258.05 644.4L258.35 648.6L258.65 642.9L258.95 648.9L259.25 646.9L259.55 648.5L259.85 645.2L260.15 648.6L260.45 645L260.75 648.9L261.05 646.8L261.35 648.6L261.65 646.7L261.95 648.6L262.25 643.8L262.55 648.4L262.85 646.2L263.15 648.6L263.45 646.8L263.75 648.5L264.05 645.6L264.35 648.4L264.65 643.3L264.95 648.4L265.25 647L265.55 648.5L265.85 644.7L266.15 648.8L266.45 642.9L266.75 649L267.05 646.8L267.35 648.7L267.65 646.7L267.95 648.5L268.25 645.1L268.55 648.7L268.85 647.1L269.15 648.4L269.45 642.9L269.75 648.8L270.05 642.9L270.35 648.5L270.65 646.5L270.95 648.8L271.25 647.2L271.55 649L271.85 646.7L272.15 648.6L272.45 644.8L272.75 648.8L273.05 648.4L273.35 648.8L273.65 644.5L273.95 648.4L274.25 647L274.55 648.8L274.85 647.1L275.15 648.8L275.45 647.2L275.75 648.8L276.05 644.2L276.35 648.9L276.65 646.6L276.95 648.9L277.25 647.1L277.55 648.9L277.85 643.7L278.15 648.7L278.45 643.7L278.75 648.5L279.05 646.2L279.35 648.6L279.65 644.9L279.95 648.8L280.25 645.9L280.55 648.9L280.85 643.1L281.15 648.6L281.45 647.4L281.75 648.7L282.05 646L282.35 648.8L282.65 646.7L282.95 648.4L283.25 646.5L283.55 648.6L283.85 644L284.15 648.5L284.45 645L284.75 648.6L285.05 648L285.35 648.7L285.65 644.3L285.95 648.5L286.25 645.7L286.55 648.9L286.85 646.3L287.15 648.6L287.45 646L287.75 648.9L288.05 644.5L288.35 648.6L288.65 648.7L288.95 648.6L289.25 646.7L289.55 648.4L289.85 646.9L290.15 648.7L290.45 645.2L290.75 648.6L291.05 643.2L291.35 648.5L291.65 646.7L291.95 648.4L292.25 645.7L292.55 648.4L292.85 642.5L293.15 648.6L293.45 646.8L293.75 648.9L294.05 645.1L294.35 648.9L294.65 643.9L294.95 649L295.25 642.4L295.55 648.9L295.85 642.5L296.15 648.4L296.45 648.5L296.75 648.6L297.05 645.4L297.35 648.6L297.65 642.4L297.95 649L298.25 646.8L298.55 648.7L298.85 647.5L299.15 648.5L299.45 647.4L299.75 648.5L300.05 644.7L300.35 648.7L300.65 645.6L300.95 648.8L301.25 643.5L301.55 649L301.85 642.7L302.15 648.9L302.45 642.3L302.75 648.5L303.05 646.1L303.35 648.7L303.65 647.5L303.95 648.4L304.25 647.7L304.55 649L304.85 645.4L305.15 648.6L305.45 642.4L305.75 649L306.05 643.6L306.35 648.6L306.65 644.5L306.95 648.6L307.25 647.8L307.55 648.9L307.85 647.4L308.15 648.8L308.45 647.1L308.75 648.6L309.05 642.4L309.35 648.5L309.65 648.8L309.95 648.5L310.25 646.8L310.55 648.8L310.85 644.8L311.15 649L311.45 647.5L311.75 648.6L312.05 648.5L312.35 648.6L312.65 645L312.95 648.8L313.25 642.4L313.55 648.6L313.85 645.3L314.15 648.7L314.45 644.9L314.75 648.8L315.05 645L315.35 648.9L315.65 644.9L315.95 648.8L316.25 647.2L316.55 648.7L316.85 644.3L317.15 649L317.45 643.8L317.75 648.4L318.05 642.2L318.35 648.4L318.65 647.3L318.95 648.9L319.25 647.3L319.55 648.6L319.85 647.9L320.15 648.9L320.45 643.5L320.75 648.4L321.05 646.1L321.35 648.3L321.65 641.7L321.95 648.3L322.25 636.8L322.55 648.8L322.85 637.7L323.15 648.8L323.45 636.6L323.75 648.2L324.05 637.1L324.35 648.7L324.65 638.4L324.95 648.1L325.25 636L325.55 648.9L325.85 636.4L326.15 648.2L326.45 644.6L326.75 648.3L327.05 641.8L327.35 648.5L327.65 645.7L327.95 647.9L328.25 638.1L328.55 647.9L328.85 645.1L329.15 648.7L329.45 635.2L329.75 648.2L330.05 636.6L330.35 617.2L330.65 586.3L330.95 620.4L331.25 636.7L331.55 648L331.85 636.8L332.15 647.9L332.45 640.3L332.75 648.8L333.05 648.5L333.35 648.2L333.65 639.5L333.95 648.6L334.25 645.2L334.55 648L334.85 636.1L335.15 648L335.45 636.1L335.75 648.5L336.05 637.4L336.35 649L336.65 638.6L336.95 648.6L337.25 642.7L337.55 648.2L337.85 638.6L338.15 648.4L338.45 644.5L338.75 649L339.05 645.8L339.35 648.9L339.65 647.1L339.95 648.7L340.25 643.5L340.55 648.3L340.85 647.8L341.15 648.6L341.45 647.8L341.75 648.6L342.05 648.2L342.35 648.4L342.65 641.8L342.95 648.8L343.25 646.6L343.55 648.9L343.85 646.7L344.15 648.8L344.45 645.5L344.75 648.4L345.05 646.6L345.35 648.6L345.65 644L345.95 648.8L346.25 646L346.55 648.4L346.85 643.9L347.15 648.7L347.45 645.5L347.75 648.4L348.05 647L348.35 648.7L348.65 647.2L348.95 648.5L349.25 647L349.55 648.7L349.85 645.3L350.15 648.7L350.45 648.2L350.75 648.9L351.05 645.8L351.35 648.9L351.65 643.9L351.95 648.5L352.25 643.5L352.55 648.4L352.85 647.2L353.15 648.7L353.45 644.6L353.75 648.5L354.05 645.7L354.35 648.9L354.65 647.2L354.95 648.4L355.25 645L355.55 648.7L355.85 643.4L356.15 648.6L356.45 645.7L356.75 648.8L357.05 647.6L357.35 648.4L357.65 645.9L357.95 648.7L358.25 645.9L358.55 648.7L358.85 645.4L359.15 648.4L359.45 645.5L359.75 648.7L360.05 643.7L360.35 648.4L360.65 647.7L360.95 648.8L361.25 647.6L361.55 649L361.85 647.3L362.15 648.7L362.45 646.1L362.75 648.8L363.05 645.1L363.35 648.5L363.65 646.4L363.95 648.5L364.25 647.1L364.55 648.6L364.85 645.3L365.15 648.4L365.45 641.7L365.75 648.8L366.05 641.7L366.35 648.4L366.65 643.9L366.95 648.6L367.25 645.1L367.55 648.8L367.85 647.5L368.15 648.7L368.45 645.7L368.75 648.5L369.05 646.8L369.35 648.6L369.65 647.3L369.95 648.4L370.25 647L370.55 648.9L370.85 644.9L371.15 648.3L371.45 642.2L371.75 648.5L372.05 645L372.35 649L372.65 642.1L372.95 648.9L373.25 643L373.55 648.5L373.85 644.4L374.15 648.9L374.45 644.6L374.75 649L375.05 644.2L375.35 648.9L375.65 646.6L375.95 648.5L376.25 642.7L376.55 648.4L376.85 643.9L377.15 648.7L377.45 644.4L377.75 648.7L378.05 645L378.35 648.7L378.65 644.9L378.95 648.5L379.25 641.3L379.55 648.7L379.85 643.9L380.15 648.5L380.45 644.4L380.75 648.4L381.05 647.3L381.35 648.7L381.65 643.9L381.95 648.3L382.25 641.3L382.55 648.4L382.85 647.3L383.15 648.3L383.45 646.9L383.75 648.9L384.05 646.8L384.35 648.9L384.65 644.5L384.95 648.4L385.25 646.4L385.55 648.6L385.85 641.3L386.15 648.5L386.45 645.7L386.75 649L387.05 646.4L387.35 648.5L387.65 641.4L387.95 648.5L388.25 645.5L388.55 648.6L388.85 646.6L389.15 648.4L389.45 647.2L389.75 648.5L390.05 646.3L390.35 648.3L390.65 642.5L390.95 648.4L391.25 646.9L391.55 648.7L391.85 645.2L392.15 648.8L392.45 644.8L392.75 648.3L393.05 641.6L393.35 648.8L393.65 646.1L393.95 648.6L394.25 643.6L394.55 648.9L394.85 648.8L395.15 648.9L395.45 645.7L395.75 648.5L396.05 644L396.35 648.3L396.65 641.8L396.95 648.7L397.25 643.5L397.55 648.5L397.85 647.5L398.15 648.9L398.45 646.8L398.75 648.4L399.05 647L399.35 648.9L399.65 643.6L399.95 648.7L400.25 644.2L400.55 648.9L400.85 643.9L401.15 648.4L401.45 646.6L401.75 648.5L402.05 643.8L402.35 648.6L402.65 646.6L402.95 648.8L403.25 646.5L403.55 648.4L403.85 646.9L404.15 648.9L404.45 646.8L404.75 648.7L405.05 644.9L405.35 648.6L405.65 644.1L405.95 648.8L406.25 643.4L406.55 648.5L406.85 645.8L407.15 648.8L407.45 642.4L407.75 648.4L408.05 642.4L408.35 648.5L408.65 647.7L408.95 648.4L409.25 642.4L409.55 648.8L409.85 642.4L410.15 648.4L410.45 645.2L410.75 648.4L411.05 645.2L411.35 648.7L411.65 647.1L411.95 648.8L412.25 642.5L412.55 649L412.85 645.7L413.15 648.4L413.45 647L413.75 648.9L414.05 646.3L414.35 648.8L414.65 644.5L414.95 648.7L415.25 647L415.55 648.9L415.85 648L416.15 648.4L416.45 646L416.75 648.6L417.05 643L417.35 648.7L417.65 647.8L417.95 648.9L418.25 644.1L418.55 649L418.85 647.4L419.15 648.9L419.45 646L419.75 648.8L420.05 647.2L420.35 648.6L420.65 647.3L420.95 648.9L421.25 643.1L421.55 648.7L421.85 644.1L422.15 648.8L422.45 646.9L422.75 648.6L423.05 646.6L423.35 648.5L423.65 645.3L423.95 649L424.25 645.2L424.55 648.4L424.85 644.8L425.15 648.9L425.45 647.3L425.75 649L426.05 645.6L426.35 648.9L426.65 645L426.95 648.8L427.25 642.7L427.55 648.6L427.85 648.6L428.15 648.9L428.45 645.8L428.75 648.5L429.05 642.9L429.35 648.5L429.65 646.8L429.95 648.8L430.25 647.1L430.55 648.9L430.85 643.1L431.15 649L431.45 647.9L431.75 649L432.05 643.8L432.35 648.5L432.65 643L432.95 648.7L433.25 644.6L433.55 648.9L433.85 642.6L434.15 648.8L434.45 644.2L434.75 648.4L435.05 646.8L435.35 648.6L435.65 644.1L435.95 648.7L436.25 646.9L436.55 648.7L436.85 646.1L437.15 648.9L437.45 644.9L437.75 649L438.05 644.1L438.35 648.8L438.65 646.5L438.95 648.5L439.25 644L439.55 648.5L439.85 645.6L440.15 648.9L440.45 643.6L440.75 648.7L441.05 646.2L441.35 648.6L441.65 645.1L441.95 648.5L442.25 646.5L442.55 648.8L442.85 646L443.15 649L443.45 646.2L443.75 648.5L444.05 647.3L444.35 648.9L444.65 647.3L444.95 648.7L445.25 642.5L445.55 648.9L445.85 645.1L446.15 649L446.45 646.7L446.75 648.6L447.05 645L447.35 648.6L447.65 643.7L447.95 648.9L448.25 648.3L448.55 648.8L448.85 643.4L449.15 648.8L449.45 643.9L449.75 649L450.05 646.3L450.35 648.9L450.65 648.3L450.95 648.6L451.25 646.9L451.55 648.5L451.85 646L452.15 648.8L452.45 644.3L452.75 648.9L453.05 645.8L453.35 648.6L453.65 643.4L453.95 648.6L454.25 643.8L454.55 648.5L454.85 645.9L455.15 648.7L455.45 645.1L455.75 648.6L456.05 647.8L456.35 648.6L456.65 644.6L456.95 648.8L457.25 645.7L457.55 648.5L457.85 644L458.15 648.5L458.45 646.4L458.75 648.6L459.05 646.4L459.35 648.4L459.65 646.9L459.95 648.7L460.25 645.4L460.55 648.6L460.85 648.7L461.15 648.9L461.45 645.6L461.75 648.6L462.05 647.3L462.35 648.6L462.65 644.2L462.95 648.8L463.25 643L463.55 649L463.85 647.6L464.15 648.8L464.45 646L464.75 649L465.05 645.3L465.35 648.7L465.65 647.4L465.95 648.6L466.25 645.7L466.55 648.5L466.85 643.2L467.15 648.7L467.45 644.7L467.75 649L468.05 646.4L468.35 648.5L468.65 645.3L468.95 648.7L469.25 645.6L469.55 648.7L469.85 647L470.15 648.7L470.45 645.1L470.75 648.9L471.05 645.2L471.35 649L471.65 644.1L471.95 648.5L472.25 646.1L472.55 648.8L472.85 646L473.15 648.8L473.45 643.6L473.75 648.8L474.05 647.1L474.35 648.8L474.65 645.7L474.95 648.5L475.25 645.9L475.55 648.9L475.85 644.1L476.15 648.8L476.45 647.9L476.75 648.5L477.05 645.9L477.35 648.5L477.65 643.9L477.95 648.5L478.25 644.2L478.55 648.9L478.85 647L479.15 648.5L479.45 644.3L479.75 648.9L480.05 646.3L480.35 648.7L480.65 647L480.95 648.6L481.25 647.1L481.55 648.8L481.85 646.2L482.15 648.6L482.45 646.1L482.75 649L483.05 645.8L483.35 648.7L483.65 648.4L483.95 648.7L484.25 648.2L484.55 648.9L484.85 645.8L485.15 648.9L485.45 645.7L485.75 649L486.05 646.7L486.35 648.7L486.65 645.9L486.95 648.8L487.25 647.5L487.55 648.7L487.85 645L488.15 648.7L488.45 648.2L488.75 648.7L489.05 646.7L489.35 649L489.65 646.5L489.95 648.9L490.25 647L490.55 648.6L490.85 646.4L491.15 648.7L491.45 645.8L491.75 648.6L492.05 645.3L492.35 648.9L492.65 644.3L492.95 648.6L493.25 647.4L493.55 648.9L493.85 644.3L494.15 648.8L494.45 645.8L494.75 648.8L495.05 648.2L495.35 648.6L495.65 646.1L495.95 648.8L496.25 646.5L496.55 648.9L496.85 646.4L497.15 648.7L497.45 644.6L497.75 648.8L498.05 647.9L498.35 648.9L498.65 648.3L498.95 648.9L499.25 647.2L499.55 648.8L499.85 644.2L500.15 648.7L500.45 644.3L500.75 648.6L501.05 645.4L501.35 648.8L501.65 646.6L501.95 648.8L502.25 648.4L502.55 648.9L502.85 645.7L503.15 648.9L503.45 647.1L503.75 648.9L504.05 645.7L504.35 649L504.65 646.7L504.95 648.9L505.25 647.4L505.55 649L505.85 646L506.15 648.5L506.45 646.6L506.75 648.8L507.05 647.8L507.35 648.6L507.65 645.9L507.95 648.9L508.25 647.9L508.55 648.6L508.85 643.9L509.15 648.5L509.45 644.2L509.75 648.9L510.05 646.8L510.35 648.5L510.65 643.9L510.95 648.6L511.25 643.8L511.55 648.6L511.85 647.5L512.15 648.6L512.45 644.4L512.75 648.6L513.05 647.6L513.35 648.8L513.65 647L513.95 648.6L514.25 647.5L514.55 648.8L514.85 646L515.15 648.8L515.45 645L515.75 648.7L516.05 643.5L516.35 649L516.65 648.1L516.95 648.8L517.25 648.6L517.55 648.6L517.85 645.4L518.15 648.5L518.45 647.8L518.75 648.5L519.05 646.9L519.35 648.5L519.65 646.8L519.95 648.4L520.25 644.4L520.55 648.5L520.85 647.1L521.15 648.9L521.45 644.8L521.75 648.8L522.05 647.3L522.35 648.5L522.65 644.9L522.95 648.8L523.25 645.3L523.55 648.5L523.85 646.3L524.15 648.7L524.45 648.2L524.75 648.7L525.05 646.8L525.35 648.9L525.65 646.6L525.95 648.8L526.25 648.1L526.55 648.9L526.85 645L527.15 649L527.45 647L527.75 648.9L528.05 648.4L528.35 648.5L528.65 646L528.95 648.7L529.25 644.5L529.55 648.5L529.85 646.5L530.15 648.6L530.45 646.4L530.75 648.5L531.05 645.5L531.35 648.7L531.65 644.6L531.95 649L532.25 645.9L532.55 648.4L532.85 645.1L533.15 648.4L533.45 644.4L533.75 648.8L534.05 643L534.35 648.6L534.65 645.7L534.95 649L535.25 643.6L535.55 649L535.85 647.9L536.15 648.8L536.45 645.4L536.75 648.8L537.05 645L537.35 648.8L537.65 644.1L537.95 648.6L538.25 648.3L538.55 648.8L538.85 646.9L539.15 649L539.45 647L539.75 648.7L540.05 648L540.35 648.8L540.65 644.3L540.95 648.9L541.25 643.1L541.55 648.4L541.85 646.2L542.15 648.8L542.45 647.7L542.75 648.5L543.05 646L543.35 648.7L543.65 647.4L543.95 648.9L544.25 648.2L544.55 649L544.85 648.2L545.15 648.4L545.45 646.3L545.75 649L546.05 647.9L546.35 648.5L546.65 643.4L546.95 648.5L547.25 647.8L547.55 648.6L547.85 645.6L548.15 648.7L548.45 643.2L548.75 648.7L549.05 647.3L549.35 648.8L549.65 646.6L549.95 648.7L550.25 647.2L550.55 649L550.85 648.6L551.15 648.7L551.45 645.7L551.75 649L552.05 647.8L552.35 649L552.65 648.1L552.95 648.7L553.25 644.1L553.55 648.6L553.85 646.1L554.15 648.7L554.45 645.3L554.75 648.5L555.05 646.1L555.35 648.5L555.65 644.8L555.95 648.5L556.25 646.5L556.55 648.6L556.85 643.4L557.15 648.5L557.45 645.4L557.75 648.7L558.05 646.3L558.35 648.7L558.65 648.6L558.95 648.9L559.25 644.8L559.55 648.8L559.85 643.4L560.15 648.9L560.45 648.2L560.75 648.9L561.05 645.3L561.35 648.7L561.65 648.1L561.95 648.6L562.25 644.4L562.55 648.8L562.85 645.5L563.15 648.8L563.45 647.4L563.75 648.9L564.05 648.2L564.35 648.9L564.65 645.8L564.95 648.5L565.25 646.3L565.55 648.6L565.85 648.4L566.15 648.5L566.45 647.8L566.75 648.8L567.05 647.6L567.35 649L567.65 643.5L567.95 649L568.25 647.1L568.55 648.9L568.85 648.3L569.15 648.6L569.45 644.9L569.75 648.5L570.05 646.8L570.35 648.8L570.65 646.3L570.95 648.6L571.25 644.4L571.55 649L571.85 647.1L572.15 649L572.45 646.5L572.75 648.8L573.05 645.6L573.35 649L573.65 644.4L573.95 648.9L574.25 643.3L574.55 648.9L574.85 644.3L575.15 648.9L575.45 647.1L575.75 648.5L576.05 646.1L576.35 648.6L576.65 646.4L576.95 648.9L577.25 644.9L577.55 648.7L577.85 645.4L578.15 648.7L578.45 647.1L578.75 648.7L579.05 646L579.35 648.7L579.65 645.6L579.95 648.6L580.25 644.8L580.55 648.9L580.85 646.1L581.15 648.6L581.45 645.4L581.75 648.8L582.05 643.4L582.35 648.9L582.65 647.2L582.95 648.5L583.25 645.1L583.55 648.7L583.85 644.6L584.15 648.6L584.45 647L584.75 648.9L585.05 644.9L585.35 648.5L585.65 648L585.95 648.9L586.25 645.5L586.55 648.6L586.85 643.1L587.15 648.7L587.45 645.3L587.75 649L588.05 646.5L588.35 648.8L588.65 645.7L588.95 648.7L589.25 647L589.55 648.4L589.85 646.3L590.15 648.6L590.45 646.6L590.75 648.9L591.05 646.6L591.35 649L591.65 645.9L591.95 648.9L592.25 645.2L592.55 648.5L592.85 648.5L593.15 648.8L593.45 642.9L593.75 648.8L594.05 642.7L594.35 648.8L594.65 646.8L594.95 648.6L595.25 645L595.55 648.9L595.85 647.6L596.15 648.6L596.45 647.4L596.75 648.4L597.05 645.8L597.35 648.6L597.65 644.4L597.95 648.8L598.25 643.7L598.55 648.6L598.85 642.6L599.15 648.8L599.45 648L599.75 648.9L600.05 643.4L600.35 649L600.65 646.4L600.95 648.9L601.25 644.5L601.55 648.7L601.85 645.6L602.15 648.8L602.45 645.1L602.75 648.3L603.05 646L603.35 648.9L603.65 641.2L603.95 648.3L604.25 646.4L604.55 648.3L604.85 643L605.15 647.9L605.45 646.9L605.75 648.3L606.05 640L606.35 648.7L606.65 637.7L606.95 633.2L607.25 638.9L607.55 634.9L607.85 634L608.15 647.8L608.45 647L608.75 647.8L609.05 638.2L609.35 648.8L609.65 644.7L609.95 647.9L610.25 645.7L610.55 648.8L610.85 643.3L611.15 648.8L611.45 643.8L611.75 649L612.05 636.7L612.35 648.5L612.65 642.9L612.95 648.7L613.25 637.9L613.55 648.4L613.85 644.8L614.15 648.2L614.45 642.8L614.75 648.3L615.05 642L615.35 648.7L615.65 648.6L615.95 648.4L616.25 645.6L616.55 648.7L616.85 646.9L617.15 649L617.45 645L617.75 648.3L618.05 644.8L618.35 648.6L618.65 648L618.95 649L619.25 646.3L619.55 648.8L619.85 645.4L620.15 648.5L620.45 647.5L620.75 648.4L621.05 647.7L621.35 648.9L621.65 645.6L621.95 648.8L622.25 645.9L622.55 648.6L622.85 647.4L623.15 648.9L623.45 647.4L623.75 648.6L624.05 646.1L624.35 648.7L624.65 648L624.95 648.7L625.25 646.5L625.55 648.6L625.85 646.4L626.15 648.6L626.45 645.6L626.75 648.7L627.05 644L627.35 648.5L627.65 648.1L627.95 648.7L628.25 644.1L628.55 648.9L628.85 645.9L629.15 648.5L629.45 647.1L629.75 648.8L630.05 644.2L630.35 648.6L630.65 648.5L630.95 648.9L631.25 646.3L631.55 648.9L631.85 647.7L632.15 648.6L632.45 647.1L632.75 648.8L633.05 645.2L633.35 649L633.65 647.5L633.95 648.7L634.25 646.3L634.55 648.9" fill="none" stroke="#1f77b4" stroke-width="2.3" stroke-linejoin="round" stroke-linecap="butt"/>
<path d="M54.35 649v2.2M68.17 649v1.5M81.99 649v1.5M95.8 649v1.5M109.62 649v1.5M123.44 649v2.2M137.26 649v1.5M151.08 649v1.5M164.89 649v1.5M178.71 649v1.5M192.53 649v2.2M206.35 649v1.5M220.16 649v1.5M233.98 649v1.5M247.8 649v1.5M261.62 649v2.2M275.44 649v1.5M289.25 649v1.5M303.07 649v1.5M316.89 649v1.5M330.71 649v2.2M344.53 649v1.5M358.34 649v1.5M372.16 649v1.5M385.98 649v1.5M399.8 649v2.2M413.61 649v1.5M427.43 649v1.5M441.25 649v1.5M455.07 649v1.5M468.89 649v2.2M482.7 649v1.5M496.52 649v1.5M510.34 649v1.5M524.16 649v1.5M537.98 649v2.2M551.79 649v1.5M565.61 649v1.5M579.43 649v1.5M593.25 649v1.5M607.06 649v2.2M620.88 649v1.5M634.7 649v1.5M54.35 649h-2.2M54.35 620.83h-2.2M54.35 592.66h-2.2M54.35 564.49h-2.2M54.35 536.32h-2.2M54.35 508.15h-2.2M634.7 649h2.1M634.7 612.33h2.1M634.7 575.65h2.1M634.7 538.98h2.1M634.7 502.3h2.1" stroke="#000" stroke-width="0.6" fill="none"/>
<text x="49.35" y="652.95" font-size="10.4" text-anchor="end">0.00</text>
<text x="49.35" y="624.78" font-size="10.4" text-anchor="end">0.05</text>
<text x="49.35" y="596.61" font-size="10.4" text-anchor="end">0.10</text>
<text x="49.35" y="568.44" font-size="10.4" text-anchor="end">0.15</text>
<text x="49.35" y="540.27" font-size="10.4" text-anchor="end">0.20</text>
<text x="49.35" y="512.1" font-size="10.4" text-anchor="end">0.25</text>
<text x="638.8" y="653.6" font-size="10.4">0</text>
<text x="638.8" y="616.93" font-size="10.4">5</text>
<text x="638.8" y="580.25" font-size="10.4">10</text>
<text x="638.8" y="543.58" font-size="10.4">15</text>
<text x="638.8" y="506.9" font-size="10.4">20</text>
<path clip-path="url(#c3)" d="M54.35 536L55 642.4L55.65 644.6L56.3 649L56.95 649L57.6 649L58.25 649L58.9 649L59.55 649L60.2 649L60.85 649L61.5 649L62.15 649L62.8 649L63.45 649L64.1 645.3L64.75 649L65.4 649L66.05 649L66.7 649L67.35 649L68 649L68.65 649L69.3 649L69.95 649L70.6 649L71.25 649L71.9 649L72.55 649L73.2 649L73.85 649L74.5 649L75.15 649L75.8 649L76.45 649L77.1 649L77.75 649L78.4 649L79.05 649L79.7 649L80.35 649L81 649L81.65 649L82.3 649L82.95 649L83.6 649L84.25 649L84.9 647.2L85.55 649L86.2 649L86.85 649L87.5 649L88.15 649L88.8 649L89.45 649L90.1 649L90.75 649L91.4 649L92.05 649L92.7 649L93.35 649L94 649L94.65 649L95.3 649L95.95 649L96.6 649L97.25 649L97.9 649L98.55 649L99.2 649L99.85 649L100.5 649L101.15 649L101.8 649L102.45 649L103.1 649L103.75 649L104.4 649L105.05 649L105.7 649L106.35 649L107 649L107.65 649L108.3 649L108.95 649L109.6 649L110.25 649L110.9 649L111.55 649L112.2 649L112.85 649L113.5 649L114.15 649L114.8 649L115.45 649L116.1 649L116.75 649L117.4 649L118.05 649L118.7 649L119.35 649L120 649L120.65 649L121.3 649L121.95 649L122.6 649L123.25 649L123.9 649L124.55 649L125.2 649L125.85 649L126.5 649L127.15 649L127.8 649L128.45 649L129.1 649L129.75 649L130.4 649L131.05 649L131.7 649L132.35 649L133 649L133.65 649L134.3 649L134.95 649L135.6 649L136.25 649L136.9 649L137.55 649L138.2 649L138.85 649L139.5 649L140.15 649L140.8 649L141.45 649L142.1 649L142.75 649L143.4 649L144.05 649L144.7 649L145.35 649L146 649L146.65 649L147.3 649L147.95 649L148.6 649L149.25 649L149.9 649L150.55 649L151.2 649L151.85 649L152.5 649L153.15 649L153.8 649L154.45 649L155.1 649L155.75 649L156.4 649L157.05 649L157.7 649L158.35 649L159 649L159.65 649L160.3 649L160.95 649L161.6 649L162.25 649L162.9 649L163.55 649L164.2 649L164.85 649L165.5 649L166.15 649L166.8 649L167.45 649L168.1 649L168.75 649L169.4 649L170.05 649L170.7 649L171.35 649L172 649L172.65 649L173.3 649L173.95 649L174.6 649L175.25 649L175.9 649L176.55 649L177.2 649L177.85 649L178.5 649L179.15 649L179.8 649L180.45 649L181.1 649L181.75 649L182.4 649L183.05 649L183.7 649L184.35 649L185 649L185.65 649L186.3 649L186.95 649L187.6 649L188.25 649L188.9 649L189.55 649L190.2 649L190.85 649L191.5 649L192.15 649L192.8 649L193.45 649L194.1 649L194.75 649L195.4 649L196.05 649L196.7 649L197.35 649L198 649L198.65 649L199.3 649L199.95 649L200.6 649L201.25 649L201.9 649L202.55 649L203.2 649L203.85 649L204.5 649L205.15 649L205.8 649L206.45 649L207.1 649L207.75 649L208.4 649L209.05 649L209.7 649L210.35 649L211 649L211.65 649L212.3 649L212.95 649L213.6 649L214.25 649L214.9 649L215.55 649L216.2 649L216.85 649L217.5 649L218.15 649L218.8 649L219.45 649L220.1 649L220.75 649L221.4 649L222.05 649L222.7 649L223.35 649L224 649L224.65 649L225.3 649L225.95 649L226.6 649L227.25 649L227.9 649L228.55 649L229.2 649L229.85 649L230.5 649L231.15 649L231.8 649L232.45 649L233.1 649L233.75 649L234.4 649L235.05 649L235.7 649L236.35 649L237 649L237.65 649L238.3 649L238.95 649L239.6 649L240.25 649L240.9 649L241.55 649L242.2 649L242.85 649L243.5 649L244.15 649L244.8 649L245.45 649L246.1 649L246.75 649L247.4 649L248.05 649L248.7 649L249.35 649L250 649L250.65 649L251.3 649L251.95 649L252.6 649L253.25 649L253.9 649L254.55 649L255.2 649L255.85 649L256.5 649L257.15 649L257.8 649L258.45 649L259.1 649L259.75 649L260.4 649L261.05 649L261.7 649L262.35 649L263 649L263.65 649L264.3 649L264.95 649L265.6 649L266.25 649L266.9 649L267.55 649L268.2 649L268.85 649L269.5 649L270.15 649L270.8 649L271.45 649L272.1 649L272.75 649L273.4 649L274.05 649L274.7 649L275.35 649L276 649L276.65 649L277.3 649L277.95 649L278.6 649L279.25 649L279.9 649L280.55 649L281.2 649L281.85 649L282.5 649L283.15 649L283.8 649L284.45 649L285.1 649L285.75 649L286.4 649L287.05 649L287.7 649L288.35 649L289 649L289.65 649L290.3 649L290.95 649L291.6 649L292.25 649L292.9 649L293.55 649L294.2 649L294.85 649L295.5 649L296.15 649L296.8 649L297.45 649L298.1 649L298.75 649L299.4 649L300.05 649L300.7 649L301.35 649L302 649L302.65 649L303.3 649L303.95 649L304.6 649L305.25 649L305.9 649L306.55 649L307.2 649L307.85 649L308.5 649L309.15 649L309.8 649L310.45 649L311.1 647.4L311.75 649L312.4 649L313.05 649L313.7 649L314.35 649L315 649L315.65 649L316.3 649L316.95 649L317.6 649L318.25 649L318.9 649L319.55 649L320.2 649L320.85 649L321.5 649L322.15 649L322.8 649L323.45 649L324.1 649L324.75 649L325.4 649L326.05 649L326.7 649L327.35 649L328 649L328.65 649L329.3 649L329.95 649L330.6 647.9L331.25 645.3L331.9 649L332.55 649L333.2 649L333.85 649L334.5 649L335.15 649L335.8 649L336.45 649L337.1 649L337.75 649L338.4 649L339.05 649L339.7 649L340.35 649L341 649L341.65 649L342.3 649L342.95 649L343.6 649L344.25 649L344.9 649L345.55 649L346.2 649L346.85 649L347.5 649L348.15 649L348.8 649L349.45 649L350.1 649L350.75 649L351.4 649L352.05 649L352.7 649L353.35 649L354 649L354.65 649L355.3 649L355.95 649L356.6 649L357.25 649L357.9 649L358.55 649L359.2 649L359.85 649L360.5 649L361.15 649L361.8 649L362.45 649L363.1 649L363.75 649L364.4 649L365.05 649L365.7 649L366.35 649L367 649L367.65 649L368.3 649L368.95 649L369.6 649L370.25 649L370.9 649L371.55 649L372.2 649L372.85 649L373.5 649L374.15 649L374.8 649L375.45 649L376.1 649L376.75 649L377.4 649L378.05 649L378.7 649L379.35 649L380 649L380.65 649L381.3 649L381.95 649L382.6 649L383.25 649L383.9 649L384.55 649L385.2 649L385.85 649L386.5 649L387.15 649L387.8 649L388.45 649L389.1 649L389.75 649L390.4 649L391.05 649L391.7 649L392.35 649L393 649L393.65 649L394.3 649L394.95 649L395.6 649L396.25 649L396.9 649L397.55 649L398.2 649L398.85 649L399.5 649L400.15 649L400.8 649L401.45 649L402.1 649L402.75 649L403.4 649L404.05 649L404.7 649L405.35 649L406 649L406.65 649L407.3 649L407.95 649L408.6 649L409.25 649L409.9 649L410.55 649L411.2 649L411.85 649L412.5 649L413.15 649L413.8 649L414.45 649L415.1 649L415.75 649L416.4 649L417.05 649L417.7 649L418.35 649L419 649L419.65 649L420.3 649L420.95 649L421.6 649L422.25 649L422.9 649L423.55 649L424.2 649L424.85 649L425.5 649L426.15 649L426.8 649L427.45 649L428.1 649L428.75 649L429.4 649L430.05 649L430.7 649L431.35 649L432 649L432.65 649L433.3 649L433.95 649L434.6 649L435.25 649L435.9 649L436.55 649L437.2 649L437.85 649L438.5 649L439.15 649L439.8 649L440.45 649L441.1 649L441.75 649L442.4 649L443.05 649L443.7 649L444.35 649L445 649L445.65 649L446.3 649L446.95 649L447.6 649L448.25 649L448.9 649L449.55 649L450.2 649L450.85 649L451.5 649L452.15 649L452.8 649L453.45 649L454.1 649L454.75 649L455.4 649L456.05 649L456.7 649L457.35 649L458 649L458.65 649L459.3 649L459.95 649L460.6 649L461.25 649L461.9 649L462.55 649L463.2 649L463.85 649L464.5 649L465.15 649L465.8 649L466.45 649L467.1 649L467.75 649L468.4 649L469.05 649L469.7 649L470.35 649L471 649L471.65 649L472.3 649L472.95 649L473.6 649L474.25 649L474.9 649L475.55 649L476.2 649L476.85 649L477.5 649L478.15 649L478.8 649L479.45 649L480.1 649L480.75 649L481.4 649L482.05 649L482.7 649L483.35 649L484 649L484.65 649L485.3 649L485.95 649L486.6 649L487.25 649L487.9 649L488.55 649L489.2 649L489.85 649L490.5 649L491.15 649L491.8 649L492.45 649L493.1 649L493.75 649L494.4 649L495.05 649L495.7 649L496.35 649L497 649L497.65 649L498.3 649L498.95 649L499.6 649L500.25 649L500.9 649L501.55 649L502.2 649L502.85 649L503.5 649L504.15 649L504.8 649L505.45 649L506.1 649L506.75 649L507.4 649L508.05 649L508.7 649L509.35 649L510 649L510.65 649L511.3 649L511.95 649L512.6 649L513.25 649L513.9 649L514.55 649L515.2 649L515.85 649L516.5 649L517.15 649L517.8 649L518.45 649L519.1 649L519.75 649L520.4 649L521.05 649L521.7 649L522.35 649L523 649L523.65 649L524.3 649L524.95 649L525.6 649L526.25 649L526.9 649L527.55 649L528.2 649L528.85 649L529.5 649L530.15 649L530.8 649L531.45 649L532.1 649L532.75 649L533.4 649L534.05 649L534.7 649L535.35 649L536 649L536.65 649L537.3 649L537.95 649L538.6 649L539.25 649L539.9 649L540.55 649L541.2 649L541.85 649L542.5 649L543.15 649L543.8 649L544.45 649L545.1 649L545.75 649L546.4 649L547.05 649L547.7 649L548.35 649L549 649L549.65 649L550.3 649L550.95 649L551.6 649L552.25 649L552.9 649L553.55 649L554.2 649L554.85 649L555.5 649L556.15 649L556.8 649L557.45 649L558.1 649L558.75 649L559.4 649L560.05 649L560.7 649L561.35 649L562 649L562.65 649L563.3 649L563.95 649L564.6 649L565.25 649L565.9 648.5L566.55 648.2L567.2 648.7L567.85 648.4L568.5 646.8L569.15 648.7L569.8 645.3L570.45 648.3L571.1 648.7L571.75 648.3L572.4 648.4L573.05 648.7L573.7 648.2L574.35 648.5L575 648.6L575.65 648.2L576.3 648.6L576.95 648.5L577.6 648.2L578.25 648.7L578.9 648.4L579.55 645.3L580.2 648.7L580.85 648.4L581.5 648.3L582.15 648.7L582.8 648.3L583.45 648.4L584.1 648.7L584.75 648.2L585.4 648.5L586.05 648.6L586.7 648.2L587.35 648.6L588 648.6L588.65 648.2L589.3 648.6L589.95 648.5L590.6 648.2L591.25 648.7L591.9 648.4L592.55 648.3L593.2 648.7L593.85 648.3L594.5 648.4L595.15 648.7L595.8 648.2L596.45 648.5L597.1 648.7L597.75 648.2L598.4 646.4L599.05 648.6L599.7 648.2L600.35 648.6L601 648.5L601.65 648.2L602.3 648.7L602.95 648.4L603.6 648.3L604.25 648.7L604.9 648.3L605.55 648.3L606.2 648.7L606.85 648.3L607.5 648.4L608.15 648.7L608.8 648.2L609.45 648.5L610.1 648.6L610.75 648.2L611.4 648.6L612.05 648.5L612.7 648.2L613.35 648.7L614 648.4L614.65 648.2L615.3 648.7L615.95 648.4L616.6 648.3L617.25 648.7L617.9 648.3L618.55 648.4L619.2 648.7L619.85 648.2L620.5 648.5L621.15 649L621.8 649L622.45 649L623.1 649L623.75 649L624.4 649L625.05 649L625.7 649L626.35 649L627 649L627.65 649L628.3 649L628.95 649L629.6 649L630.25 649L630.9 649L631.55 649L632.2 649L632.85 649L633.5 649L634.15 649" fill="none" stroke="#ff7f0e" stroke-width="1.2" stroke-dasharray="1.2 1.97" stroke-dashoffset="0.00" stroke-linejoin="round"/>
<path clip-path="url(#c3)" d="M577.62 648.7L578.32 629.9L579.02 648.7" fill="none" stroke="#ff7f0e" stroke-width="1.2" stroke-dasharray="1.2 1.97" stroke-dashoffset="0.84" stroke-linejoin="round"/>
<path clip-path="url(#c3)" d="M587.65 648.7L588.35 518.8L589.05 648.7" fill="none" stroke="#ff7f0e" stroke-width="1.2" stroke-dasharray="1.2 1.97" stroke-dashoffset="1.46" stroke-linejoin="round"/>
<path clip-path="url(#c3)" d="M606.36 648.7L607.06 592.9L607.76 648.7" fill="none" stroke="#ff7f0e" stroke-width="1.2" stroke-dasharray="1.2 1.97" stroke-dashoffset="1.84" stroke-linejoin="round"/>
<path clip-path="url(#c3)" d="M607.88 648.7L608.58 634.0L609.28 648.7" fill="none" stroke="#ff7f0e" stroke-width="1.2" stroke-dasharray="1.2 1.97" stroke-dashoffset="1.70" stroke-linejoin="round"/>
<path clip-path="url(#c3)" d="M73.88 648.7L74.58 640.2L75.28 648.7" fill="none" stroke="#ff7f0e" stroke-width="1.2" stroke-dasharray="1.2 1.97" stroke-dashoffset="1.58" stroke-linejoin="round"/>
<rect x="54.35" y="502.3" width="580.35" height="146.7" fill="none" stroke="#000" stroke-width="0.6"/>
<text x="65.4" y="524.2" font-size="13.2">d)<tspan dx="14.6">PUYO (EN)</tspan></text>
</g>
<text x="54.35" y="661.2" font-size="10.4" text-anchor="middle">0.00</text>
<text x="123.44" y="661.2" font-size="10.4" text-anchor="middle">0.25</text>
<text x="192.53" y="661.2" font-size="10.4" text-anchor="middle">0.50</text>
<text x="261.62" y="661.2" font-size="10.4" text-anchor="middle">0.75</text>
<text x="330.71" y="661.2" font-size="10.4" text-anchor="middle">1.00</text>
<text x="399.8" y="661.2" font-size="10.4" text-anchor="middle">1.25</text>
<text x="468.89" y="661.2" font-size="10.4" text-anchor="middle">1.50</text>
<text x="537.98" y="661.2" font-size="10.4" text-anchor="middle">1.75</text>
<text x="607.06" y="661.2" font-size="10.4" text-anchor="middle">2.00</text>
<text x="344.5" y="673.7" font-size="10.65" text-anchor="middle">Frequency (day<tspan dy="-4" font-size="7.3">−1</tspan><tspan dy="4">)</tspan></text>
<text transform="translate(10.3 330.3) rotate(-90)" font-size="10.65" text-anchor="middle">Spectral amplitudes of dv/v (%)</text>
<text transform="translate(674.7 330.6) rotate(-90)" font-size="10.65" text-anchor="middle">Spectral amplitudes of synthetic vol. strain (nstr)</text>
<g id="legend">
<rect x="281.4" y="16.4" width="126.1" height="30.4" rx="1.6" fill="#fff" fill-opacity="0.8" stroke="#ccc" stroke-width="0.75"/>
<path d="M285.35 24.3h18.7" stroke="#1f77b4" stroke-width="2.3" stroke-linecap="square"/>
<path d="M285.2 37.8h18.7" stroke="#ff7f0e" stroke-width="1.2" stroke-dasharray="1.2 1.97"/>
<text x="312.1" y="27.3" font-size="9.35">Measured dv/v</text>
<text x="312.1" y="41.1" font-size="9.35">Syn. SET vol. strain</text>
</g>
</svg>
</body></html>
